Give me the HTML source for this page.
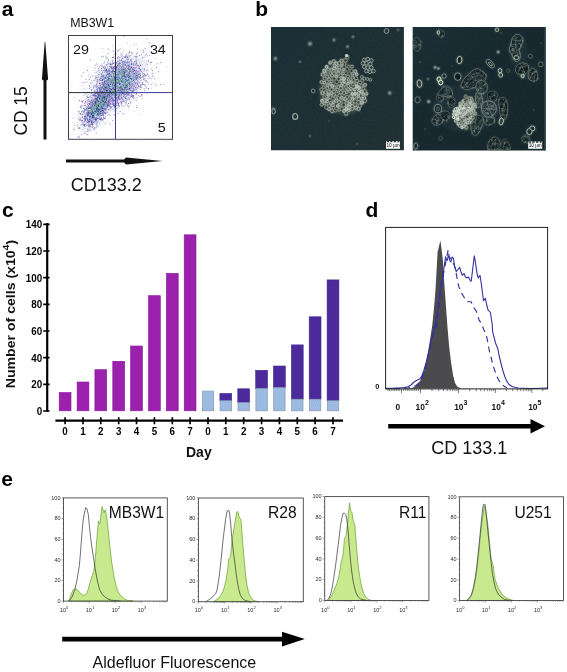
<!DOCTYPE html>
<html lang="en"><head><meta charset="utf-8"><title>Figure</title>
<style>
html,body{margin:0;padding:0;background:#fff}
svg{display:block}
text{font-family:"Liberation Sans",sans-serif;fill:#111}
.pl{font-size:21px;font-weight:bold;fill:#000}
.tb{font-size:10.6px;font-weight:bold;fill:#000}
.td{font-size:8.4px;font-weight:bold;fill:#111}
.te{font-size:5.5px;fill:#2a2a2a}
</style></head><body>
<svg width="567" height="672" viewBox="0 0 567 672">
<defs>
<clipPath id="clipA"><rect x="69.4" y="36.1" width="102.4" height="102.4"/></clipPath>
<filter id="blA" x="-30%" y="-60%" width="160%" height="220%"><feGaussianBlur stdDeviation="5"/></filter>
<pattern id="dots" width="2.2" height="4" patternUnits="userSpaceOnUse"><rect x=".3" y=".4" width=".9" height=".9" fill="#301050" opacity=".13"/><rect x="1.4" y="2.4" width=".9" height=".9" fill="#301050" opacity=".13"/></pattern>
<clipPath id="c1"><rect x="271" y="27" width="132.9" height="123.5"/></clipPath>
<clipPath id="c2"><rect x="412.7" y="27" width="132.9" height="123.5"/></clipPath>
<linearGradient id="bg1" x1="0" y1="0" x2="1" y2="1"><stop offset="0" stop-color="#1a2e36"/><stop offset=".5" stop-color="#1d2f34"/><stop offset="1" stop-color="#203033"/></linearGradient>
<linearGradient id="bg2" x1="0" y1="0" x2="1" y2="1"><stop offset="0" stop-color="#1a2e35"/><stop offset=".4" stop-color="#16282e"/><stop offset="1" stop-color="#15262b"/></linearGradient>
<radialGradient id="glow"><stop offset="0" stop-color="#aebbb0" stop-opacity=".95"/><stop offset=".45" stop-color="#7d8c86" stop-opacity=".6"/><stop offset="1" stop-color="#4a5a58" stop-opacity="0"/></radialGradient>
<radialGradient id="halo"><stop offset="0" stop-color="#8fa098" stop-opacity=".55"/><stop offset="1" stop-color="#8fa098" stop-opacity="0"/></radialGradient>
<filter id="b3" x="-20%" y="-20%" width="140%" height="140%"><feGaussianBlur stdDeviation=".5"/></filter>
<filter id="soft" x="-10%" y="-10%" width="120%" height="120%"><feGaussianBlur stdDeviation="1.2" result="b"/><feComponentTransfer in="b" result="b2"><feFuncA type="linear" slope=".55"/></feComponentTransfer><feGaussianBlur in="SourceGraphic" stdDeviation=".66" result="s"/><feMerge><feMergeNode in="b2"/><feMergeNode in="s"/></feMerge></filter>
<filter id="b0"><feGaussianBlur stdDeviation=".25"/></filter>
<filter id="b6" x="-20%" y="-20%" width="140%" height="140%"><feGaussianBlur stdDeviation=".6"/></filter>
<filter id="b12" x="-30%" y="-30%" width="160%" height="160%"><feGaussianBlur stdDeviation="1.3"/></filter>
<filter id="grain" x="0" y="0" width="100%" height="100%"><feTurbulence type="fractalNoise" baseFrequency=".55" numOctaves="2" seed="4" result="n"/><feColorMatrix in="n" type="matrix" values="0 0 0 0 .55  0 0 0 0 .68  0 0 0 0 .66  0 0 0 .55 -.18"/><feComposite operator="in" in2="SourceGraphic"/></filter>
</defs>
<rect width="567" height="672" fill="#fff"/>
<g opacity=".999">
<g id="pa">
<text x="1.8" y="15.9" class="pl">a</text>
<text transform="translate(70.2 27.2) scale(1.03 1)" font-size="12">MB3W1</text>
<g clip-path="url(#clipA)">
<g filter="url(#blA)"><ellipse transform="translate(119 81.5) rotate(-42)" rx="29" ry="20" fill="#8e95cc" opacity=".24"/><ellipse transform="translate(115 85) rotate(-45)" rx="22" ry="12" fill="#8aa8d0" opacity=".16"/><ellipse transform="translate(97 107.5) rotate(-56)" rx="24" ry="10" fill="#8e90c8" opacity=".24"/></g>
<path d="M119.9 63.5h.8M114 83.8h.8M125 82.8h.8M107.7 86.2h.8M121.6 77.2h.8M80.4 106.3h.8M110.3 88.5h.8M152 76.1h.8M113.9 100.8h.8M123.9 73h.8M119.2 81.2h.8M114 85.4h.8M103.5 68.2h.8M134.7 72.8h.8M109.4 91.7h.8M91.4 110.8h.8M139.7 70.5h.8M114.5 87.9h.8M143.2 79.3h.8M130 69.8h.8M116.3 94.8h.8M143.8 68.9h.8M114 84h.8M125.9 96.1h.8M103.2 88.5h.8M101 76.5h.8M126.2 86.3h.8M143.6 73.6h.8M122 65.9h.8M118.9 77.6h.8M101.1 74.5h.8M117.5 70.8h.8M90.6 101.7h.8M114.9 81.2h.8M124.1 88.1h.8M127.5 72.1h.8M98.2 115.7h.8M104.6 90.1h.8M105.6 70.2h.8M99.3 101.5h.8M88.6 108.4h.8M126 54.4h.8M94.5 109h.8M134.3 77.8h.8M132.9 96.8h.8M102.7 118.8h.8M108.4 85.9h.8M109.1 73.1h.8M96.3 114.7h.8M98.9 96.9h.8M136.6 105.3h.8M120 73.3h.8M123 72h.8M95.3 65.3h.8M114.2 106.9h.8M112.5 100.2h.8M117.8 96.7h.8M138.1 74.4h.8M111.8 68.5h.8M91.5 114.7h.8M98.9 112.4h.8M120.4 93.7h.8M102.9 101.8h.8M98.9 89h.8M101.6 111.8h.8M84.6 109.7h.8M125.7 76.7h.8M113.3 83.6h.8M140.7 71.4h.8M101.9 83.1h.8M91.8 82.7h.8M137.6 87.7h.8M135.9 53.7h.8M93.7 129.3h.8M104.3 109.5h.8M96.8 82.1h.8M124.6 87.4h.8M102.7 99.6h.8M108.2 102.3h.8M95.5 102.9h.8M136.3 78.7h.8M132.7 70h.8M95.8 133.1h.8M114 79h.8M111.9 82h.8M112 100.1h.8M101.5 77.9h.8M103.7 97.7h.8M102.1 101.2h.8M105.7 96.3h.8M97 93.4h.8M142.1 83.2h.8M106.3 102.3h.8M115.2 96.4h.8M103.2 108.6h.8M103.5 89.3h.8M147.2 64.8h.8M97.2 90.2h.8M109.4 73h.8M105.4 97.7h.8M127.9 89.1h.8M106.9 87.6h.8M121.9 78.8h.8M110.9 67.9h.8M111 98.4h.8M117.6 97.6h.8M99.2 110.2h.8M91.3 114h.8M108.9 102.1h.8M115.4 114h.8M102.1 99.3h.8M110.4 93h.8M126 93.9h.8M119.3 78.5h.8M100.8 103.3h.8M107 104.6h.8M127.3 59.9h.8M116.3 82.6h.8M123.7 94.6h.8M103.5 88.4h.8M129.6 76.1h.8M104.8 85.7h.8M101.4 105.6h.8M104.9 78.5h.8M118.2 87.5h.8M104.7 105.8h.8M124.2 57.3h.8M92 105.7h.8M95 106.1h.8M127.3 87.3h.8M113 76.3h.8M127.8 67.8h.8M103.8 104.2h.8M87.2 115.6h.8M98.9 101.1h.8M104.5 108.2h.8M125.6 63h.8M135.4 64.2h.8M109.6 101h.8M138.8 68.8h.8M117.8 104.3h.8M106.8 104.1h.8M143 75.9h.8M107.4 101.3h.8M135.8 100.1h.8M120.8 94.5h.8M137.3 88.4h.8M115.4 89.8h.8M113.1 87.7h.8M97.3 96.4h.8M87.5 120.5h.8M103 100.3h.8M118.2 76.7h.8M112.7 94.4h.8M110.2 79.4h.8M118.4 72.7h.8M107.5 90.7h.8M97.7 101.3h.8M138.7 77h.8M111.6 77.2h.8M98.3 70.2h.8M80 107.3h.8M92.9 109.2h.8M93.2 101h.8M132.6 92h.8M94.4 114.5h.8M83.8 118.8h.8M107.1 95.6h.8M95 104.6h.8M121.8 82.3h.8M103.4 98.8h.8M97.9 109h.8M110 89.7h.8M107.7 102.3h.8M87.3 113.2h.8M116.8 83.6h.8M113.9 95.5h.8M89.4 104.6h.8M137.4 74.2h.8M86.8 96.1h.8M119.4 75.1h.8M108 84.7h.8M102.4 119.8h.8M98.7 93.7h.8M131.8 52.8h.8M115.7 100.1h.8M120.9 80.9h.8M109.7 124.1h.8M105.5 104.9h.8M112 88.1h.8M91.5 123h.8M119.2 60.8h.8M122.8 82.9h.8M85.9 110.5h.8M116.6 91.2h.8M126.4 85.3h.8M112.8 51.4h.8M132.8 64.4h.8M112.9 71.2h.8M109.5 70.2h.8M108.2 77.8h.8M125.3 70.8h.8M88.6 101.6h.8M97.8 109h.8M103.5 76.2h.8M89.9 124.4h.8M121 92h.8M101.5 108.5h.8M96.2 110.6h.8M102.8 105.6h.8M99.9 91.7h.8M95.5 118.8h.8M106 81.5h.8M109.8 76.5h.8M118.7 76.9h.8M115.7 67.5h.8M93.7 105.3h.8M135.9 93.7h.8M115 60.3h.8M128.6 62.2h.8M124.3 77.9h.8M114.7 63.7h.8M110.9 81h.8M128.7 81.2h.8M125.4 68.5h.8M130.7 83.7h.8M88.8 126h.8M109.8 93.3h.8M138.8 73.5h.8M113.1 105.2h.8M87.7 114.6h.8M113.3 92.9h.8M122.6 78.7h.8M87.4 122.4h.8M113.3 73.2h.8M112.6 78.9h.8M93.7 101.2h.8M94 102.5h.8M137.5 80.7h.8M107.6 94.7h.8M104.4 102.7h.8M84.6 117.9h.8M103.6 94.7h.8M122.1 74h.8M99.7 78h.8M105.6 111.1h.8M125.9 78.1h.8M91.3 100.2h.8M135.7 61.8h.8M87 122.2h.8M144.7 80.6h.8M117.7 63.5h.8M103.8 94.7h.8M126.5 91.8h.8M93.7 103.6h.8M117.8 72.4h.8M123.6 36.6h.8M114.6 75.8h.8M109.6 109h.8M101.2 102.1h.8M113.5 94.8h.8M140.7 85.2h.8M90 119.2h.8M136.2 89.4h.8M87.4 113.3h.8M107.2 80.1h.8M116.6 85.8h.8M92.2 106.3h.8M119.5 92.2h.8M99.6 108.3h.8M124.2 83h.8M109.6 106.5h.8M100.3 90h.8M102.9 93.2h.8M97.6 113.6h.8M98.7 88.1h.8M129 82.9h.8M104.6 77.5h.8M83.4 111.4h.8M104.5 97.6h.8M101.4 89.2h.8M115.1 86.6h.8M144.6 76h.8M137.9 71.7h.8M127.1 86.1h.8M99.8 83.6h.8M92.8 113.1h.8M103 85h.8M102 93.8h.8M133.8 90.5h.8M105.2 118.1h.8M124.1 101.8h.8M79.4 128.6h.8M88.6 114.9h.8M128.1 95.1h.8M120 73.1h.8M127.7 82.6h.8M116.9 83.2h.8M94.2 95.1h.8M102.7 114.7h.8M111.5 98.2h.8M129.1 93.2h.8M96.9 94.5h.8M120.7 101.3h.8M135.3 75.7h.8M88.7 103.5h.8M115.8 74.3h.8M110.7 89.9h.8M105.3 87.2h.8M124.6 82.7h.8M107.5 92.3h.8M113.5 105.8h.8M102 95.4h.8M112.3 120.7h.8M93.3 111.7h.8M117.9 90h.8M99.5 113.6h.8M98.1 108.5h.8M98.8 107.3h.8M94.4 127.6h.8M136.2 63.2h.8M123.1 83.3h.8M109.1 76.3h.8M123.4 63h.8M99.7 103.4h.8M108.9 90.4h.8M116.3 82.4h.8M95.2 111.7h.8M100.4 109.6h.8M120.9 89.1h.8M121.6 90.8h.8M128.9 71.3h.8M124.3 85.7h.8M104.7 83.7h.8M108.3 87.3h.8M106.6 106.6h.8M113.3 57.3h.8M91.6 122.8h.8M93.8 115.1h.8M103.4 82.4h.8M94.9 104.5h.8M129.3 69.3h.8M120.9 86h.8M95 111.6h.8M117 57.8h.8M119.4 92.9h.8M92.3 113.8h.8M99.7 100.2h.8M91.6 97.9h.8M121.4 87h.8M126.2 77.1h.8M106.1 108h.8M125.2 79.4h.8M93.7 112.8h.8M116.1 63.9h.8M100.6 115.4h.8M91.1 100.8h.8M99.7 108.5h.8M116.8 79.6h.8M117.4 68.1h.8M107.7 100.5h.8M104 100.1h.8M103.9 86.9h.8M122.6 73.9h.8M88.3 111.2h.8M95.4 111h.8M84 116.8h.8M115.2 66.9h.8M94.2 106.2h.8M117.3 87.1h.8M108 69.8h.8M101.7 92.8h.8M102.5 72.2h.8M112.8 80.7h.8M129 84.7h.8M81.3 106.9h.8M151.7 73.2h.8M106.8 81.1h.8M98.7 96.1h.8M123.2 70.1h.8M95.7 105.8h.8M135.9 79.8h.8M138.4 78.7h.8M124.1 92h.8M138.9 86.7h.8M131.3 96.5h.8M88.4 126.6h.8M128 77.9h.8M135.8 74h.8M100.2 109.8h.8M125.3 86.7h.8M100.6 87.3h.8M116.9 77.4h.8M114.6 67h.8M95.7 117.7h.8M111.9 104.1h.8M119.5 83.8h.8M125 83.8h.8M133.1 75.8h.8M104.7 103.3h.8M123.1 75.2h.8M96.2 112h.8M96.5 102.9h.8M94.3 113.4h.8M98.9 67.1h.8M103.4 89.5h.8M100.7 97h.8M133.5 73.5h.8M98.2 94.4h.8M87.7 125.2h.8M122.3 58.3h.8M108.9 90.6h.8M83.6 124.6h.8M98.8 119.1h.8M86.7 114.8h.8M132.6 68.2h.8M88.2 109.1h.8M124.5 88.1h.8M94.2 121.3h.8M119.8 74.1h.8M127.2 68.7h.8M89.5 101h.8M128.8 76.9h.8M118.8 77.8h.8M109.2 90.9h.8M100.4 113.5h.8M85 119.7h.8M106.6 71.1h.8M121.6 93.4h.8M106.2 93.3h.8M84.1 126.2h.8M104.7 106h.8M99.2 98.9h.8M99.4 88.6h.8M131.3 94.1h.8M98.3 112.6h.8M111 90.3h.8M121.5 97.7h.8M120.8 97.6h.8M146.5 81.9h.8M113.1 92.6h.8M123.9 77h.8M103.4 88.5h.8M78.6 137.5h.8M112.9 91.6h.8M89 119.2h.8M117.3 100.7h.8M98.7 95.1h.8M105.1 77.1h.8M107.2 104.8h.8M87.1 104h.8M92.4 95h.8M114.6 80.9h.8M82.5 122.7h.8M107.8 105.7h.8M131.9 97.2h.8M91.1 112.1h.8M86.9 116h.8M112.5 99.5h.8M110.6 64.3h.8M143.3 84.5h.8M123.6 71.8h.8M134.5 90.1h.8M128.6 72.2h.8M115.7 110.6h.8M114.5 93.1h.8M86.6 106.6h.8M122.6 65.9h.8M88.3 113.6h.8M125.1 87.7h.8M92.8 95.7h.8M125.5 87.3h.8M111.1 94.3h.8M107.8 83.2h.8M116.8 83h.8M121.7 76h.8M106.4 65.1h.8M124.9 81.3h.8M91.2 124.1h.8M131.1 86.7h.8M90.9 90.7h.8M134.2 86.2h.8M126.9 81.2h.8M97.4 109.5h.8M112 102.1h.8M119.3 65.6h.8M110.6 74.6h.8M147.3 55.9h.8M97.8 94.7h.8M113.2 104.8h.8M101.3 104.2h.8M133.1 88.6h.8M95.1 102.2h.8M109.4 90.5h.8M128.3 107h.8M117.5 103.8h.8M96.9 79.9h.8M139.7 96.5h.8M92.1 104.2h.8M112.2 80.2h.8M123.6 95.6h.8M93.3 116.1h.8M123.8 97.7h.8M101.4 109.1h.8M130.3 60.5h.8M88 115.3h.8M87.7 124.2h.8M81.9 117.2h.8M89.1 117.4h.8M107.7 95.9h.8M102.9 106h.8M118.8 90.3h.8M109.6 86.4h.8M88.5 122.8h.8M107.8 63.8h.8M109.7 67.3h.8M126.4 87.3h.8M109 78.1h.8M126.5 93.6h.8M100.8 91.4h.8M110.2 72h.8M90.9 93.6h.8M108.2 89.3h.8M106.2 90.8h.8M94.8 97h.8M98.4 109.8h.8M83 125.2h.8M130.4 68.5h.8M109.5 105h.8M129.5 77.4h.8M137.7 65.5h.8M86.9 92.2h.8M146.6 38.9h.8M109.1 102.4h.8M88.7 119.4h.8M127.1 74.9h.8M102.9 114.7h.8M100.8 102.6h.8M113.8 93.7h.8M149.7 78.4h.8M89.4 117h.8M112.6 98.5h.8M131.4 61.5h.8M95.1 93.1h.8M95.9 115.7h.8M135 77.3h.8M103.4 70.5h.8M90.5 95.2h.8M90.5 112h.8M124.5 71.8h.8M92.3 117.1h.8M124.2 74.4h.8M138.9 66.4h.8M95.6 120.8h.8M135.7 44.6h.8M135.7 59.3h.8M119 92.2h.8M121.6 71.7h.8M89.7 112.1h.8M82.6 124.5h.8M102.4 107.1h.8M131.4 52.8h.8M99.7 104.8h.8M87.6 115h.8M105.6 108.7h.8M81.6 134.7h.8M135.5 67.4h.8M127.5 65.1h.8M99.8 106.7h.8M102.6 100.9h.8M108.8 88h.8M126.3 56.7h.8M90.9 109.5h.8M90.3 126.8h.8M113.5 89.4h.8M102 82.6h.8M121.9 91.6h.8M93.1 95.5h.8M103 117.3h.8M120.4 86.7h.8M125.5 84.6h.8M79.2 127.7h.8M97.5 114.8h.8M94.3 117.9h.8M109.2 95.4h.8M128.8 69.2h.8M104.9 69h.8M102.8 113.5h.8M107.8 80.2h.8M112.1 95h.8M100.1 107.6h.8M101.8 86.7h.8M113.4 79.6h.8M101.9 113.2h.8M106.9 104.6h.8M108.5 83.9h.8M93.6 128.8h.8M140.2 65.6h.8M111.4 67.4h.8M117.7 82.6h.8M118.7 80.8h.8M104.8 94.5h.8M93.9 109.5h.8M114.2 97.5h.8M96.5 100.6h.8M113.3 88.5h.8M129.8 59.7h.8M111.3 94.9h.8M103.8 91.8h.8M114.5 85h.8M84.2 125.7h.8M124.9 77h.8M135.9 57.1h.8M122.6 76.4h.8M106.1 94.9h.8M98 103h.8M134.3 68.2h.8M102.6 67.2h.8M104.6 94.8h.8M128.7 89.8h.8M128.8 63.8h.8M95.2 112.4h.8M129.3 72h.8M118.4 96h.8M135.2 83.9h.8M135.7 76.8h.8M95.9 63.9h.8M102.4 84.2h.8M97.3 91.5h.8M90.1 120.1h.8M96.9 110.8h.8M125.8 70.5h.8M137.2 52.8h.8M104.9 91.9h.8M102.9 85.9h.8M121.1 74.3h.8M114.6 76.2h.8M98.7 106.8h.8M89 107.5h.8M91.9 101.7h.8M123.8 93.6h.8M108.9 80.8h.8M117.6 83.8h.8M114.1 71.4h.8M111.3 66.2h.8M103.7 110.3h.8M115.9 84h.8M122.3 81.2h.8M128.6 56.9h.8M103.1 110.3h.8M88.4 114h.8M146.1 54.3h.8M127.6 76.3h.8M108.6 73.6h.8M133.4 77.4h.8M137.2 75.8h.8M125.8 100.8h.8M130.6 95.8h.8M96.2 92.9h.8M111.4 80.7h.8M121.7 69.5h.8M91.3 120.6h.8M140.3 78.5h.8M137.5 75.7h.8M108.9 100.1h.8M104.9 67.1h.8M109.6 107h.8M119.9 87.1h.8M127.1 57.5h.8M90.9 123.6h.8M111.5 71.7h.8M131.8 95.9h.8M85 101.7h.8M105.2 109.3h.8M113.3 77.4h.8M121.6 70h.8M123.7 82.7h.8M126.5 63h.8M108.1 74.1h.8M133.2 90.1h.8M115.8 71.7h.8M121 91.6h.8M106.4 113h.8M96.3 102.2h.8M123 73.3h.8M138.4 82.3h.8M103.4 95.4h.8M101.5 115h.8M116.6 100.9h.8M107.1 79.7h.8M118.6 92.9h.8M89.5 125.3h.8M91.6 121.7h.8M103.2 89.6h.8M116.7 75.7h.8M85 119.2h.8M84.2 116.3h.8M125.8 74.4h.8M104.1 86.9h.8M99.8 113.4h.8M98.5 74.7h.8M89 121.3h.8M99.2 115.4h.8M121.1 68h.8M80.9 75.9h.8M125.1 82.1h.8M87.3 115.6h.8M104.2 69.2h.8M120.9 71.1h.8M95.2 103.2h.8M129.1 52.5h.8M128.3 92.7h.8M126.4 90.8h.8M87.1 107.9h.8M122.8 101.1h.8M80.8 120.2h.8M118.2 82.4h.8M99.4 123.1h.8M96.4 99h.8M99.8 85.6h.8M101.9 84.5h.8M92.9 119h.8M101.7 79.2h.8M129.1 92.7h.8M100.9 102.3h.8M98 105.1h.8M130.2 97.2h.8M132.2 68.8h.8M114.8 123.6h.8M87.4 114.1h.8M116.3 67.3h.8M99.9 89.8h.8M131.6 63.7h.8M96.9 81.1h.8M100.5 97.2h.8M89.6 108.1h.8M101.2 118.1h.8M107.4 97.2h.8M101.5 97.8h.8M96.3 106.3h.8M111.6 90.1h.8M119.6 69h.8M136.8 49h.8M117.1 79.6h.8M98.7 114.5h.8M132 88.8h.8M96.2 104.6h.8M100.9 111.7h.8M117.8 64.4h.8M123.1 80.4h.8M114.8 83.9h.8M122 62.6h.8M108.2 97.9h.8M101.4 93.7h.8M99.8 112.9h.8M118.1 71.7h.8M118.8 57.8h.8M130.2 85h.8M101.2 89h.8M104.1 81.3h.8M127.4 91.2h.8M87 131.1h.8M100.7 93.4h.8M115.8 83.2h.8M135.4 56.9h.8M124.8 77.4h.8M109.6 99.1h.8M100.2 85.3h.8M91 104.9h.8M135.5 72.1h.8M96.6 96.1h.8M109.1 70.6h.8M132.6 78.2h.8M136.4 60.9h.8M109.1 105.2h.8M133.1 84.9h.8M126.4 80.1h.8M111.9 72.2h.8M102.8 113.3h.8M91.4 116.2h.8M131.9 76.8h.8M101.3 70.7h.8M106 98.4h.8M107.7 81.9h.8M123.3 61.2h.8M110.2 103.6h.8M123.1 86.9h.8M86.4 113.9h.8M103.6 98.1h.8M112.5 86.8h.8M91.6 104.8h.8M87 113.7h.8M95.8 106.1h.8M114.7 94.9h.8M110.4 86.4h.8M126.5 80.8h.8M105.6 102.8h.8M93.9 91.2h.8M107.9 71h.8M105.4 102.2h.8M86.8 112.5h.8M92.4 124.5h.8M125.4 86.2h.8M101.6 100.4h.8M90.3 130.3h.8M98.2 68.9h.8M123.5 64.2h.8M119 82.1h.8M100.4 105.4h.8M103.8 118h.8M101 68.5h.8M105.4 106.7h.8M113 92.4h.8M96.4 107.9h.8M131.3 67h.8M114.9 97.5h.8M129.4 72.9h.8M106.9 95h.8M123.4 90.8h.8M89.5 120.3h.8M101.7 87.5h.8M125.7 89.4h.8M124.9 76.8h.8M112.5 109.7h.8M93.3 118h.8M112.4 67.8h.8M92.6 116.7h.8M105 87.2h.8M95.7 102.7h.8M99.5 113.7h.8M132.1 79.1h.8M139.6 77.4h.8M103.8 84.9h.8M92.3 115.9h.8M109.7 84.7h.8M98.2 95.2h.8M114 76.5h.8M111.2 93.2h.8M140.5 84.9h.8M118.2 83.4h.8M114.2 105.1h.8M86.7 108h.8M90.4 112.1h.8M88.8 115.5h.8M97 118.3h.8M137.6 76.1h.8M89.1 116.8h.8M101.5 93.7h.8M117.3 65.5h.8M108.7 88.5h.8M73.7 129.4h.8M103.4 102.2h.8M101.1 92.4h.8M80.6 114.6h.8M115.8 103.7h.8M129.6 89.7h.8M122.4 76.4h.8M109.7 100h.8M103.5 78.9h.8M112.8 84h.8M107.2 77.4h.8M110.5 82.6h.8M134.3 61.5h.8M101.6 97.1h.8M89.2 88.2h.8M121.5 93.1h.8M106.2 84.7h.8M96.1 96h.8M127.5 88.9h.8M103.4 98h.8M106.7 72.7h.8M91.9 112.5h.8M104.4 80.7h.8M101.8 108.7h.8M100 96h.8M99.4 108.9h.8M116 70.1h.8M81.3 124.3h.8M101.7 114.9h.8M96.6 125.9h.8M95.3 119.1h.8M148.2 60.3h.8M106.6 64.8h.8M110.6 95.3h.8M117 78.8h.8M82 102.2h.8M107.8 74.2h.8M101.8 108.4h.8M108.3 105.7h.8M79.8 113.5h.8M89.5 103.4h.8M128.8 99.5h.8M102.1 80.9h.8M119.4 93.7h.8M113.4 88.3h.8M94.8 98.9h.8M115.6 74.9h.8M123.3 94.7h.8M112.6 69.8h.8M110.3 89.4h.8M131.3 79h.8M131.1 84.1h.8M116.7 92.3h.8M117.6 89.3h.8M108.1 101.4h.8M99.5 94.7h.8M128.9 86.6h.8M104.4 83.8h.8M128.2 103.6h.8M94.4 109.4h.8M97.1 114.2h.8M95.4 103.2h.8M113.3 71.7h.8M122.6 76.2h.8M123.7 74.4h.8M103.1 108.5h.8M102.7 105h.8M98.7 111.5h.8M86.9 97.5h.8M92.1 127.3h.8M92.6 103.5h.8M97.3 108.1h.8M109.6 103.6h.8M124.7 94.2h.8M115.4 78.1h.8M94.9 120h.8M96.6 110.3h.8M119.8 89.6h.8M109.5 90.7h.8M97.7 106h.8M124 73.1h.8M104.9 123.3h.8M100.8 107.5h.8M99.3 107.6h.8M96.4 99.4h.8M103.8 87.7h.8M118.5 105.5h.8M103.5 96.2h.8M98.3 92.3h.8M108.7 83.1h.8M110.4 84.3h.8M105 90.1h.8M106.4 92.9h.8M108.4 79h.8M107.9 103.2h.8M96.6 98.5h.8M91.3 121.5h.8M116.6 97.3h.8M91.1 122.2h.8M115.9 80.8h.8M96.7 86h.8M103.8 98.4h.8M108.6 75.1h.8M127.7 94.1h.8M99.4 114.1h.8M89.7 114.2h.8M126.3 99h.8M92.5 122.9h.8M130.9 78.7h.8M155.8 85.4h.8M116 67.7h.8M137.8 68.5h.8M84 111.4h.8M89.6 116.2h.8M118 76.6h.8M106.4 75.9h.8M130.4 70.1h.8M148.2 76.7h.8M101.8 88.4h.8M97.1 115.5h.8M129 64.9h.8M132.8 69.3h.8M114.9 74.3h.8M100.5 111.2h.8M119 62.7h.8M96.1 91.9h.8M119.5 73.1h.8M108.9 78.4h.8M126.5 83.6h.8M126.7 65.8h.8M103.7 103.9h.8M101.7 108.4h.8M158 71.8h.8M108.4 89.9h.8M128.9 94.8h.8M123.6 61.6h.8M105.9 87.2h.8M124 92.1h.8M133.9 79.2h.8M101.1 92.3h.8M117.5 58.2h.8M98.6 87.8h.8M103.9 112.4h.8M98.2 109.8h.8M78.2 118.9h.8M108.6 96.3h.8M108.7 105.4h.8M96.2 84.8h.8M103 96.2h.8M115.7 93h.8M108.5 96.7h.8M130.1 90.7h.8M106.4 104.9h.8M124 76.2h.8M99.5 107.8h.8M110.4 81.8h.8M134.2 81.9h.8M95.2 98.2h.8M119 87.4h.8M120.4 79.3h.8M98.3 106.4h.8M107.3 85h.8M101 93.3h.8M94.7 85.6h.8M131.6 70.9h.8M141.9 57.9h.8M121.3 102.8h.8M105.5 70.4h.8M113.8 89.3h.8M92.6 112.4h.8M98.7 98h.8M90 112.5h.8M119.6 95.7h.8M102.8 75.1h.8M114.1 94.1h.8M128.5 67.6h.8M151.3 84.5h.8M105.3 81.1h.8M97.2 97.3h.8M88.3 100.1h.8M126.8 94h.8M131.1 64.5h.8M126.7 74.1h.8M84.3 119.2h.8M129.7 76.4h.8M119.3 99.8h.8M118.5 97.5h.8M124.8 72.6h.8M120.7 70.4h.8M142.5 76.7h.8M91.1 122.5h.8M125.1 98.1h.8M109.2 71h.8M133.6 97.7h.8M105.9 99.9h.8M133.6 86.5h.8M87 115.8h.8M97.1 88.8h.8M108.6 92.4h.8M107.5 62.6h.8M113.6 80.3h.8M107.9 85.2h.8M99.1 91.4h.8M141 94.4h.8M87.8 113.4h.8M84.5 110.5h.8M87 120.3h.8M98.1 111h.8M102.8 101.1h.8M146 80.8h.8M88.5 110.9h.8M122.5 89.9h.8M136.7 72.9h.8M104.1 109.1h.8M114.1 66.9h.8M112 94.4h.8M88.9 79.6h.8M132.3 74.2h.8M132.3 81.9h.8M97.9 109h.8M111.2 98.2h.8M103.3 91.6h.8M96.5 103.3h.8M160.2 84.5h.8M85 115.9h.8M156 67.5h.8M104.9 112.8h.8M113.4 73.6h.8M107.6 73.8h.8M96.3 77.4h.8M134.9 87.4h.8M132.5 72.4h.8M96.9 99.7h.8M120.1 84.1h.8M128.7 77.8h.8M99.7 93.9h.8M105.1 94.9h.8M117.2 51.1h.8M101.5 65.8h.8M119.6 88h.8M134.7 89.1h.8M98.1 104.5h.8M99.5 113.3h.8M100.8 100.2h.8M132.2 85.8h.8M120.8 102.6h.8M152 70.6h.8M83.9 133.4h.8M104.6 83.8h.8M100.7 109.9h.8M92.9 107.9h.8M135.5 87.3h.8M152.7 73.9h.8M115 68.5h.8M94.5 113.7h.8M104.3 113.1h.8M97.2 107.5h.8M106.3 80.4h.8M103.4 104.4h.8M91.9 111.6h.8M91.9 108.8h.8M119.5 80.9h.8M113.6 78.1h.8M95.8 104.7h.8M131.5 87.3h.8M90.3 83h.8M87.3 119h.8M91.3 108.1h.8M99.3 106.7h.8M77.8 136.5h.8M130.4 74.9h.8M114.5 75.3h.8M106.3 78.8h.8M119.6 67.8h.8M90.3 113.6h.8M102.8 97.6h.8M96.6 89.6h.8M135.9 70.9h.8M129.1 79h.8M125.3 94.4h.8M122.7 81.5h.8M108.1 79.9h.8M97.8 87.4h.8M95.9 87.7h.8M125.7 67.3h.8M118.1 68.6h.8M116 66.4h.8M113.2 83.3h.8M93.8 113.4h.8M114.3 73.1h.8M123.6 89h.8M92 123.6h.8M107.3 66.9h.8M81 111.7h.8M103.4 105.9h.8M106.4 102.8h.8M105.3 105.1h.8M81.6 105.5h.8M91.1 110h.8M122.7 64.4h.8M147.9 84h.8M102.9 100.1h.8M123.6 76.4h.8M93 104.5h.8M122.9 67.6h.8M95.1 99.3h.8M127.9 65.2h.8M117.4 73.5h.8M121.5 72.1h.8M103.5 102.9h.8M101.1 113.4h.8M101.8 110.6h.8M106 75.3h.8M120.1 66.1h.8M118.4 90.5h.8M114.5 82.4h.8M102.5 79.9h.8M127.3 74.7h.8M100.2 119.6h.8M109.2 88.5h.8M128.3 69h.8M105.6 99.6h.8M112.1 84.6h.8M137.2 77.3h.8M114.1 105.3h.8M132 91.2h.8M132.6 80.2h.8M107.7 53.5h.8M98.6 97h.8M94.3 108.4h.8M129.7 76.5h.8M115.5 72.5h.8M101.3 56.4h.8M90.9 120.7h.8M124.9 89.1h.8M107.1 95.8h.8M86.4 112.9h.8M106.7 71.5h.8M100 100.9h.8M105.8 74.7h.8M89 85.6h.8M123.5 99.9h.8M105.4 109h.8M113.9 108h.8M82.2 120.6h.8M93.5 103.5h.8M104.1 90.8h.8M104.5 96.2h.8M121.9 101.2h.8M121.3 80.7h.8M104.1 61.9h.8M97 105.4h.8M122.8 113.5h.8M131.1 63.2h.8M96.1 124.1h.8M107.9 80.2h.8M87 119.1h.8M107.8 77.8h.8M124.3 62.5h.8M115.3 74h.8M87 119h.8M137.7 65.4h.8M137.9 85.5h.8M114.8 105.1h.8M110.7 83.2h.8M107.7 77.3h.8M91.5 114.2h.8M106.2 92.4h.8M118.7 71h.8M108.8 96.8h.8M130.3 90.1h.8M116.7 88.2h.8M105.9 98.1h.8M114.3 96.2h.8M100.9 100.7h.8M135.7 85.8h.8M129.7 90.3h.8M129.9 69.2h.8M94.9 78.6h.8M99.6 111h.8M150.6 62.6h.8M114.1 68.8h.8M107.2 93.6h.8M82.3 116.8h.8M128.6 76.3h.8M111.4 104h.8M100.1 96.4h.8M115.9 94.3h.8M97.2 118.9h.8M134.6 73.9h.8M102.2 101.3h.8M88 105.5h.8M79.6 120.1h.8M105.6 89.7h.8M84.3 108.9h.8M100.4 112.4h.8M108.2 85.6h.8M95.1 101.3h.8M91.2 124.3h.8M99.8 107.8h.8M120.4 70.4h.8M121.5 75.5h.8M118.4 90.2h.8M85.5 118.9h.8M97.5 121.3h.8M127.4 75.9h.8M86.6 97h.8M99.4 112.1h.8M102 98.6h.8M124.4 62.9h.8M110.5 89.7h.8M101.8 87.6h.8M124.3 72.4h.8M128.9 74.8h.8M144.8 55.7h.8M96 99h.8M125 85.5h.8M133.2 91h.8M104.3 81.4h.8M127.1 86.2h.8M130.3 87.9h.8M103.9 101.5h.8M82.2 101.3h.8M136.1 70.4h.8M108.1 76.9h.8M111.9 98h.8M91 102.1h.8M111.9 86.2h.8M123.1 96.5h.8M102.7 102h.8M92 105.7h.8M107.8 70.9h.8M91.6 116.9h.8M97.5 108.1h.8M114 91.9h.8M106.4 83.8h.8M91.7 103.7h.8M106.9 105.2h.8M97 122.4h.8M102.2 92.6h.8M115.9 79.7h.8M142.2 84.5h.8M82.5 82.9h.8M101.2 106.3h.8M102.2 95.6h.8M96.3 72.1h.8M112.4 70h.8M133.2 80.8h.8M84.5 82.3h.8M110.6 89h.8M98.9 99.1h.8M99.5 102.9h.8M94.2 103.9h.8M90.6 113.3h.8M133.6 65h.8M116 87.1h.8M122 79.4h.8M89.5 129h.8M117.8 74.9h.8M130.5 101.9h.8M115.8 75.7h.8M146.2 70.6h.8M123.5 71.3h.8M81.7 111.1h.8M111.5 68.9h.8M96.2 102.7h.8M124.6 70.8h.8M115.1 86.4h.8M100.5 97.6h.8M94.4 111.8h.8M96.5 86.4h.8M103.6 96.7h.8M105.7 97.1h.8M103.7 99.9h.8M94.7 95.2h.8M130.2 78.2h.8M126.1 71.7h.8M109.3 97.7h.8M124 78.1h.8M90.6 100h.8M136.7 72.9h.8M126.9 71.2h.8M88 97.6h.8M127 95.2h.8M97.7 94.9h.8M107.2 74.4h.8M104.2 72.2h.8M105.5 88.9h.8M89.2 113.7h.8M100.3 100.4h.8M98.5 108.6h.8M84.4 89.1h.8M135.8 93.6h.8M142.1 72.9h.8M96.9 104.5h.8M88.8 125.1h.8M154.1 78.6h.8M115.7 83.4h.8M93.7 107.6h.8M120.2 89.1h.8M98.8 109.4h.8M131.3 64.7h.8M127.6 74.1h.8M135 82.8h.8M127 105.2h.8M77.9 111.8h.8M116.4 108.5h.8M96.8 105.2h.8M98.9 92h.8M106.5 88.2h.8M83.6 95.2h.8M140.1 69.6h.8M104.9 99.8h.8M122.3 89.6h.8M116.1 67.5h.8M119 94.8h.8M104.2 94.1h.8M118.4 82.4h.8M113.2 69.2h.8M126.6 76.7h.8M131.9 91.1h.8M114.7 97.4h.8M99.1 91.9h.8M78.6 111.7h.8M98.1 97.2h.8M121.1 95.1h.8M105.1 84.2h.8M121.7 81.1h.8M100.1 94.8h.8M94.7 112.7h.8M91.5 120.6h.8M99.6 119h.8M99.9 98.6h.8M101.1 110.5h.8M97.7 113.4h.8M74.5 125.7h.8M111.6 80.2h.8M102.6 112.6h.8M92.7 121.5h.8M107.5 82.1h.8M95.2 95.3h.8M116.2 68.9h.8M93.2 87.1h.8M114 78.2h.8M148 61.8h.8M108.9 71h.8M104.8 87.7h.8M95.6 95.8h.8M121.6 54.8h.8M126.7 80.6h.8M105.5 96.5h.8M86.7 114.2h.8M121.7 72.8h.8M116.6 74.6h.8M107.2 74.1h.8M109.5 90h.8M117.2 61.2h.8M110.7 81.6h.8M126.6 70.3h.8M132.6 96.9h.8M102.9 84.6h.8M93 109h.8M128.3 68.5h.8M104.2 118.6h.8M95.2 119.1h.8M113 103.6h.8M122.2 61.2h.8M86.3 125.7h.8M120.9 85.9h.8M80.8 101.1h.8M131.1 92.2h.8M110.6 94.2h.8M103.9 108.7h.8M117.3 102.6h.8M149.3 55.2h.8M102.1 110.7h.8M82.2 114.3h.8M115.7 85.2h.8M97.8 103.9h.8M143.8 88.6h.8M98.7 118h.8M128.7 72.6h.8M102.5 97.7h.8M105 102.3h.8M106.2 70.3h.8M129.2 76.3h.8M107.3 105.5h.8M92.9 122.3h.8M114.4 86h.8M112.1 79.4h.8M107.2 107.4h.8M113.4 100h.8M90.6 105.3h.8M93.5 106.6h.8M100.4 117.9h.8M136.4 63.2h.8M134.3 74.8h.8M108.8 74h.8M125.1 76.4h.8M93 117.8h.8M118.9 84.2h.8M87.1 119.7h.8M133.3 63.3h.8" stroke="#2626a0" stroke-width=".8" fill="none" opacity=".8"/>
<path d="M107.5 95.9h.8M110.2 99.6h.8M120.4 101.8h.8M86.6 109.5h.8M119.2 84h.8M103.4 103.8h.8M118.3 80.8h.8M119.6 72h.8M98.4 112.3h.8M146.7 93.4h.8M151.4 88.4h.8M134.7 75.9h.8M125.3 84.3h.8M103.5 70.8h.8M136.5 97.8h.8M116.5 82.7h.8M100.6 102.9h.8M131 62.8h.8M135.9 64h.8M137.5 84.7h.8M143.5 84.1h.8M113.4 74.4h.8M118.4 81.5h.8M115.4 78.4h.8M102.9 100.4h.8M105 102.1h.8M97.9 93.8h.8M144.1 85.2h.8M124.1 75.4h.8M134.2 83.7h.8M102.1 111.1h.8M105.8 96.1h.8M122.6 101h.8M89.7 107.2h.8M98.5 105.9h.8M105.4 97h.8M106.4 92h.8M70.5 91.9h.8M116.6 90.1h.8M105.6 90h.8M88.9 108.1h.8M140.9 77.5h.8M109.3 92.3h.8M111.8 73.3h.8M127.9 103.4h.8M127.5 66.3h.8M87.2 101.1h.8M117.3 73.5h.8M101.5 102.5h.8M89.2 112.8h.8M127.9 73.3h.8M140.1 86.8h.8M104.5 101.5h.8M101.4 97.2h.8M100.5 88h.8M89.1 107.5h.8M88.1 131.6h.8M100.8 94.1h.8M112.4 62.7h.8M112.2 93.2h.8M112.9 87.3h.8M79.3 120.4h.8M103 85.6h.8M100 94.4h.8M119 94.8h.8M121.2 74.8h.8M128.6 67.1h.8M100 104.5h.8M135.1 67.9h.8M81.7 101.4h.8M106.8 94.2h.8M113.1 81.4h.8M102.8 108.3h.8M114.1 96.8h.8M96.4 101.2h.8M139.2 83.2h.8M95.9 92.2h.8M123.5 91.1h.8M83.6 127.9h.8M89.1 111.6h.8M101.5 66.1h.8M128.6 79.9h.8M131.6 94.4h.8M99.5 109.6h.8M94.9 113h.8M94.5 105.1h.8M124.8 77.9h.8M107 107.4h.8M87.1 122.2h.8M101 119.3h.8M92.4 104.4h.8M118.4 102.8h.8M141.1 95.5h.8M116 105.2h.8M125.4 71.7h.8M95.5 117.7h.8M113.2 74.4h.8M116.4 100h.8M132.6 83h.8M104.2 104.5h.8M103 92.4h.8M133.2 70.7h.8M106.4 90.4h.8M131.1 81.2h.8M124.9 86.1h.8M95.3 110.9h.8M113.1 56.3h.8M110.1 108.3h.8M114.9 101.2h.8M93.1 99.6h.8M109.1 96.7h.8M107.4 85.9h.8M125 58.1h.8M95.6 109h.8M155.7 64h.8M117.4 99.1h.8M131.9 95.6h.8M146.6 74.9h.8M103.4 93.1h.8M108.8 93.8h.8M126 72.5h.8M101.5 104.2h.8M144.3 70.8h.8M96.5 78.9h.8M111.3 84h.8M93 114.4h.8M126.9 64h.8M141.8 57.9h.8M151.1 78.4h.8M105.1 99.1h.8M91.5 109.7h.8M103.2 101.2h.8M109.9 110.3h.8M91.8 115.9h.8M102.5 104.3h.8M107.3 98h.8M118.1 83.5h.8M92.1 102.8h.8M133.6 56.3h.8M142 82.6h.8M103.9 113.2h.8M108.7 89.7h.8M135.3 71.2h.8M108 100.5h.8M111.1 93.5h.8M106 103.2h.8M132.5 69.5h.8M138.3 71.1h.8M152.8 76.8h.8M125.8 83.5h.8M92.2 112h.8M119.2 82.5h.8M133.7 68.6h.8M105.5 80.8h.8M128.6 76.2h.8M123.4 65.6h.8M114.5 76.1h.8M120.7 86.1h.8M86.6 102.7h.8M99.3 96.1h.8M122.9 89.6h.8M116.2 72.3h.8M102.7 91.5h.8M107.2 104.1h.8M121.9 61.7h.8M111 71.2h.8M122.3 70.1h.8M130.5 66.3h.8M112.5 87.4h.8M110.6 100.4h.8M119.3 96.1h.8M96.8 100.9h.8M116.4 82.6h.8M104.3 91.4h.8M101.9 112.4h.8M115.2 64.6h.8M106.6 96.2h.8M115.1 57.3h.8M110.5 72.3h.8M100.7 99.6h.8M115.4 90.4h.8M79.8 124.1h.8M100.6 106.4h.8M94.4 94.6h.8M121.4 56h.8M80.3 120.3h.8M124.4 74.3h.8M112.6 94h.8M104.7 109.4h.8M114.3 82.9h.8M132.3 70.7h.8M133.2 80.3h.8M101.7 75.2h.8M80.2 114.4h.8M125 74.8h.8M100.3 105.2h.8M142.9 57.2h.8M103.5 88.5h.8M111.8 97.7h.8M105.3 96.7h.8M118.6 102.7h.8M114.4 54.3h.8M150.9 69.8h.8M113.3 75.3h.8M112.8 63.6h.8M102.7 105.9h.8M135.2 65.4h.8M99.9 112.5h.8M131.1 73.1h.8M86.8 110.4h.8M115 102.5h.8M87 115.2h.8M87.1 110.1h.8M125.2 93.3h.8M122.1 52.8h.8M131.6 84.7h.8M115.6 77.8h.8M136.4 66.3h.8M95.5 90.7h.8M128.5 68.7h.8M87.1 114.2h.8M95 96.5h.8M132.5 63.8h.8M128.3 73.9h.8M104 66.3h.8M114.7 83.1h.8M129.2 66.5h.8M103.6 94h.8M92.4 94h.8M105.4 77.3h.8M126.7 99.9h.8M88.3 126.8h.8M98.9 94.4h.8M113.8 83.1h.8M98.4 80.2h.8M99.6 96.2h.8M110.5 82h.8M123.2 86.1h.8M118.2 50.1h.8M80.9 108.3h.8M85.8 117.8h.8M114.8 79.3h.8M97.2 64.9h.8M91.1 106.5h.8M127.2 84.4h.8M102.7 105.6h.8M146.9 69.7h.8M119.3 98.6h.8M122.3 106.9h.8M89.4 107.2h.8M95.9 122.9h.8M125.8 71.3h.8M102 101.5h.8M95.3 102.1h.8M111.1 74.1h.8M119.9 60.7h.8M99.8 118.7h.8M100.7 110.7h.8M114.6 80.9h.8M137.5 82.1h.8M124.9 98h.8M117.7 88.5h.8M101.3 113.6h.8M122.2 99.5h.8M116.4 70.2h.8M126.5 92.2h.8M121.5 88.5h.8M95.8 114.7h.8M124.2 65h.8M119.6 82.9h.8M137.4 56.7h.8M115.2 69.6h.8M102.8 95.4h.8M132.4 84.9h.8M129.8 46.3h.8M99.9 97.8h.8M93.2 119.8h.8M122 89.5h.8M113.9 80.3h.8M111.6 96.7h.8M95.8 119.2h.8M98.7 87.8h.8M133.2 45h.8M127.3 85.5h.8M100.7 82.4h.8M118.1 73h.8M125.8 69.7h.8M103.2 83.8h.8M100.2 65.5h.8M101.7 95.9h.8M95.5 109.9h.8M104.8 114.6h.8M128.4 76.4h.8M115.8 91.4h.8M118 65.6h.8M84.6 103.4h.8M103.4 82.4h.8M128.2 93.5h.8M97.9 107.5h.8M101.3 107.9h.8M107.5 103.5h.8M104.8 67.3h.8M126.8 62.6h.8M93.9 104.8h.8M128 79.1h.8M98.8 82.2h.8M98.1 103.7h.8M123.8 67.3h.8M131.5 95.2h.8M102.4 106.2h.8M90.4 103.5h.8M102.5 104.1h.8M94.8 100.7h.8M133.1 84.2h.8M104.7 96.6h.8M102.5 102.1h.8M119.6 80.1h.8M109.5 81.6h.8M131.6 59.2h.8M112 88h.8M105.8 81.2h.8M113.7 110.1h.8M106 75.6h.8M101.5 102.5h.8M105.1 107.8h.8M135.3 73h.8M105.9 78.4h.8M131.8 72h.8M92.6 96.3h.8M108.2 78.3h.8M136.7 76.2h.8M126.5 55.5h.8M89.4 103.4h.8M103.6 95.5h.8M90.3 97.1h.8M104.5 109.7h.8M121.7 96h.8M121 67.3h.8M118.4 56.3h.8M117 76.1h.8M137.2 71.5h.8M125.3 57.1h.8M122.6 82.7h.8M99.2 104.2h.8M89.2 74.4h.8M107.1 90.2h.8M94 104.6h.8M121.9 76.3h.8M118.2 94.5h.8M101.9 100.1h.8M87.4 134.9h.8M108.2 82.7h.8M107 88.3h.8M132.8 89.8h.8M143.2 52.2h.8M114.2 62.5h.8M133.3 77.6h.8M117.5 79.9h.8M117.4 98.5h.8M115.2 72.7h.8M106.5 103.5h.8M124 77.3h.8M131.3 80h.8M85.7 93.4h.8M118.6 63.7h.8M117.1 88.4h.8M126.1 88.9h.8M136.9 84.8h.8M98.2 101.9h.8M135.7 74.8h.8M98.4 93.9h.8M87.5 113.3h.8M106.3 72.6h.8M114.5 90.4h.8M96.3 104.5h.8M103.9 92.3h.8M134.6 61.6h.8M92.6 101.8h.8M112.9 74.7h.8M92.3 113.6h.8M84.9 117.9h.8M106.3 92.6h.8M92.9 112.6h.8M97 109.2h.8M119.9 83.5h.8M122.3 58.1h.8M104.7 83h.8M116.5 69.4h.8M95.8 123.1h.8M119.1 87.2h.8M88.4 114h.8M102.7 112.7h.8M114.3 111.1h.8M90.4 116h.8M111.5 101.3h.8M110.8 89.2h.8M111.9 90.7h.8M92.5 75.8h.8M96.7 104.6h.8M140.6 82.6h.8M106.7 76.7h.8M111.8 89.4h.8M129.4 71h.8M102.8 94.1h.8M101.9 73.3h.8M98.8 108.6h.8M94.8 118.3h.8M110.4 66.8h.8M133.4 93.5h.8M108.4 95.1h.8M127.6 66.4h.8M131.3 72.1h.8M116.4 53.5h.8M109 85.6h.8M83 100.5h.8M123.8 74.4h.8M120.2 99.8h.8M134.3 62.7h.8M133.4 86.9h.8M84 113.7h.8M88.1 125.6h.8M125.1 86.1h.8M83.9 121.6h.8M102.9 98h.8M116.8 76.4h.8M94.7 98.5h.8M130.9 76.2h.8M106 109.8h.8M86.6 109.9h.8M109.9 82.4h.8M138.6 76.7h.8M112.8 76.3h.8M87.6 129.9h.8M113.4 79.7h.8M94 100.3h.8M127.8 97.3h.8M96.7 118.5h.8M94.7 113.1h.8M102.1 89h.8M135.5 64.2h.8M137.7 66.8h.8M116.9 87.7h.8M114.3 89h.8M120.5 72.7h.8M127 89h.8M138.1 95.4h.8M84.8 99.4h.8M84.9 114.2h.8M116.5 75h.8M101 120.2h.8M134.1 85.3h.8M111 81.1h.8M123.1 101.6h.8M112.1 83.4h.8M92.2 117.7h.8M108.9 96.6h.8M83.9 125.5h.8M91.6 119.1h.8M120.6 96.6h.8M111.2 100.3h.8M129.1 71.8h.8M71.6 86.2h.8M139.2 63.7h.8M114.6 85.5h.8M116.5 81.6h.8M129.4 73.3h.8M127.8 90h.8M95.6 75.4h.8M136.6 84.7h.8M100.1 66h.8M141.9 83.8h.8M125.4 81.5h.8M115.3 85.2h.8M92.9 101.4h.8M90.4 125.8h.8M107.1 78.8h.8M114 100.7h.8M110.1 104.3h.8M90.7 104.5h.8M92.2 100h.8M133.2 74.5h.8M104.5 80.6h.8M91.7 106.7h.8M115.2 71.5h.8M142.2 52.4h.8M131 60.9h.8M84.1 105.9h.8M128.4 79.4h.8M118.1 57h.8M97.6 97.8h.8M121.1 66.4h.8M99.8 103.7h.8M123.9 67.3h.8M122.3 64h.8M107.6 99.2h.8M86.6 81.4h.8M104.6 105.9h.8M99.9 118.8h.8M113.6 92.7h.8M131.7 84.8h.8M109.9 72.4h.8M97.9 114h.8M132.6 65.2h.8M85.6 131.6h.8M113.5 91.7h.8M112.3 80.3h.8M105.5 86.2h.8M119.1 67.5h.8M86 122.2h.8M120.6 87.2h.8M92.3 104.8h.8M138.8 79.3h.8M124 80.8h.8M101.7 109.5h.8M137.5 71.2h.8M139.8 86.3h.8M96.2 101h.8M116.5 95.2h.8M90.3 106.1h.8M96.8 90h.8M130.1 76.9h.8M122.4 90.1h.8M126.1 95.8h.8M85.8 118.5h.8M108.1 100.4h.8M125.1 55.6h.8M93.4 99.5h.8M126.3 66.9h.8M95.6 103.8h.8M95.4 86.9h.8M85.9 117.2h.8M88.6 120.6h.8M127.1 81.5h.8M125 91.8h.8M119.9 57.4h.8M123.6 65.9h.8M104.3 83.1h.8M154.9 83.4h.8M98.9 80h.8M133.7 82.5h.8M143.9 57.2h.8M107.1 94.3h.8M134.9 88.2h.8M128.1 94.8h.8M111.5 88.8h.8M127.4 75.8h.8M100.1 77.3h.8M134.9 68.2h.8M107.4 72.2h.8M101.3 103.5h.8M139.3 89.6h.8M97.4 112.9h.8M104.8 95.3h.8M137.3 65.3h.8M121.1 58.8h.8M100.2 108.7h.8M122.2 63h.8M95.3 111h.8M124.4 86.2h.8M108.9 96h.8M133.6 98.6h.8M91.1 89.4h.8M125.2 98.4h.8M99 97.5h.8M94.7 111.7h.8M128.4 106h.8M106.4 75.9h.8M124.9 62.2h.8M137.9 67.7h.8M103 89h.8M150.3 64.2h.8M126.4 66h.8M147.7 89.2h.8M107.4 90.7h.8M117 82.3h.8M108.9 105.5h.8M101.7 99.7h.8M132.1 96.5h.8M99.3 87.9h.8M103 83.5h.8M132 67.6h.8M101.6 103.9h.8M103.2 94.1h.8M123.2 106.3h.8M85.8 124.4h.8M131.5 84.3h.8M105.9 74.9h.8M121.2 68h.8M118.3 81.2h.8M140.5 113.9h.8M101.9 48.9h.8M131.7 81.7h.8M117.4 88.6h.8M96.8 81.8h.8M84.3 112.2h.8M89.5 112.7h.8M101.9 115.7h.8M105.6 93.5h.8M83.5 102.7h.8M135.2 77.8h.8M129.4 99.3h.8M107.3 82.2h.8M136.9 82.1h.8M96.9 106.9h.8M109.4 100.8h.8M114.7 79.9h.8M147.2 73.1h.8M123.4 76h.8M127 77.6h.8M97.9 111.4h.8M103.5 111.4h.8M118.8 95.9h.8M89 111.1h.8M94.8 104h.8M110.5 86.6h.8M139.9 71.7h.8M126.4 62h.8M106.8 96.9h.8M129.7 95.6h.8M109.1 94.4h.8M130.3 76.7h.8M95.1 68.8h.8M73.5 130.6h.8M127.3 56.6h.8M108.8 106.4h.8M101.4 84.7h.8M90.6 106.3h.8M117.8 93.1h.8M109.4 102.4h.8M145.8 60.4h.8M166.3 67.1h.8M97.8 110.1h.8M92.2 110.3h.8M94.2 99h.8M104.6 92.1h.8M127.2 56.8h.8M100.2 109h.8M162.9 84.3h.8M122 93.9h.8M119.9 86.3h.8M117.2 82.9h.8M101 109.2h.8M93.5 118h.8M113.9 90.6h.8M126.5 89.2h.8M124.9 105.7h.8M93 107.6h.8M102.8 119.2h.8M119.8 80.9h.8M110.5 75h.8M117.4 64h.8M97.6 110.8h.8M103.3 98.2h.8M108.5 102.8h.8M109.3 97.1h.8M132.4 83.5h.8M106.1 78.3h.8M114.3 79.2h.8M136.6 82.2h.8M96.9 108.7h.8M77 124.7h.8M143.3 70.7h.8M97.4 118.5h.8M119.3 67.2h.8M91.5 106.1h.8M114.1 82.8h.8M96.6 111.7h.8M130.4 85.3h.8M81.5 122.1h.8M90.3 123.9h.8M126.8 91.4h.8M157.7 63.6h.8M92.3 115.5h.8M92.5 99.1h.8M123.8 100.2h.8M146.3 63.8h.8M105.8 92.9h.8M131.2 81h.8M86.7 113.9h.8M118.4 61h.8M101 118.6h.8M131.5 67.9h.8M123.4 75.6h.8M107.5 97.5h.8M110 107.5h.8M95.4 108.5h.8M93.9 94.8h.8M110.5 92.3h.8M133.1 76.4h.8M83.8 105.3h.8M143.6 74h.8M121.7 73.3h.8M87 113.5h.8M96.7 102h.8M102.3 113.9h.8M114 88.9h.8M117.1 77.1h.8M85.8 120.1h.8M102.4 96.4h.8M118.5 80.5h.8M100.8 104.6h.8M119.8 81.7h.8M112.5 102.5h.8M102.2 79.3h.8M88.9 121.7h.8M102 95.7h.8M117.3 102.7h.8M97.1 110.2h.8M97.3 114h.8M112.5 106.5h.8M112.6 85.1h.8M110.1 88.4h.8M112.9 73.7h.8M92.1 124.6h.8M99 114.5h.8M108.8 93.1h.8M87.1 134.7h.8M126.2 84.6h.8M133.1 87.4h.8M123.4 68.8h.8M102.8 108.3h.8M145.8 62.2h.8M120.1 92h.8M123.4 94.5h.8M108 100.7h.8M89.8 106.2h.8M122.9 91.8h.8M114.3 73.5h.8M101.3 95.3h.8M129.4 76.2h.8M143 77.2h.8M99.2 103.6h.8M116.3 69.3h.8M111.2 92.7h.8M124.5 79.8h.8M86.1 118.5h.8M97.5 111.2h.8M101.9 113.1h.8M140.2 73.9h.8M86.1 107.2h.8M99.2 111.2h.8M100.2 87.8h.8M136.8 82.8h.8M97.4 111.9h.8M121.4 102.7h.8M113.5 103.3h.8M106 70.4h.8M118.5 98.9h.8M91.4 111.6h.8M103.5 96.4h.8M102.4 113h.8M145.4 86.7h.8M94.5 93h.8M102 101.2h.8M111.5 64.1h.8M118 104.5h.8M122.9 68.7h.8M138.7 59.6h.8M135.8 83.4h.8M130.2 86.7h.8M132.8 78.7h.8M124.6 90.7h.8M105.5 109.6h.8M101.9 99.4h.8M115.3 77.4h.8M135.4 71.3h.8M108.5 92.4h.8M99 117h.8M135.4 76h.8M82.4 85.9h.8M95 121.9h.8M118.6 74.1h.8M89.8 109.4h.8M93.9 110.8h.8M122.4 78h.8M93.9 104.7h.8M108.2 77.4h.8M102.6 97.7h.8M121.7 92.1h.8M115.2 57.2h.8M85.1 114.7h.8M110.9 99.1h.8M129.8 103.5h.8M111.8 82.4h.8M112.2 87.7h.8M129.8 75.8h.8M105.9 64.5h.8M90 117.3h.8M88 75.9h.8M105.3 112.5h.8M115.5 55.6h.8M121.9 69.4h.8M108.6 76.3h.8M103.8 102.4h.8M127.9 76.2h.8M109 99.6h.8M135.8 67.1h.8M100.8 91.4h.8M121.6 69.4h.8M109.9 98.3h.8M139.9 64.9h.8M94.2 96.2h.8M113.4 68.5h.8M96.4 99.1h.8M123 67h.8M105.6 96.8h.8M99.6 79.8h.8M111 68.4h.8M86.1 112.4h.8M105.1 109.3h.8M82.8 72.6h.8M102.4 76.6h.8M141.5 77h.8M107.2 92.8h.8M93.2 100.1h.8M88.4 111.7h.8M115.9 83.1h.8M115.1 84.6h.8M108.3 99h.8M84.5 121.7h.8M127 93.4h.8M100.9 80.6h.8M94.4 98.4h.8M134.2 78.9h.8M131.7 71.5h.8M107.7 96.7h.8M116.1 77.3h.8M130.9 73.4h.8M84 117.9h.8M136.3 70.5h.8M120.9 86.9h.8M110.3 96.5h.8M88.8 110.4h.8M133.2 91.9h.8M141.8 68.5h.8M98.1 92.9h.8M115 85.1h.8M94.4 101.2h.8M137 65.7h.8M132 96.1h.8M91.1 113.2h.8M95.7 124.3h.8M87.9 107.5h.8M108.7 90.6h.8M114.6 68.3h.8M106.1 84.6h.8M118.2 96.5h.8M92.9 113.7h.8M96.5 93.5h.8M106.4 95.7h.8M101.3 84.3h.8M141.1 70h.8M133 67.7h.8M116.9 74.5h.8M130.1 76.5h.8M96.4 83.2h.8M93.8 121.4h.8M85.7 121.3h.8M119.7 91.5h.8M79.5 117.5h.8M106.4 100.5h.8M95 99.2h.8M109.2 99.7h.8M81.4 89.8h.8M109.3 106.5h.8M84.5 121.7h.8M82.1 117.5h.8M103.3 121.7h.8M94.5 104.6h.8M107.5 90.4h.8M113.3 92.3h.8M85.7 133.9h.8M101.3 98.4h.8M136.5 87.7h.8M97.4 113.9h.8M79 137h.8M73.6 117.9h.8M106.9 100.4h.8M137.8 76.6h.8M112.5 57.5h.8M131.2 87.6h.8M105 56h.8M115.8 66.6h.8M107.4 115.5h.8M83.8 112.6h.8M110 81.8h.8M93.8 105.8h.8M139.4 77.4h.8M116.5 88.3h.8M101.4 107.4h.8M108.4 88.9h.8M113.9 72.8h.8M108.8 98.4h.8M120.1 87.8h.8M127 62.5h.8M120.1 84.9h.8M120.3 65.6h.8M100.5 86.8h.8M106 95.6h.8M94.5 128.9h.8M90.9 106.9h.8M115.8 67.5h.8M129.1 80h.8M91.1 80.6h.8M112.2 91.9h.8M110 65.8h.8M93.3 108.7h.8M119.6 66.5h.8M116.9 67.5h.8M94.7 72.6h.8M121.2 76.3h.8M87.7 115.4h.8M99.6 100.6h.8M96.5 84.2h.8M84 103.5h.8M122.9 84.1h.8M87.1 114.5h.8M102.6 104.2h.8M116.8 94.4h.8M122.6 84.4h.8M113.2 68.7h.8M91.4 97.9h.8M93.6 103.9h.8M118 80.5h.8M113.1 89.2h.8M139.4 74.1h.8M119 89.4h.8M84.3 93.1h.8M114.2 100.2h.8M115.1 69.2h.8M107.7 72h.8M106.1 102.3h.8M94.2 99.6h.8M89.5 101.3h.8M115.1 90.6h.8M101.7 90.9h.8M81.1 121h.8M104.4 101.5h.8M133.3 73.1h.8M89.1 86.5h.8M111.3 101.8h.8M121.1 88.4h.8M116.5 96.8h.8M107.8 94.2h.8M95.7 80h.8M125.6 104.1h.8M122.7 84.5h.8M114 86h.8M78.9 92.9h.8M130.9 88.5h.8M134.5 80.8h.8M102.5 84.9h.8M100.1 89.5h.8M100.6 89.4h.8M74 97.7h.8M104.3 89.7h.8M111.4 89.2h.8M120 48.4h.8M140.6 80.5h.8M122.1 75.9h.8M111.5 79.1h.8M118.5 87.7h.8M131.7 70.2h.8M91.5 112.3h.8M95.5 127.7h.8M136.3 64.8h.8M92.8 119.4h.8M118.2 74.2h.8M135 78.9h.8M96.2 100.5h.8M105.2 76.2h.8M135.8 94.6h.8M110.4 75.3h.8M93 102.3h.8M82.8 118h.8M127 61.5h.8M122.2 82.8h.8M99.9 101.4h.8M102.1 87.4h.8M98.2 76.1h.8M108.7 103.6h.8M96.6 108.2h.8M114.5 86.7h.8M144.2 78.9h.8M109.3 66.4h.8M121.2 99.3h.8M87.4 113.5h.8M91.6 109.3h.8M114.7 58.6h.8M127.9 85.8h.8M105.5 99.5h.8M88.5 122.3h.8M108.6 80.3h.8M102.7 89.9h.8M113.6 98.5h.8M90.1 116.6h.8M87.3 111.1h.8M126.2 78.3h.8M138.2 86.5h.8M105.8 97.4h.8M143 78h.8M104.9 98.9h.8M87 100.5h.8M128.6 52.8h.8M94.1 104.5h.8M93.7 111.2h.8M103.6 102.4h.8M117.2 92.3h.8M120.9 54.9h.8M128.4 91.2h.8M117.9 88h.8M103.6 63.2h.8M114.4 65.7h.8M123 80.9h.8M88.4 121.2h.8M112.2 92.3h.8M122.6 86h.8M114.7 67.2h.8M131.5 90.3h.8M109.2 92.7h.8M97.2 66.7h.8M91 109.9h.8M103.3 103.3h.8M111.4 79.2h.8M103.9 93.8h.8M103.4 86.7h.8M141.7 98.6h.8M119.4 84.1h.8M126.2 66.6h.8M121.4 68.1h.8M87.4 120.3h.8M117.6 85.7h.8M120.4 73.2h.8M109.1 80.5h.8M99.1 115.8h.8M104 87.9h.8M87.6 111.1h.8M117.5 61.8h.8M92 103.3h.8M108.5 106.5h.8M110.5 68.3h.8M113.4 92.2h.8M112.2 98.2h.8M130.1 68.9h.8M104.1 82.9h.8M96.8 108.3h.8M97.6 96.5h.8M101.4 101.2h.8M87.1 118.1h.8M112.2 94.1h.8M124.4 84.9h.8M120.7 80.8h.8M141.1 62.8h.8M119.1 70.1h.8M112.6 66.4h.8M109.5 84.4h.8M101.2 118.2h.8M96.8 108.7h.8M121.2 92.3h.8M87.1 112.2h.8M129.8 88.8h.8M141.3 71.5h.8M96.4 108.9h.8M97.4 110.5h.8M118.7 75.1h.8M100.6 88.7h.8M100.5 104.9h.8M111.8 83.2h.8M108.1 93.9h.8M112.7 99.3h.8M82.6 114.8h.8M139.6 85.8h.8M103.5 67.6h.8M97.9 108.6h.8M92.5 117h.8M113 87.9h.8M118.5 87.5h.8M121 59.9h.8M143.7 61.3h.8M117.9 86h.8M109.2 104.5h.8M97.5 94h.8M136.5 90.6h.8M101.8 96.3h.8M114 77.1h.8M106.4 58.6h.8M85.7 123.4h.8M113.1 69.8h.8M110.8 108.1h.8M96.3 85h.8M96.6 97.5h.8M118.4 66.4h.8M83.7 131.6h.8M103.5 95h.8M128.1 94h.8M86.7 110.8h.8M100.1 101.5h.8M111.8 90.9h.8M129.7 88.8h.8M95.8 106.1h.8M109.6 91.8h.8M145.8 75.6h.8M120.3 73.8h.8M95.4 113.6h.8M127.1 80.3h.8M126.1 66.7h.8M114.8 66h.8M121 94.1h.8M95.6 91.5h.8M122.4 98.2h.8M110.2 63h.8M99.7 99.5h.8M132.4 71.5h.8M100.5 96.6h.8M108.9 81.5h.8M101.6 68.8h.8M132.9 67.7h.8M110.5 101.6h.8M124.2 79.2h.8M129.8 55.7h.8M108.1 104.4h.8M129.4 77.2h.8M109 100.7h.8M92.6 126.7h.8M83.5 105.4h.8M93.7 85.6h.8M129.3 75.1h.8M103.2 106.4h.8M106.9 90.6h.8M98.6 101.3h.8M126.5 59.6h.8M121.2 89.5h.8M121.9 91.5h.8M99.4 113.3h.8M94 108.6h.8M90.7 127h.8M110.3 88.5h.8M102.3 95h.8M110 115.5h.8M128.6 53.6h.8M99.9 96.6h.8M142.5 65.2h.8M105.2 110.3h.8M102.3 100h.8M100 96h.8M112.2 77.6h.8M97.4 105.1h.8M116.3 103h.8M118.8 86.9h.8M88.8 105.2h.8M101.2 108.7h.8M123.5 91.9h.8M101.3 94.7h.8M129.8 66.6h.8M114.2 93.4h.8M116 93.6h.8M83.9 116.5h.8M119.3 96.4h.8M147 82.1h.8M129.8 82.8h.8M107.4 100.1h.8M97.8 111.6h.8M122 93.1h.8M145.3 76h.8M109.9 95.2h.8M117.4 80.6h.8M92.8 110.6h.8M102.9 112.9h.8M104.3 83.4h.8M100.2 103.3h.8M69.6 134.8h.8M112.2 80.6h.8M129.9 81.5h.8M145.6 53.9h.8M111.8 85h.8M92.3 108h.8M95.1 111.7h.8M114.5 93.9h.8M90.7 103.3h.8M124.9 72.7h.8M102.9 97.8h.8M101.2 112h.8M94.5 101.2h.8M105.7 92.5h.8M104.9 96.7h.8M125.5 76h.8M114.1 103.9h.8M95.9 100.9h.8M110.6 89.1h.8M113.6 68h.8M130.7 72.7h.8M102.6 100.8h.8M89.7 121.7h.8M82.9 112.1h.8M122.5 62.1h.8M122.1 66h.8M106.7 107.3h.8M89 118.7h.8M104.9 81.2h.8M117.7 64.7h.8M114.8 83.1h.8M104.5 118.3h.8M111.9 70.6h.8M110.6 91.2h.8M144.5 79h.8M103.3 111.5h.8M119.4 59.4h.8M89.5 92.5h.8M87.8 110.6h.8M124.6 69.7h.8M100 114.2h.8M121.4 76.9h.8M97.9 98.1h.8M139.9 85.3h.8M133.4 95.5h.8M101.9 102.8h.8M138 86.3h.8M107.2 94.3h.8M129.5 70.9h.8M124.8 91.8h.8M121.5 85.6h.8M129 84.3h.8M114.1 66.7h.8M95.3 105.8h.8M117.8 81.2h.8M124.6 77.8h.8M106.3 103.5h.8M122.4 114.1h.8M112.1 70.9h.8M97.9 105.9h.8M102.9 99.7h.8M110.6 76.9h.8M136.2 73.4h.8M88 112.6h.8M99.6 105.6h.8M141.1 87.8h.8M123 78.5h.8M130.9 58.6h.8M121.2 103.6h.8M93 88.3h.8M111.3 86.2h.8M112.9 91.6h.8M90.9 115.7h.8M102.5 111.3h.8" stroke="#a868bc" stroke-width=".8" fill="none" opacity=".8"/>
<path d="M114.6 81.7h.8M89.9 114.5h.8M100.7 73.4h.8M123.4 85.8h.8M119.2 85.8h.8M114.7 74.9h.8M101 112.2h.8M108.5 109.5h.8M112.8 83.1h.8M129.7 89.6h.8M109.1 106h.8M111.9 76.8h.8M86.1 121.9h.8M119.4 108.1h.8M120.3 54.7h.8M111.6 77.7h.8M92.5 117h.8M123.5 84.2h.8M106 93.9h.8M83.6 109.9h.8M136.2 75.2h.8M137.5 72.6h.8M87.4 117.1h.8M111.6 88.3h.8M100.7 106.8h.8M140.5 84.8h.8M139 77.2h.8M106.3 71.4h.8M127.9 76.8h.8M82.9 129.4h.8M145.4 66h.8M119.4 66.6h.8M101.5 114.4h.8M108.5 70.2h.8M95.3 115h.8M111.3 73.1h.8M94.9 95h.8M123.7 68.6h.8M99.1 101.3h.8M118.9 79.4h.8M100.6 104.4h.8M125.3 78.9h.8M90.2 108.3h.8M103.4 90.5h.8M119.3 75.9h.8M78 128h.8M123 80.4h.8M142.1 77h.8M137.7 83.7h.8M94.9 121.6h.8M137.1 59.1h.8M105.6 92.6h.8M93.6 112.5h.8M133.9 89.9h.8M112.1 51.1h.8M86.3 118.1h.8M90.1 115.4h.8M95.9 90.1h.8M122.4 79.1h.8M110.7 97.2h.8M127.8 76.7h.8M105.1 86.5h.8M130.7 74.1h.8M118.8 80.7h.8M101.9 105.5h.8M136.7 68.9h.8M109.6 78.8h.8M98.7 107.7h.8M99.7 104.7h.8M120 80.4h.8M126.4 69.7h.8M142 94.9h.8M103.4 105.5h.8M131.8 79.1h.8M110.5 74h.8M126.5 65.3h.8M122.3 91.6h.8M93.2 110h.8M77.1 126.7h.8M128.7 75.6h.8M88.6 107.9h.8M92.6 109.1h.8M113.6 67.1h.8M118.6 69.9h.8M108 93.4h.8M96.7 106.3h.8M99.5 106.3h.8M118.5 87.8h.8M118.5 89.8h.8M114.3 75.5h.8M104.8 84.1h.8M105.3 57.5h.8M107.8 80h.8M113.1 79.1h.8M93.7 103.8h.8M89.3 113.2h.8M105.9 82.9h.8M112.6 91h.8M117.8 67.1h.8M97.1 100h.8M127.6 88h.8M129.9 82h.8M111.8 93.2h.8M116.8 80h.8M89.1 111.4h.8M78 125.6h.8M122.5 92.9h.8M102.1 106.9h.8M123.8 86h.8M97.6 94.8h.8M112.9 77.6h.8M98.8 108.7h.8M94.7 112.6h.8M136.8 92.2h.8M99.7 90.8h.8M119.2 93.2h.8M115.7 87.6h.8M135.1 80.9h.8M104.2 77.7h.8M125.1 65.3h.8M112.3 91.6h.8M92.7 106.3h.8M104.6 93.7h.8M115 82.9h.8M104 92.7h.8M119.7 77h.8M121.2 84.8h.8M123.5 81.3h.8M127 74.7h.8M126.8 79.9h.8M126.6 79h.8M125.6 80.6h.8M110.7 85h.8M144.7 64.5h.8M108 92.2h.8M129.1 77.4h.8M102 92.8h.8M90.7 107.6h.8M89.4 111.3h.8M92.7 90.2h.8M98.1 108.1h.8M133.2 78.7h.8M136.1 85.4h.8M95.4 111.1h.8M94.5 110.9h.8M97.8 126.5h.8M97.7 99.7h.8M97.1 104.7h.8M118 90.4h.8M125.5 65.3h.8M115.7 83.5h.8M118.5 88.1h.8M111.6 86.4h.8M131.8 88.3h.8M160.6 51.5h.8M96.2 113.5h.8M99.6 107.7h.8M104.9 113.7h.8M94.5 92.8h.8M103 82h.8M99.7 124.1h.8M127.4 63h.8M109.2 105.9h.8M85.1 120.2h.8M138.7 69h.8M118.6 65.7h.8M92.8 109.4h.8M136 83.8h.8M116.4 78.3h.8M101.2 105.8h.8M128.8 64.6h.8M102.6 90.1h.8M90.3 110.2h.8M128.5 110.2h.8M110.2 95.2h.8M104 107.5h.8M82.1 118h.8M126.3 74.1h.8M139.2 61.8h.8M93.2 110.2h.8M99 111.4h.8M95.7 86.4h.8M128.3 77.5h.8M108.8 87.4h.8M127.5 60.8h.8M110.7 107.2h.8M106.1 91.3h.8M96.2 126.8h.8M129 83.7h.8M99.1 91h.8M88.8 107.2h.8M104.8 91.6h.8M92.8 115.4h.8M96.2 102.5h.8M132.2 75.1h.8M106.8 85.1h.8M100.3 103.5h.8M113.7 83.5h.8M93.1 117.4h.8M125.7 75.2h.8M114.5 74.3h.8M97.6 99.8h.8M99.8 107.3h.8M126.3 100.2h.8M120.3 83.9h.8M105 74h.8M91.2 108.4h.8M117.4 76h.8M99.9 95.3h.8M123.2 74h.8M108.1 75.5h.8M132.7 77.2h.8M108.7 91.1h.8M82.4 114h.8M99.6 86.4h.8M103.8 99.7h.8M80.5 128.2h.8M86.8 82.7h.8M122.5 80.3h.8M122.8 87.3h.8M103.8 106.9h.8M109.7 74.9h.8M109.6 101.8h.8M140.1 61.4h.8M126.6 54.1h.8M131.3 78.7h.8M105.7 69.9h.8M121.2 84.6h.8M87.3 88.9h.8M120.2 96.9h.8M107.7 107.8h.8M104.4 96.6h.8M102.7 82.6h.8M101.1 102h.8M85.4 133.5h.8M97.5 114.7h.8M136.7 76.7h.8M125.1 84.1h.8M111.1 94.2h.8M92.4 100.5h.8M93.8 75.7h.8M96.6 112.5h.8M123 62.1h.8M122.7 78.8h.8M123.8 90.4h.8M123.8 77h.8M99.3 98h.8M81.9 111h.8M93.9 114.6h.8M107.4 79.9h.8M114.8 73.7h.8M103.7 70.7h.8M104.9 105.6h.8M126.3 58.6h.8M108.8 82.3h.8M128.4 81.5h.8M135.3 60.7h.8M109.6 82.8h.8M93.1 109.9h.8M130.4 83.5h.8M106.3 56.6h.8M89.5 122.4h.8M115.1 72h.8M87.9 119h.8M84.9 107.2h.8M104.3 106h.8M119.5 73.6h.8M114.6 84.8h.8M97.5 96.9h.8M114 90.9h.8M99.3 110.4h.8M124.3 83.4h.8M122 80.1h.8M117.2 69.9h.8M86.9 110.2h.8M130.3 77.6h.8M110.8 77.8h.8M106.3 93.9h.8M115.7 69.2h.8M90.4 101.6h.8M121.7 74.1h.8M123.5 76.4h.8M121.5 81.7h.8M99.3 115.4h.8M124.3 95h.8M90 130.4h.8M97.2 126.2h.8M91 116.7h.8M112.8 83.2h.8M95.4 112.5h.8M103.2 102.7h.8M103 91.3h.8M103 100.7h.8M90.2 95.5h.8M141.3 61.2h.8M86.7 109.5h.8M128.7 88.9h.8M99.9 99.6h.8M107.3 66.5h.8M110.9 77.4h.8M115.4 78h.8M123.1 63.3h.8M97 114.4h.8M105.5 83h.8M131.2 85.2h.8M141.5 79.9h.8M122.2 81.1h.8M107.4 70.5h.8M106.5 97.1h.8M117.7 72.7h.8M106.1 76.4h.8M80.2 114.8h.8M130 83.2h.8M120.9 74.2h.8M123.5 83.7h.8M100.3 103.7h.8M93.9 104.8h.8M96 111.9h.8M102.5 63h.8M113.8 73h.8M96.6 108.2h.8M94.4 105.6h.8M118 72.8h.8M120.7 64.5h.8M99.5 71.8h.8M103.2 109.9h.8M89.8 109.4h.8M125.9 100.2h.8M120.7 98.4h.8M124.2 85h.8M98.4 115h.8M100.2 113.5h.8M100 79h.8M116 79.3h.8M128.4 95.2h.8M111.8 93.1h.8M90.1 112.3h.8M104.7 104.2h.8M116.7 69.8h.8M123.8 77h.8M118.7 69.2h.8M110.7 79.9h.8M133 74.8h.8M106.9 76.9h.8M130.9 74.2h.8M104.9 75.2h.8M128.1 87.5h.8M125.2 60.8h.8M85.3 138.4h.8M123.3 94.4h.8M97.1 88.8h.8M84.1 109.5h.8M138.4 60.7h.8M120.5 71.3h.8M84.8 128.5h.8M99.6 100.2h.8M123.3 76.5h.8M102.5 87.9h.8M103.5 109.6h.8M117.9 82.9h.8M102 107.2h.8M119.4 79.1h.8M132.4 72.8h.8M95.7 119.3h.8M114.6 77.2h.8M100.6 65.4h.8M112.2 86.1h.8M130.5 73.6h.8M100.3 90.8h.8M113.1 99.2h.8M121.6 72.4h.8M97.9 104.9h.8M101.1 95.9h.8M121.4 56.4h.8M125.1 80.8h.8M94 111.7h.8M102 77.8h.8M109.7 74.9h.8M94.2 107.8h.8M98.7 107.9h.8M91.6 120.3h.8M96.3 119h.8M133.8 83.8h.8M103.2 99.7h.8M114 81.6h.8M107 86.7h.8M118.3 86h.8M111.6 108.1h.8M120.2 66.7h.8M96.2 104h.8M120.5 84.3h.8M111.4 90.8h.8M89.3 112.4h.8M116.8 76.1h.8M111.6 84.5h.8M132 75.1h.8M104.3 104.5h.8M118.1 78.7h.8M98.8 121.2h.8M120.3 86.9h.8M95.1 96h.8M122.7 91.4h.8M115.7 75.1h.8M130 90.5h.8M122.2 92.6h.8M116.2 97.4h.8M105.3 91.5h.8M110.7 89.7h.8M103.9 102.6h.8M108.7 102.2h.8M97.6 112.2h.8M93.6 86.2h.8M124.9 81.8h.8M124.5 72.1h.8M110.5 72.7h.8M90.2 96.9h.8M137.2 79.9h.8M107.1 85.2h.8M112.6 96.4h.8M98.6 103.7h.8M108.7 78.2h.8M101.9 102.9h.8M80.5 118.3h.8M125.7 76.5h.8M139.3 67.5h.8M131.2 88.2h.8M123 76.1h.8M104.8 101.3h.8M95.1 110.1h.8M99.2 96.2h.8M100.2 105.6h.8M118.3 77h.8M99.7 108.1h.8M100.8 98.8h.8M132.4 90.1h.8M89.2 110.6h.8M115 75h.8M99.1 107.2h.8M121.3 71.9h.8M93 119.9h.8M105.2 116.2h.8M129.9 64.1h.8M100.1 105.3h.8M81.4 111.3h.8M101.6 110.1h.8M86.8 111.8h.8M107.9 72.9h.8M128 81.9h.8M109.6 82.4h.8M108.4 87h.8M98.8 108.3h.8M109.9 91.3h.8M87.3 120.2h.8M105 91.5h.8M144.7 81.9h.8M112.6 98h.8M111.6 75.2h.8M116 94.7h.8M117.6 93.3h.8M130.5 65.9h.8M90.5 108h.8M106.6 74h.8M111.4 87.5h.8M145.9 75.7h.8M85.2 126.5h.8M93.2 105.9h.8M127.2 65.4h.8M87.2 117.6h.8M105 99.6h.8M96.9 109.3h.8M133.7 65.1h.8M83.4 108.9h.8M145.8 67.4h.8M125.2 73.1h.8M93.9 97.1h.8M104.2 107h.8M113.4 85.4h.8M125.2 78.6h.8M116.5 68.6h.8M105.4 77.7h.8M97.9 83h.8M99.7 115.2h.8M90.7 102.4h.8M144.4 63.8h.8M102.2 91.6h.8M128.3 79.2h.8M124.1 92.3h.8M99.2 70.2h.8M105.2 85.3h.8M124.9 79.8h.8M127.3 84.5h.8M80.7 126.7h.8M92 95.5h.8M131.3 80.8h.8M139.2 72.7h.8M84 72.3h.8M137.1 56.5h.8M111.1 86.9h.8M98.8 96.6h.8M116.8 81.1h.8M113.3 97.2h.8M123.9 91h.8M116.5 86.7h.8M156.3 58.5h.8M92.6 108.4h.8M89.9 119.7h.8M79.3 134.9h.8M134.4 111.5h.8M125.8 86.4h.8M118.3 90.6h.8M143.2 78.8h.8M91.8 117.8h.8M94.8 95.2h.8M114.3 79.2h.8M112.5 76.5h.8M113.7 92.3h.8M108 96.7h.8M111.3 85h.8M99.9 101.4h.8M129.7 79.9h.8M114.6 64.3h.8M123.5 80.2h.8M124.8 80.8h.8M129.7 82.8h.8M110.5 93.6h.8M97.5 111.1h.8M115.9 87.3h.8M120.4 93.6h.8M121.9 77.6h.8M104.9 71.8h.8M139.9 72.2h.8M91.5 106.8h.8M98.5 114.8h.8M97.3 115.9h.8M83 121.8h.8M83.2 123.2h.8M116.5 87h.8M116 74.5h.8M112.9 67.3h.8M89.1 118.2h.8M84.7 100.5h.8M131.7 80.2h.8M102.8 97h.8M141.8 69.3h.8M115.1 91.6h.8M100.9 98.7h.8M122.4 86.6h.8M90.8 111.4h.8M99.5 99.7h.8M97.9 106.2h.8M116.8 75.9h.8M116.6 68.3h.8M122.4 57.3h.8M114.4 85.8h.8M95.1 112.9h.8M119.2 79.8h.8M97.1 77.9h.8M121.1 87.3h.8M101.8 94.9h.8M110 92.6h.8M116.9 107.6h.8M98.3 105.1h.8M103.5 52.4h.8M147.3 78.7h.8M91.5 120.3h.8M114 95h.8M94 108.9h.8M117.9 77.3h.8M101.8 106.8h.8M94.2 101.8h.8M97.4 121h.8M124.9 83.5h.8M103 98.8h.8M98 100.6h.8M114.3 77.9h.8M118.7 75.3h.8M108.4 77.2h.8M97.8 71.8h.8M115.4 85h.8M122.5 77.6h.8M112.5 85.8h.8M116.4 74.9h.8M113.5 80.5h.8M96.8 98.4h.8M91.3 110.7h.8M136.3 75.4h.8M84.6 120.7h.8M120.4 82.8h.8M95.7 100.4h.8M104.2 93h.8M114.2 81.4h.8M95.1 114.2h.8M111.5 88.3h.8M105.6 98.5h.8M128.4 98.7h.8M93.3 118.1h.8M125.9 77.6h.8M112.8 69.5h.8M131.5 77.7h.8M134.6 74.6h.8M109.6 87.5h.8M100.9 101.1h.8M120.2 88.2h.8M102.2 102.2h.8M94.8 107.5h.8M116.7 70.4h.8M115.7 81.3h.8M95.8 114.7h.8M113.7 79.7h.8M106.9 90.9h.8M119 76.7h.8M119.5 88.3h.8M103.3 99.8h.8M108 91.6h.8M116.5 89.8h.8M108.2 82.9h.8M120.3 81.8h.8M100.5 97.3h.8M128.9 56.9h.8M120.4 66.5h.8M100 98.6h.8M123.2 78h.8M127.2 75.8h.8M114.2 82.6h.8M91.3 118.4h.8M121.6 80.3h.8M133.9 68.9h.8M110.6 64.8h.8M108.9 86.5h.8M100.6 110.5h.8M96.3 109.7h.8M96 113.9h.8M122.1 65.7h.8M94.6 110.8h.8M119.9 98.5h.8M129.2 81.2h.8M116.3 69.6h.8M124.2 62.4h.8M99.4 108h.8M121.4 84.5h.8M100.1 100.7h.8M94.4 90.1h.8M104.9 106.8h.8M97.2 111.2h.8M89 117.8h.8M91 103.9h.8M105.3 95.1h.8M99.3 113.3h.8M99.7 96.2h.8M111.4 94.3h.8M104.1 105h.8M108.6 97h.8M97.6 100.9h.8M118.1 69.2h.8M120.7 80.8h.8M113.3 84h.8M102.2 73.4h.8M118.9 72.2h.8M113.1 93h.8M128.3 81.6h.8M94.7 112.9h.8M113.8 86.7h.8M94.5 93.9h.8M112.3 78h.8M99.2 119.7h.8M118.9 84.7h.8M116.7 72.6h.8M89 130.7h.8M100.5 111.3h.8M127.7 85.7h.8M118.2 83.6h.8M98.1 98h.8M105.4 103.8h.8M129.7 75.7h.8M112.1 45.4h.8M120.7 84.4h.8M107.4 121.3h.8M100 101h.8M128.6 79.7h.8M119.8 80.5h.8M120.3 93.5h.8M92.9 111.4h.8M80.7 125.4h.8M111.6 83.4h.8M117.6 87.4h.8M119.9 85.9h.8M106 85.7h.8M99.7 85.9h.8M84.4 122.2h.8M95.7 118.9h.8M108.3 74.6h.8M124.6 93.7h.8M104.4 67.8h.8M111.4 94.9h.8M100 76.3h.8M122.6 89.3h.8M107.9 81.1h.8M141.2 77.7h.8M72.6 134.4h.8M90.9 116h.8M98.4 102.3h.8M103 97h.8M105.2 99.2h.8M130.4 68.2h.8M111.9 87.7h.8M114.6 83.8h.8M94.3 118.5h.8M116.4 92.3h.8M94.5 70.7h.8M104.3 92h.8M89.1 126.9h.8M98.9 118.2h.8M130.1 75.7h.8M105.8 93.2h.8M112.1 60.1h.8M101.6 105.3h.8M84.7 116.2h.8M94 101.6h.8M124.9 82.3h.8M94.3 101.6h.8M102 96.3h.8M126.3 91.3h.8M112.5 75.6h.8M103.1 91.6h.8M98.7 107.8h.8M114.1 72.7h.8M125.8 103h.8M150.9 68h.8M115.6 80h.8M137.2 80.6h.8M123.5 85h.8M116.8 84.8h.8M120.8 82.8h.8M110.2 75.7h.8M142 75h.8M104.9 91.1h.8M127.9 83.2h.8M81.1 82.4h.8M110.4 85.8h.8M106.2 104.3h.8M100 111.3h.8M119.8 94.3h.8M111.3 80.1h.8M128.9 72.6h.8M132.7 57.7h.8M88.4 114.9h.8M96.7 102.7h.8M90.9 110.9h.8M94.3 86.8h.8M128.7 72.4h.8M84 112.5h.8M141.4 86.9h.8M104 106.5h.8M105.1 91.7h.8M103.3 113.4h.8M104 80.5h.8M89.6 124.9h.8M119 82.3h.8M102.1 78.5h.8M103.4 96h.8M120.6 75.7h.8M130.8 94.1h.8M119.8 74.3h.8M93.6 112.5h.8M96.2 109.7h.8M112.7 76.9h.8M126.6 84.9h.8M94.5 109.8h.8M94.1 106.8h.8M96.8 115h.8M103.6 95.9h.8M114.7 86.4h.8M88.3 113.6h.8M142 64.3h.8M89.1 115.8h.8M96.5 95.2h.8M95.1 113.7h.8M141.9 74.4h.8M86.9 108.2h.8M124.6 82.8h.8M107 98.1h.8M78.7 119.7h.8M96.1 103.5h.8M98 106.4h.8M81.3 107.4h.8M107.9 99.1h.8M119.8 103.6h.8M113.5 87h.8M93.5 117.7h.8M113.5 91.1h.8M130.8 85.9h.8M130.9 60.3h.8M107.2 96.4h.8M88.7 88.8h.8M116 70.2h.8M109.9 94h.8M101.2 87.9h.8M99 100.6h.8M97.4 96.6h.8M109.5 101.6h.8M108.6 88h.8M102.4 102.6h.8M118.4 71.9h.8M127.6 56.6h.8M118.7 80.6h.8M95.1 110.6h.8M99.3 112.2h.8M98.9 111.4h.8M120 98.2h.8M107.9 84.6h.8M103.9 77h.8M99.3 72.6h.8M94.4 123.6h.8M114.6 80.5h.8M132.6 53h.8M115.9 71.4h.8M111.8 79.4h.8M106.2 94.8h.8M112.8 62.5h.8M117.8 82.9h.8M96.8 99.1h.8M130.1 74.8h.8M101.7 92.7h.8M127 79.7h.8M113.5 70.3h.8M114.9 90.6h.8M110.7 87.1h.8M120.9 81.6h.8M101.5 119.1h.8M127.9 76.5h.8M91.5 100.9h.8M100.9 93.8h.8M93.9 116.8h.8M108 81.5h.8M105.5 104.5h.8M118.6 93.6h.8M130.7 81.8h.8M107.5 79.7h.8M95.7 111h.8M104.7 98.2h.8M122.5 71.6h.8M101.3 97.8h.8M90.7 116.6h.8M129.5 67.7h.8M118 91.2h.8M88.1 116.3h.8M89.4 98h.8M100.1 73.7h.8M121 99.1h.8M91.2 123.4h.8M112.3 104.1h.8M102.4 91.2h.8M121.4 78.8h.8M92 118.6h.8M134.7 84.4h.8M122.5 80h.8M101.3 64.3h.8M80.9 132.9h.8M85.5 109.8h.8M120.4 71.3h.8M118.2 107.3h.8M86.3 106.4h.8M100.7 73.4h.8M118.1 106.3h.8M109.6 80.9h.8M100 97.5h.8M100.1 108.5h.8M112.7 84.2h.8M104.6 110.5h.8M109.8 89.7h.8M99.3 107.5h.8M116 84.1h.8M103.8 99.2h.8M126.7 60.8h.8M103.4 97.4h.8M90 115.4h.8M113.9 76.2h.8M116.5 77.5h.8M105 78.7h.8M120.1 73.5h.8M128.3 77.5h.8M118.2 77.1h.8M92.3 107h.8M99.3 97.8h.8M125.2 73.6h.8M120.2 87.6h.8M96 106.9h.8M134.3 77.2h.8M109.5 70.3h.8M131.7 84.2h.8M88.6 123.4h.8M96.4 106.4h.8M103.3 97.8h.8M117.8 78.7h.8M97 101.7h.8M110 86.6h.8M149.4 76.9h.8M108.3 96.9h.8M83.5 113.2h.8M109.7 95.8h.8M106.8 76.5h.8M145.2 78.1h.8M116.9 88.8h.8M123.9 77.1h.8M98 110.4h.8M123.9 83.7h.8M94.7 109.2h.8M126.3 84.6h.8M114.5 88.2h.8M91 110.8h.8M121.8 64.1h.8M94.6 108.3h.8M119.6 76.9h.8M119.4 80.1h.8M152.8 83.3h.8M96.7 107.3h.8M137.2 97.3h.8M128.8 85.4h.8M124.8 84.5h.8M123.8 71.1h.8M105.8 98.2h.8M116.4 83.3h.8M110.8 89.3h.8M108.5 77.9h.8M107.4 81.6h.8M103.6 99.3h.8M87.8 110.3h.8M124 71.1h.8M123.2 83.6h.8M125.7 77.2h.8M122.9 61.3h.8M126.9 98.6h.8M127.3 80.7h.8M130.8 77.4h.8M131.6 82.4h.8M98.2 115.4h.8M96.8 105.8h.8M114.3 83.5h.8M109.8 95.6h.8M139.4 82.3h.8M110.9 96.3h.8M120 71.3h.8M101.9 72.6h.8M101.8 108.1h.8M124.7 97.4h.8M111 91.1h.8M119.6 70.4h.8M97.8 101.9h.8M97.2 105.9h.8M88.1 113.5h.8M96.6 112.2h.8M120.6 76.7h.8M107.6 86.1h.8M123.5 82.6h.8M120.7 85.5h.8M104.1 92.7h.8M108.3 62.4h.8M114.1 84.2h.8M94.9 115h.8M135.4 61.1h.8M113.5 86.6h.8M132.3 70.7h.8M91.2 104.7h.8M99.6 108.9h.8M103.5 92.9h.8M100.9 113.6h.8M119.9 84.6h.8M87.3 109.4h.8M98.2 79.8h.8M89.5 113.7h.8M134.2 92.6h.8M100.9 98.1h.8" stroke="#86b6ee" stroke-width=".8" fill="none" opacity=".8"/>
<path d="M121.9 70.5h.8M110.8 96.9h.8M120.2 77h.8M112 73.4h.8M102.8 90.4h.8M116.1 81.6h.8M92.3 113.7h.8M112 84.1h.8M120.6 102.3h.8M123.7 81.5h.8M108.4 80.6h.8M118.8 73.2h.8M116.7 84.9h.8M90.7 87.7h.8M107.2 89.8h.8M118.2 81h.8M90.8 114.4h.8M96.8 106.9h.8M130.5 84.5h.8M107.7 68.3h.8M102 103.6h.8M90.3 121.7h.8M103.2 88.5h.8M116.8 78.5h.8M127.2 70.9h.8M91.7 109.2h.8M117.8 86.6h.8M113.8 93.6h.8M100 105.2h.8M104.8 86.2h.8M108.5 90.5h.8M112.3 80.1h.8M128.5 69.9h.8M114.4 94.6h.8M109.9 66.6h.8M113.1 76.5h.8M92.7 115h.8M116.7 76.1h.8M99.7 106.1h.8M100.2 107.9h.8M100.7 107.6h.8M132.8 90.3h.8M126.1 90.7h.8M105 93.9h.8M124.3 78h.8M96.6 105.3h.8M122.5 87.1h.8M119.9 88h.8M99.4 105.8h.8M94.1 113.5h.8M82.9 112.8h.8M93.7 106.3h.8M127.5 100h.8M123.2 91.5h.8M121.4 64.6h.8M128.8 73.7h.8M102.8 96.4h.8M115.2 78.3h.8M103.7 104h.8M94.4 103.4h.8M122.8 75.1h.8M98.8 97.4h.8M108.2 110.2h.8M96.5 104h.8M125.8 85.1h.8M90.5 110.7h.8M112.3 92.6h.8M111 93.1h.8M91.2 107.8h.8M86.4 131.4h.8M125.3 89.1h.8M123.9 76.2h.8M119.7 66.9h.8M100.7 100.7h.8M110.8 79.9h.8M102.5 71h.8M97.9 113.5h.8M128.4 88.3h.8M94.7 102.8h.8M90 115.7h.8M102.2 91.1h.8M131.4 79.5h.8M140 73.9h.8M101.3 99.6h.8M119.5 81.1h.8M116 91.6h.8M109.9 79.3h.8M133.2 75h.8M119 90.9h.8M100.9 95.7h.8M109.3 86.8h.8M130.7 75.7h.8M120.9 72.1h.8M99.5 112.9h.8M114.8 72.1h.8M119.6 84.8h.8M137.1 77.9h.8M123.1 78.5h.8M91.6 119.2h.8M123.4 50.3h.8M93.5 106.2h.8M97.9 114.9h.8M92.1 109.9h.8M113.6 91.6h.8M82.1 129.7h.8M107.1 104.9h.8M125.8 84.9h.8M95.6 110.2h.8M115 90.6h.8M118.4 79.8h.8M117.7 70.5h.8M117.5 79.9h.8M103 77.7h.8M92.8 112.9h.8M98.6 111h.8M114 86.5h.8M97.6 107h.8M104.4 100.6h.8M115.4 73.1h.8M121.8 86.8h.8M118.7 88.4h.8M120 73.3h.8M111.3 82.3h.8M138.4 77.8h.8M93.6 67.5h.8M90.3 126.2h.8M96.3 104.9h.8M102.1 101.2h.8M98.4 112.4h.8M120.4 52.9h.8M96.7 102.8h.8M98.7 100h.8M92.7 108.6h.8M116.5 69.8h.8M96.4 109h.8M100.5 109.4h.8M96.9 110.1h.8M107.4 88.3h.8M88.2 125.7h.8M99 111.8h.8M92.3 111.1h.8M106.5 83.8h.8M111 75.8h.8M103.4 95.9h.8M119.3 82.6h.8M96.3 108.6h.8M98.2 113.3h.8M116.7 89h.8M99.7 108.9h.8M91.7 106.4h.8M102.3 110.2h.8M90.9 111.5h.8M113.9 85.3h.8M93.3 111.5h.8M116.7 74.8h.8M129.4 76.9h.8M92.1 117.7h.8M96.3 112.7h.8M127.3 70.5h.8M113 95.1h.8M82.8 112.4h.8M129.2 71.3h.8M99.2 99.7h.8M108 90.9h.8M108.6 79.4h.8M109.3 84.3h.8M113.4 71.1h.8M95.9 109.4h.8M147.8 70.8h.8M131.4 94.4h.8M123.9 90.5h.8M126.8 85h.8M119.6 72.7h.8M105 88.4h.8M100.9 97.4h.8M87.8 94.1h.8M130 82.2h.8M116.9 81.8h.8M72.8 122.8h.8M127.4 68.7h.8M123.6 81h.8M93.2 113.3h.8M103.6 98.6h.8M122.8 56.4h.8M122.9 69.6h.8M109.6 79.4h.8M86.6 119h.8M93.9 85.3h.8M137.9 74.3h.8M121.6 79.3h.8M103 103.1h.8M103.6 100.6h.8M95.9 107.7h.8M98.2 100.9h.8M77.4 116.1h.8M124.9 78h.8M124.5 83.8h.8M134.2 75.8h.8M96.7 100.4h.8M115 80.6h.8M97.3 116.3h.8M110.5 76h.8M128.1 74.5h.8M118.6 93.1h.8M122.1 72.9h.8M92.8 114.1h.8M105.9 101h.8M110.6 93.8h.8M91.8 76.3h.8M93.1 108.4h.8M101.6 99.2h.8M121.9 92.7h.8M122.5 79.2h.8M113.8 84.3h.8M116.8 89.7h.8M105.2 67.6h.8M96.9 106.7h.8M117.6 90h.8M131.3 72.1h.8M100.2 103.6h.8M127 74.1h.8M111.9 62.1h.8M113 82.4h.8M125 69.8h.8M101.4 96.6h.8M100 107.5h.8M131.5 85.4h.8M90.6 108.6h.8M117.3 87.2h.8M128.4 77.7h.8M107.5 87.6h.8M122.2 71.7h.8M97 99.8h.8M114 97.2h.8M96.1 107.8h.8M89.2 111.7h.8M119.3 92.5h.8M93.9 115.5h.8M118.3 86.9h.8M151.5 62.3h.8M115.8 84.6h.8M122.7 81.5h.8M121 93h.8M95.3 105.1h.8M125.7 65.6h.8M111.7 91.8h.8M108.5 75h.8M123.8 85.8h.8M101.6 105.5h.8M120.3 70.9h.8M116.2 73.9h.8M100.1 105.3h.8M115.1 86h.8M112.1 85.3h.8M102.9 76.7h.8M106.8 97h.8M127.1 58.5h.8M102.7 97.5h.8M98.8 94.4h.8M120.5 69.2h.8M124.3 75.6h.8M120.3 83.3h.8M105.8 98.1h.8M113.3 77.8h.8M135.7 79.6h.8M93.1 114h.8M101.4 92.4h.8M112.6 86.6h.8M112.6 76h.8M106.6 87h.8M99.6 111.8h.8M99 94.9h.8M97.6 102.1h.8M93.8 111.9h.8M102.2 103.1h.8M120.6 92.7h.8M117.9 92.1h.8M125.2 89.7h.8M95 108.8h.8M124.3 69.6h.8M73.6 128.1h.8M92.3 112.7h.8M118.3 61.8h.8M102.4 110.4h.8M130 102.7h.8M95.4 107h.8M110.6 107h.8M112.9 73.9h.8M115.8 94.4h.8M99.5 83.9h.8M124.6 81.9h.8M110.9 81.9h.8M100.4 87.3h.8M124.1 73.3h.8M125.7 69.8h.8M112 90.8h.8M117.2 88.5h.8M96.5 114.8h.8M119.2 81.1h.8M139.2 67.2h.8M121.7 87.2h.8M129.6 69.4h.8M106 80.3h.8M117 94.4h.8M123.1 71.5h.8M103.6 102h.8M94.3 102.3h.8M105.8 100h.8M94 104.9h.8M113.8 81.1h.8M108.6 82.7h.8M110.9 76.7h.8M129.7 78.9h.8M97.3 102.1h.8M109.9 80.6h.8M99.2 102.9h.8M103.7 104.8h.8M97.3 104.9h.8M123.1 78.6h.8M123.2 83.1h.8M100.7 101.2h.8M104.4 98.4h.8M127.5 93.5h.8M114.4 78.4h.8M127.8 68.2h.8M124.2 87.8h.8M126.7 76.1h.8M114.1 91.7h.8M91.6 111.2h.8M101.2 100.1h.8M129.4 87.7h.8M128.2 83.3h.8M140.4 89.5h.8M110.8 78.4h.8M129 78.3h.8M126.4 81.3h.8M96.1 127.7h.8M93.1 108.8h.8M125 76h.8M103.1 95.2h.8M85.8 94.8h.8M135.6 75h.8M100.5 101.5h.8M110.1 80.9h.8M98.8 86.2h.8M100.4 96.5h.8M103 95.6h.8M104.2 101.8h.8M93.4 104.2h.8M118.1 88.2h.8M97.7 113h.8M113.8 82.5h.8M131.1 82.1h.8M96.6 115.3h.8M100.7 104.8h.8M114.2 90.8h.8M130.8 79.6h.8M98.8 103h.8M118.1 74h.8M122.5 64.7h.8M129.3 105.6h.8M98.7 109.2h.8M99.9 103.9h.8M101.1 87.3h.8M117.9 77.2h.8M113.8 54h.8M98.5 107.9h.8M96.4 107.3h.8M112.6 74.9h.8M117.6 95.7h.8M117 81.3h.8M113.5 80.4h.8M114.6 75.7h.8M100.2 104.9h.8M87.2 110.3h.8M104.7 98.2h.8M124.6 86.6h.8M107.1 58.7h.8M90.7 107.7h.8M133.3 79.5h.8M95.9 106.2h.8M93.8 109.8h.8M115 89.8h.8M114.5 80h.8M114.9 81.3h.8M112.2 82.6h.8M121.9 75.7h.8M115.1 82.2h.8M112.8 79.6h.8M111.7 78.5h.8M106.9 101.4h.8M118.3 77.1h.8M89.1 106.6h.8M121.2 82h.8M117.6 80.5h.8M107.7 104.9h.8M93.7 106.9h.8M101 100.3h.8M90.7 117.2h.8M110.8 75.5h.8M128.2 82.4h.8M110.5 94.8h.8M121.1 79.8h.8M125 81.3h.8M90.6 113.8h.8M101.5 97.4h.8M77.4 122.3h.8M104.8 83.5h.8M104.1 101.4h.8M111.7 83.5h.8M92.7 100.1h.8M99.6 109.7h.8M118.7 81.1h.8M114.3 71.2h.8M98 111.4h.8M103.3 106.2h.8M120.3 87.3h.8M123.5 80h.8M116.8 90.6h.8M109.8 74.8h.8M131.1 55.2h.8M104.3 96.4h.8M122.5 80.1h.8M118.2 87.4h.8M123 86.6h.8M106.3 105.6h.8M89.2 112.9h.8M110 84h.8M127.4 82.9h.8M122.7 85h.8M113 80.7h.8M119.4 82.7h.8M97.5 98.8h.8M108.9 85.2h.8M127.2 81.9h.8M92.9 115.1h.8M97.3 124.3h.8M107 87.1h.8M122.8 71.7h.8M83.7 92.6h.8M127.8 68.3h.8M115.6 92.9h.8M92 118.1h.8M115.7 78.8h.8M101.8 108.8h.8M130.4 75h.8M142.2 96h.8M129.7 81.2h.8M89.3 111.6h.8M101.7 107.7h.8M125.8 90.5h.8M98.6 107.1h.8M97.3 104.7h.8M134.6 56.6h.8M124.7 84.4h.8M127 87.4h.8M96.1 110.2h.8M115.6 79.4h.8M105.1 98.2h.8M123.2 73.6h.8M129.4 71.3h.8M110.2 79.1h.8M115.6 86.7h.8M94.7 105.1h.8M113.3 75.2h.8M125.4 89.2h.8M106.5 57.4h.8M126.2 90.2h.8M105.2 97.8h.8M109.7 94.1h.8M127.7 79.9h.8M103 115.1h.8M115.1 95.3h.8M95.3 104.2h.8M123.5 91.3h.8M137.8 77.2h.8M103 104.6h.8M125.6 84.7h.8M90.6 110.5h.8M127.6 82.4h.8M131.2 76.1h.8M117.4 79.8h.8M127.2 86.2h.8M91.9 117.1h.8M119 72.2h.8M99.2 104.8h.8M108.4 91.9h.8M119.5 74.5h.8M94.6 108.2h.8M122.6 74.3h.8M119.7 73h.8M128.2 83.3h.8M120.6 86.7h.8M128.7 79.9h.8M87.9 129.9h.8M117.4 71.6h.8M124.2 63.8h.8M129.6 87.4h.8M120.7 80h.8M90.4 113.4h.8M98.4 92.5h.8M103.5 100.7h.8M130 90.8h.8M101.7 96.7h.8M99.5 83.5h.8M94.3 117.5h.8M107.4 101.3h.8M127.2 42.9h.8M120.4 73.1h.8M92.3 115.9h.8M111.9 91.2h.8M91.5 118.1h.8M114.7 70.2h.8" stroke="#52ba5c" stroke-width=".8" fill="none" opacity=".8"/>
<path d="M94.7 95.8h.8M124.7 56.6h.8M131 67.7h.8M109.4 64h.8M78.1 128.3h.8M113.7 66.8h.8M96.3 117.9h.8M102.3 91.6h.8M108.3 94.6h.8M102.4 100.8h.8M94.6 111.3h.8M103.7 79.6h.8M102.5 97.3h.8M108.9 86.8h.8M93 115.6h.8M128.7 83h.8M108.1 60.3h.8M130.1 71.5h.8M125.6 87.6h.8M88.6 103.2h.8M111.7 92.2h.8M140.5 87.4h.8M111 76.6h.8M99.5 89.7h.8M101.5 106.6h.8M98 97.2h.8M117.8 74.7h.8M92.9 112.8h.8M99.5 117h.8M123.6 76.2h.8M112.9 63.5h.8M84.6 118.2h.8M123.1 85.2h.8M98 105.9h.8M112.9 101h.8M99.8 113.6h.8M115.5 79.7h.8M107 106.2h.8M121.6 78.6h.8M133.3 80.3h.8M118.7 49.9h.8M100.6 115.4h.8M120.9 60.5h.8M128.3 77.6h.8M125.5 79.7h.8M159.8 47.6h.8M90.8 118.2h.8M140.5 65.2h.8M99.8 119.7h.8M94.3 116.9h.8M136.5 78h.8M88.2 108.4h.8M127.6 76.3h.8M95.8 119.7h.8M115.7 105.9h.8M102 119.9h.8M85.5 102.2h.8M110.3 96.8h.8M116.8 66.2h.8M116.4 62.5h.8M94.8 93.6h.8M123.8 76.1h.8M119.9 78.9h.8M106.1 99.9h.8M88 121.6h.8M128 59.1h.8M105.1 93h.8M121.3 81h.8M99.4 98.7h.8M99.5 90.5h.8M111.7 71.2h.8M125.9 75.3h.8M115.9 95.4h.8M92.7 117.5h.8M103.6 75.7h.8M104 97.9h.8M129.2 88.5h.8M124.5 72.4h.8M97.9 95.8h.8M113.4 100.1h.8M127.2 80.4h.8M118.1 96.9h.8M139.3 74.7h.8M106.4 69.8h.8M125.6 81.7h.8M87.4 129.1h.8M134 73.4h.8M91.3 114.1h.8M94.6 101.7h.8M97 99.8h.8M100.2 102.3h.8M108.3 104h.8M89.4 97.2h.8M144.8 48.7h.8M113.1 82.8h.8M106.3 99.7h.8M98.1 101.4h.8M119.5 88.1h.8M147.5 74.4h.8M117.1 65.6h.8M101 92.5h.8M133.1 71.6h.8M129.5 62h.8M107.2 96.3h.8M103.1 111.2h.8M113 100.7h.8M102.8 56.9h.8M150.4 62.2h.8M100.2 111.4h.8M148.2 88.6h.8M128.2 75.3h.8M105.6 87.4h.8M119.7 111.5h.8M127.7 62h.8M92.1 117.6h.8M122.5 89.7h.8M92.1 115.5h.8M107.5 85.9h.8M119 71.6h.8M125.6 79.7h.8M129.2 88.7h.8M140.9 54.7h.8M91.8 113.6h.8M121.2 81.8h.8M126.9 89.3h.8M114.7 80.1h.8M122 88.5h.8M112.3 88.4h.8M100.5 78.5h.8M90 77h.8M106.7 90.8h.8M97.2 113.8h.8M103.7 78.1h.8M86.6 115.7h.8M89.7 117.2h.8M97.2 98.8h.8M104.5 89.1h.8M106.4 98.4h.8M98.5 109.3h.8M114.1 89.5h.8M104.2 97.7h.8M93.3 115.7h.8M95.8 112h.8M97.9 115.1h.8M96.5 109.3h.8M88.6 121.1h.8M106.3 86.7h.8M79.6 113.4h.8M97.3 97.4h.8M85.5 79.2h.8M121.8 68.1h.8M104.9 70.7h.8M136.2 107.5h.8M96 106.9h.8M103.7 96.5h.8M96.8 111.2h.8M115.3 88.6h.8M101.2 107.1h.8M90.4 102.7h.8M95 102.1h.8M79.2 100.6h.8M108.5 79.1h.8M112.1 84.7h.8M110.2 91.8h.8M125.4 98.3h.8M111 107h.8M98.6 74.2h.8M106.3 69h.8M95.9 102h.8M114.2 114.7h.8M97.9 106h.8M144.8 85.1h.8M108.6 74.9h.8M89.4 119.5h.8M128.5 65.7h.8M118.8 99.2h.8M133.7 70.1h.8M148.9 42.8h.8M119.9 92.3h.8M88.1 112.7h.8M97.3 93.7h.8M101.7 108.2h.8M124.2 69.3h.8M118.4 98.5h.8M96 109.2h.8M93.5 122.7h.8M117.7 105.5h.8M88.2 113h.8M118.9 94.9h.8M120.8 87.6h.8M101.9 107.8h.8M92 111.1h.8M101.7 87.1h.8M107.4 90.1h.8M124.8 68.2h.8M95.8 98.3h.8M103.7 97.9h.8M84.5 124.5h.8M123.8 73.7h.8M106.3 92h.8M115.8 68.9h.8M102.2 110.5h.8M102.6 76.4h.8M136.9 83.7h.8M109 95.3h.8M84.5 124.4h.8M101.1 99h.8M97.7 77.3h.8M101.6 75.5h.8M128.8 73.2h.8M79.7 119h.8M130.8 67.1h.8M136.2 78h.8M105.1 101.5h.8M98.7 103.9h.8M95.8 99.7h.8M101.9 80.6h.8M130.5 78.3h.8M97.7 105.5h.8M104.2 82.2h.8M106.9 84h.8M117.5 99.3h.8M107.4 112.2h.8M126.2 85.7h.8M146.2 88h.8M90.2 107.7h.8M124.8 64.9h.8M134.4 70.8h.8M144.1 74.9h.8M129.2 83.2h.8M125.3 57.4h.8M111 89.7h.8M105.6 82.7h.8M89.4 108.4h.8M108.4 78.8h.8M124.6 96.7h.8M88.7 113.4h.8M126.4 92.6h.8M97.5 111.7h.8M107.8 109.5h.8M114 77.4h.8M133.8 70.4h.8M139.7 76.9h.8M95.3 101.8h.8M120.2 90.5h.8M119.2 84.4h.8M123.5 71.7h.8M96.7 109.8h.8M124.7 61.2h.8M92.9 117.3h.8M116 77.7h.8M100.7 119.9h.8M110 92.4h.8M88.6 116.1h.8M134 70.3h.8M103.2 101.4h.8M91.9 102.3h.8M90.4 59.9h.8M121 105.1h.8M88 106.8h.8M111.3 93.6h.8M87.7 99.6h.8M125.7 102.8h.8M102.4 110.5h.8M102.7 104.8h.8M112.7 85.3h.8M143.3 50.3h.8M105.2 77.9h.8M132.6 95.5h.8M113.4 90.2h.8M117.5 79.4h.8M128 80.1h.8M123 69.6h.8M128.7 98.1h.8M136.2 75.4h.8M104.8 97h.8M111.9 61.1h.8M93.7 94.6h.8M95.4 77h.8M143.9 69.1h.8M89.1 122h.8M135.7 79.3h.8M135.8 56.1h.8M96.7 109.2h.8M92.5 113.1h.8M113.8 106.2h.8M97 100.9h.8M98.1 101.4h.8M100.2 92h.8M103.4 85.8h.8M128.4 69.5h.8M102.1 79.6h.8M110.8 67.2h.8M113.7 103h.8M122.2 93.4h.8M92.3 125.2h.8M118.9 84h.8M83.1 108.3h.8M121.5 90h.8M106.2 70h.8M124.4 89.6h.8M114.4 85.9h.8M108.3 49.2h.8M110.3 64.6h.8M98 110.9h.8M102.7 97.3h.8M87 70.4h.8M99.1 83.6h.8M106.2 91.1h.8M120.6 62.1h.8M113 67.6h.8M99.2 98.8h.8M97.7 114h.8M131.6 91h.8M84.7 109.6h.8M97.9 118.2h.8M94.3 105.4h.8M110.1 84.4h.8M95 119.3h.8M130.8 79.3h.8M110.4 64.1h.8M139.3 68.6h.8M109.1 93.3h.8M103.1 115.8h.8M104.1 102.6h.8M123 93.6h.8M108.8 68.8h.8M115.9 97.7h.8M97.2 107.8h.8M115.7 86.4h.8M128.7 66.6h.8M121.4 98.1h.8M116.1 98.7h.8M99.3 79.7h.8M108.6 114.6h.8M128.6 84.8h.8M104.9 113.4h.8M112.4 70.9h.8M121.8 89.2h.8M139 55.6h.8M95 103.2h.8M122.5 84.7h.8M112.1 64h.8M102.4 108.7h.8M93.6 80.4h.8M104.4 99.5h.8M95.6 108h.8M94.1 119.3h.8M111.5 82.2h.8M102.8 66.9h.8M115 88.9h.8M117.7 113.4h.8M84.7 120.6h.8M86.3 108.5h.8M100.4 80.5h.8M95.7 118.1h.8M114.5 90.4h.8M117.9 103.5h.8M91.9 116.3h.8M160.4 62.4h.8M91 114h.8M128.8 55.7h.8M114.5 85.3h.8M115.6 74.5h.8M118.5 90.7h.8M117.6 78.3h.8M98.9 110.2h.8M105.6 71.9h.8M105.7 102.7h.8M127.3 84.7h.8M116.3 95h.8M113.5 87.6h.8M112.3 57.6h.8M91.5 107.1h.8M112.4 104h.8M90.7 108.8h.8M106.4 88.5h.8M123.8 88h.8M90.4 116.3h.8M106.1 90.3h.8M101.4 92.4h.8M87.4 104.8h.8M96 120.1h.8M119.8 87.4h.8M109.4 101.8h.8M89.6 104.4h.8M118.9 106.1h.8M99.5 95.6h.8M119.6 83.8h.8M85.3 116.6h.8M121.1 77.8h.8M95 111.2h.8M116.5 101.4h.8M125 64.7h.8M113.9 78.7h.8M108.1 84.7h.8M144.9 75.1h.8M118.5 69.7h.8M103.6 92.5h.8M114.7 71.5h.8M140 75.5h.8M109.5 91.8h.8M111.6 72.1h.8M117.5 90.8h.8M144.5 90.7h.8M100.2 96.1h.8M114 71.6h.8M129 51.7h.8M95.4 120.8h.8M85.2 105.3h.8M119.2 63.9h.8M103.8 104.7h.8M81.6 120.8h.8" stroke="#121272" stroke-width=".8" fill="none" opacity=".8"/>
</g>
<rect x="68.5" y="35.5" width="104" height="103.8" fill="none" stroke="#40404c" stroke-width="1"/>
<path d="M115.5 35.5V93" stroke="#30303a" stroke-width="1"/>
<path d="M115.5 93V139.3" stroke="#3c3c9c" stroke-width="1"/>
<path d="M68.5 92.6H116" stroke="#30303a" stroke-width="1"/>
<path d="M116 92.6H172.5" stroke="#3c3c9c" stroke-width="1"/>
<path d="M93.4 139v2M68.9 114.5h-1.6M117.9 139v2M68.9 90h-1.6M142.4 139v2M68.9 65.5h-1.6M166.9 139v2M68.9 41h-1.6" stroke="#9a9ab0" stroke-width=".6"/>
<text transform="translate(73 53.8) scale(1.1 1)" font-size="13">29</text>
<text transform="translate(165.8 53.8) scale(1.1 1)" text-anchor="end" font-size="13">34</text>
<text transform="translate(165.8 132.4) scale(1.1 1)" text-anchor="end" font-size="13" fill="#15153a">5</text>
<path d="M43.5 139.4V80.6L41.9 79.4L44.7 42L45.3 42L48.1 79.4L46.5 80.6V139.4Z" fill="#111"/>
<path d="M66 159.5H124L126 157.6L162.5 161L126 164.4L124 162.5H66Z" fill="#111"/>
<text transform="translate(27.3 135.6) rotate(-90) scale(.915 1)" font-size="19">CD 15</text>
<text x="70.8" y="190.6" font-size="18">CD133.2</text>
</g>
<g id="pb"><text x="255.2" y="15.8" class="pl">b</text>
<g clip-path="url(#c1)">
<rect x="271" y="27" width="133" height="123.5" fill="url(#bg1)"/>
<rect x="271" y="27" width="133" height="123.5" fill="#fff" filter="url(#grain)" opacity=".12"/>
<g>
<circle cx="310" cy="43.8" r="3.8" fill="url(#glow)" opacity="1"/>
<circle cx="334" cy="40" r="3" fill="url(#glow)" opacity="0.8"/>
<circle cx="353" cy="36.8" r="2.8" fill="url(#glow)" opacity="0.7"/>
<circle cx="347.5" cy="46.7" r="3" fill="url(#glow)" opacity="0.75"/>
<circle cx="275.4" cy="58.6" r="3.4" fill="url(#glow)" opacity="0.9"/>
<circle cx="300" cy="61.8" r="2.2" fill="url(#glow)" opacity="0.7"/>
<circle cx="389.7" cy="93" r="3.4" fill="url(#glow)" opacity="0.95"/>
<circle cx="310" cy="136" r="2.6" fill="url(#glow)" opacity="0.4"/>
<circle cx="357" cy="144" r="2.4" fill="url(#glow)" opacity="0.3"/>
<circle cx="273.4" cy="109" r="3.4" fill="url(#glow)" opacity="0.7"/>
<circle cx="398" cy="30" r="2.6" fill="url(#glow)" opacity="0.5"/>
<circle cx="329" cy="121" r="2" fill="url(#glow)" opacity="0.25"/>
</g>
<g filter="url(#b3)">
<ellipse cx="313.1" cy="90.9" rx="1.9" ry="1.9" fill="#1c2c30" stroke="#8b9893" stroke-width="0.9" opacity="1"/>
<ellipse cx="295.2" cy="116.4" rx="2.5" ry="2.9" fill="#26363a" stroke="#9eaaa2" stroke-width="1.2" opacity="1"/>
<ellipse cx="386.5" cy="31" rx="2.4" ry="2.4" fill="#22333a" stroke="#8b9893" stroke-width="1" opacity="1"/>
<ellipse cx="273.6" cy="111.5" rx="1.8" ry="2.6" fill="#2a3a3c" stroke="#a8b4ac" stroke-width="0.8" opacity="1"/>
</g>
<path d="M344.6 60.5C346 59.9 345 58 345.3 57C345.6 56 346.2 54.3 346.7 54.4C347.2 54.5 347.9 56.2 348.2 57.5C348.4 58.8 347.5 60.5 348.2 62C348.9 63.5 350.9 64.3 352.3 66.2C353.7 68.1 355.4 71.1 356.6 73.2C357.8 75.3 358.3 77.6 359.4 78.9C360.5 80.2 361.9 79.8 363 81C364.1 82.2 364.9 83.9 365.7 85.9C366.5 87.9 367.7 90.7 367.8 93C367.9 95.3 367.3 97.9 366.4 100C365.5 102.1 363.6 103.8 362.2 105.7C360.8 107.6 359.9 109.8 358 111.3C356.1 112.8 353.5 114.2 350.9 114.8C348.3 115.4 345.6 115.1 342.5 114.8C339.4 114.5 335 113.8 332.6 112.7C330.2 111.7 330 109.8 328.3 108.5C326.6 107.2 324 107.3 322.5 105.2C321 103.1 319.9 98.8 319.2 95.8C318.5 92.8 318 90.3 318.5 87.3C319 84.2 321.2 80.5 322 77.5C322.8 74.5 322.1 71.6 323.4 69C324.7 66.4 327.6 63.3 329.8 61.9C332 60.5 334.3 60.7 336.8 60.5C339.3 60.3 343.2 61.1 344.6 60.5Z" fill="#43545a" filter="url(#b12)" opacity=".5"/>
<g filter="url(#b3)">
<path d="M340.8 88.2m-2.6 0a2.6 2.6 0 1 0 5.1 0a2.6 2.6 0 1 0 -5.1 0M341.5 85.1m-2.4 0a2.4 2.4 0 1 0 4.8 0a2.4 2.4 0 1 0 -4.8 0M327.6 85.3m-2.4 0a2.4 2.4 0 1 0 4.9 0a2.4 2.4 0 1 0 -4.9 0M358.4 96.3m-2.2 0a2.2 2.2 0 1 0 4.3 0a2.2 2.2 0 1 0 -4.3 0M350.7 91.6m-2.2 0a2.2 2.2 0 1 0 4.4 0a2.2 2.2 0 1 0 -4.4 0M327.9 69m-2.2 0a2.2 2.2 0 1 0 4.3 0a2.2 2.2 0 1 0 -4.3 0M341.4 81m-2.5 0a2.5 2.5 0 1 0 5.1 0a2.5 2.5 0 1 0 -5.1 0M344.1 93.1m-2.4 0a2.4 2.4 0 1 0 4.7 0a2.4 2.4 0 1 0 -4.7 0M351.2 82m-2.3 0a2.3 2.3 0 1 0 4.6 0a2.3 2.3 0 1 0 -4.6 0M334 68.3m-2.3 0a2.3 2.3 0 1 0 4.6 0a2.3 2.3 0 1 0 -4.6 0M322 100.7m-2.3 0a2.3 2.3 0 1 0 4.7 0a2.3 2.3 0 1 0 -4.7 0M349.5 101.4m-2.3 0a2.3 2.3 0 1 0 4.5 0a2.3 2.3 0 1 0 -4.5 0M322.8 74.5m-2.6 0a2.6 2.6 0 1 0 5.2 0a2.6 2.6 0 1 0 -5.2 0M327.3 88.2m-2.4 0a2.4 2.4 0 1 0 4.7 0a2.4 2.4 0 1 0 -4.7 0M327.9 98.6m-2.2 0a2.2 2.2 0 1 0 4.4 0a2.2 2.2 0 1 0 -4.4 0M339.2 67.3m-2.3 0a2.3 2.3 0 1 0 4.5 0a2.3 2.3 0 1 0 -4.5 0M333.5 107.8m-2.2 0a2.2 2.2 0 1 0 4.5 0a2.2 2.2 0 1 0 -4.5 0M337.9 106m-2.4 0a2.4 2.4 0 1 0 4.9 0a2.4 2.4 0 1 0 -4.9 0M356.6 74.3m-2.3 0a2.3 2.3 0 1 0 4.6 0a2.3 2.3 0 1 0 -4.6 0M347.2 69.1m-2.4 0a2.4 2.4 0 1 0 4.8 0a2.4 2.4 0 1 0 -4.8 0M336.8 81.8m-2.6 0a2.6 2.6 0 1 0 5.2 0a2.6 2.6 0 1 0 -5.2 0M348.3 79.9m-2.2 0a2.2 2.2 0 1 0 4.4 0a2.2 2.2 0 1 0 -4.4 0M330.3 97m-2.3 0a2.3 2.3 0 1 0 4.5 0a2.3 2.3 0 1 0 -4.5 0M359.1 90.4m-2.3 0a2.3 2.3 0 1 0 4.6 0a2.3 2.3 0 1 0 -4.6 0M346.1 105.9m-2.4 0a2.4 2.4 0 1 0 4.9 0a2.4 2.4 0 1 0 -4.9 0M331.8 81.3m-2.2 0a2.2 2.2 0 1 0 4.4 0a2.2 2.2 0 1 0 -4.4 0M327.2 76.7m-2.4 0a2.4 2.4 0 1 0 4.8 0a2.4 2.4 0 1 0 -4.8 0M350.9 96.1m-2.4 0a2.4 2.4 0 1 0 4.8 0a2.4 2.4 0 1 0 -4.8 0M345.4 98.9m-2.6 0a2.6 2.6 0 1 0 5.1 0a2.6 2.6 0 1 0 -5.1 0M354.8 96.9m-2.5 0a2.5 2.5 0 1 0 5 0a2.5 2.5 0 1 0 -5 0M352.3 108.8m-2.5 0a2.5 2.5 0 1 0 5.1 0a2.5 2.5 0 1 0 -5.1 0M339.1 102.1m-2.5 0a2.5 2.5 0 1 0 5.1 0a2.5 2.5 0 1 0 -5.1 0M346.7 92.1m-2.3 0a2.3 2.3 0 1 0 4.6 0a2.3 2.3 0 1 0 -4.6 0M322.5 93m-2.6 0a2.6 2.6 0 1 0 5.2 0a2.6 2.6 0 1 0 -5.2 0M361.9 98.4m-2.3 0a2.3 2.3 0 1 0 4.6 0a2.3 2.3 0 1 0 -4.6 0M354.7 89.5m-2.3 0a2.3 2.3 0 1 0 4.7 0a2.3 2.3 0 1 0 -4.7 0M348.1 83.4m-2.3 0a2.3 2.3 0 1 0 4.5 0a2.3 2.3 0 1 0 -4.5 0M352.9 84.4m-2.4 0a2.4 2.4 0 1 0 4.9 0a2.4 2.4 0 1 0 -4.9 0M351.9 66.6m-2.2 0a2.2 2.2 0 1 0 4.5 0a2.2 2.2 0 1 0 -4.5 0M363.2 94.3m-2.3 0a2.3 2.3 0 1 0 4.7 0a2.3 2.3 0 1 0 -4.7 0M337.5 89.6m-2.3 0a2.3 2.3 0 1 0 4.6 0a2.3 2.3 0 1 0 -4.6 0M359.8 105.7m-2.5 0a2.5 2.5 0 1 0 4.9 0a2.5 2.5 0 1 0 -4.9 0M326.8 81.6m-2.3 0a2.3 2.3 0 1 0 4.5 0a2.3 2.3 0 1 0 -4.5 0M329.1 79.4m-2.4 0a2.4 2.4 0 1 0 4.9 0a2.4 2.4 0 1 0 -4.9 0M342.8 73.4m-2.5 0a2.5 2.5 0 1 0 5.1 0a2.5 2.5 0 1 0 -5.1 0M333.7 102.2m-2.2 0a2.2 2.2 0 1 0 4.3 0a2.2 2.2 0 1 0 -4.3 0M330.2 62.9m-2.2 0a2.2 2.2 0 1 0 4.3 0a2.2 2.2 0 1 0 -4.3 0M341.9 65.2m-2.2 0a2.2 2.2 0 1 0 4.3 0a2.2 2.2 0 1 0 -4.3 0M341.8 97.5m-2.2 0a2.2 2.2 0 1 0 4.5 0a2.2 2.2 0 1 0 -4.5 0M331.9 75.3m-2.5 0a2.5 2.5 0 1 0 4.9 0a2.5 2.5 0 1 0 -4.9 0M355.8 78.2m-2.5 0a2.5 2.5 0 1 0 5 0a2.5 2.5 0 1 0 -5 0M364.5 98m-2.2 0a2.2 2.2 0 1 0 4.4 0a2.2 2.2 0 1 0 -4.4 0M340.9 92.2m-2.6 0a2.6 2.6 0 1 0 5.1 0a2.6 2.6 0 1 0 -5.1 0M361.9 102.5m-2.6 0a2.6 2.6 0 1 0 5.1 0a2.6 2.6 0 1 0 -5.1 0M358.8 93.2m-2.5 0a2.5 2.5 0 1 0 4.9 0a2.5 2.5 0 1 0 -4.9 0M329 108.8m-2.6 0a2.6 2.6 0 1 0 5.2 0a2.6 2.6 0 1 0 -5.2 0M356.4 83.8m-2.2 0a2.2 2.2 0 1 0 4.3 0a2.2 2.2 0 1 0 -4.3 0M332.8 98.4m-2.4 0a2.4 2.4 0 1 0 4.9 0a2.4 2.4 0 1 0 -4.9 0M346.1 73.2m-2.3 0a2.3 2.3 0 1 0 4.6 0a2.3 2.3 0 1 0 -4.6 0M328.8 105.8m-2.6 0a2.6 2.6 0 1 0 5.2 0a2.6 2.6 0 1 0 -5.2 0M344.3 89m-2.2 0a2.2 2.2 0 1 0 4.5 0a2.2 2.2 0 1 0 -4.5 0M344.9 84.8m-2.4 0a2.4 2.4 0 1 0 4.8 0a2.4 2.4 0 1 0 -4.8 0M343.9 78.6m-2.5 0a2.5 2.5 0 1 0 5 0a2.5 2.5 0 1 0 -5 0M358.7 108.8m-2.4 0a2.4 2.4 0 1 0 4.7 0a2.4 2.4 0 1 0 -4.7 0M349 110.3m-2.2 0a2.2 2.2 0 1 0 4.4 0a2.2 2.2 0 1 0 -4.4 0M352.4 73.9m-2.3 0a2.3 2.3 0 1 0 4.6 0a2.3 2.3 0 1 0 -4.6 0M343.7 69.5m-2.2 0a2.2 2.2 0 1 0 4.5 0a2.2 2.2 0 1 0 -4.5 0M344.6 64m-2.2 0a2.2 2.2 0 1 0 4.5 0a2.2 2.2 0 1 0 -4.5 0M334.1 73.4m-2.6 0a2.6 2.6 0 1 0 5.1 0a2.6 2.6 0 1 0 -5.1 0M324.7 78.7m-2.5 0a2.5 2.5 0 1 0 4.9 0a2.5 2.5 0 1 0 -4.9 0M341.3 100.6m-2.3 0a2.3 2.3 0 1 0 4.6 0a2.3 2.3 0 1 0 -4.6 0M355.2 101.4m-2.5 0a2.5 2.5 0 1 0 5 0a2.5 2.5 0 1 0 -5 0M338.5 98m-2.2 0a2.2 2.2 0 1 0 4.4 0a2.2 2.2 0 1 0 -4.4 0M351 88.8m-2.4 0a2.4 2.4 0 1 0 4.8 0a2.4 2.4 0 1 0 -4.8 0M348 76.5m-2.3 0a2.3 2.3 0 1 0 4.6 0a2.3 2.3 0 1 0 -4.6 0M344.3 111m-2.5 0a2.5 2.5 0 1 0 5 0a2.5 2.5 0 1 0 -5 0M331.4 89.6m-2.3 0a2.3 2.3 0 1 0 4.7 0a2.3 2.3 0 1 0 -4.7 0M356.9 86.5m-2.6 0a2.6 2.6 0 1 0 5.2 0a2.6 2.6 0 1 0 -5.2 0M323.6 87.1m-2.2 0a2.2 2.2 0 1 0 4.4 0a2.2 2.2 0 1 0 -4.4 0M355.2 105m-2.2 0a2.2 2.2 0 1 0 4.4 0a2.2 2.2 0 1 0 -4.4 0M324.4 103.3m-2.4 0a2.4 2.4 0 1 0 4.9 0a2.4 2.4 0 1 0 -4.9 0M339.4 70m-2.5 0a2.5 2.5 0 1 0 5 0a2.5 2.5 0 1 0 -5 0M336.7 93.9m-2.6 0a2.6 2.6 0 1 0 5.2 0a2.6 2.6 0 1 0 -5.2 0M334.5 87.5m-2.5 0a2.5 2.5 0 1 0 5 0a2.5 2.5 0 1 0 -5 0M324.3 97.2m-2.4 0a2.4 2.4 0 1 0 4.8 0a2.4 2.4 0 1 0 -4.8 0M334.2 78.5m-2.6 0a2.6 2.6 0 1 0 5.1 0a2.6 2.6 0 1 0 -5.1 0M336.3 76.5m-2.3 0a2.3 2.3 0 1 0 4.6 0a2.3 2.3 0 1 0 -4.6 0M366.1 93.7m-2.5 0a2.5 2.5 0 1 0 5 0a2.5 2.5 0 1 0 -5 0M355.3 93.6m-2.3 0a2.3 2.3 0 1 0 4.5 0a2.3 2.3 0 1 0 -4.5 0M339.2 63.2m-2.5 0a2.5 2.5 0 1 0 5 0a2.5 2.5 0 1 0 -5 0M333.7 61.3m-2.4 0a2.4 2.4 0 1 0 4.9 0a2.4 2.4 0 1 0 -4.9 0M321.6 82.1m-2.4 0a2.4 2.4 0 1 0 4.8 0a2.4 2.4 0 1 0 -4.8 0M361.4 85.6m-2.4 0a2.4 2.4 0 1 0 4.9 0a2.4 2.4 0 1 0 -4.9 0M339.1 109.8m-2.2 0a2.2 2.2 0 1 0 4.4 0a2.2 2.2 0 1 0 -4.4 0M328.7 91.6m-2.3 0a2.3 2.3 0 1 0 4.6 0a2.3 2.3 0 1 0 -4.6 0M343.6 102m-2.5 0a2.5 2.5 0 1 0 5 0a2.5 2.5 0 1 0 -5 0M335.9 84.6m-2.2 0a2.2 2.2 0 1 0 4.4 0a2.2 2.2 0 1 0 -4.4 0M333.7 94.9m-2.5 0a2.5 2.5 0 1 0 5 0a2.5 2.5 0 1 0 -5 0M346.4 109.1m-2.4 0a2.4 2.4 0 1 0 4.8 0a2.4 2.4 0 1 0 -4.8 0M330.3 72.9m-2.3 0a2.3 2.3 0 1 0 4.7 0a2.3 2.3 0 1 0 -4.7 0M347.4 57.2m-2.2 0a2.2 2.2 0 1 0 4.3 0a2.2 2.2 0 1 0 -4.3 0M351.4 71.1m-2.4 0a2.4 2.4 0 1 0 4.9 0a2.4 2.4 0 1 0 -4.9 0M330.9 102.9m-2.2 0a2.2 2.2 0 1 0 4.4 0a2.2 2.2 0 1 0 -4.4 0M327.1 101.5m-2.2 0a2.2 2.2 0 1 0 4.4 0a2.2 2.2 0 1 0 -4.4 0M330.1 83.9m-2.2 0a2.2 2.2 0 1 0 4.5 0a2.2 2.2 0 1 0 -4.5 0M363.2 88.8m-2.4 0a2.4 2.4 0 1 0 4.8 0a2.4 2.4 0 1 0 -4.8 0M325.7 73.2m-2.2 0a2.2 2.2 0 1 0 4.3 0a2.2 2.2 0 1 0 -4.3 0M334 91.9m-2.4 0a2.4 2.4 0 1 0 4.8 0a2.4 2.4 0 1 0 -4.8 0M341.3 78.1m-2.5 0a2.5 2.5 0 1 0 5.1 0a2.5 2.5 0 1 0 -5.1 0M326.6 66.7m-2.2 0a2.2 2.2 0 1 0 4.5 0a2.2 2.2 0 1 0 -4.5 0M336.4 71m-2.2 0a2.2 2.2 0 1 0 4.3 0a2.2 2.2 0 1 0 -4.3 0M336.3 63.7m-2.6 0a2.6 2.6 0 1 0 5.1 0a2.6 2.6 0 1 0 -5.1 0M336.2 100.6m-2.5 0a2.5 2.5 0 1 0 5 0a2.5 2.5 0 1 0 -5 0M346.4 103.2m-2.6 0a2.6 2.6 0 1 0 5.2 0a2.6 2.6 0 1 0 -5.2 0M347.2 96.8m-2.4 0a2.4 2.4 0 1 0 4.8 0a2.4 2.4 0 1 0 -4.8 0M365 101m-2.4 0a2.4 2.4 0 1 0 4.9 0a2.4 2.4 0 1 0 -4.9 0M325.6 92.2m-2.3 0a2.3 2.3 0 1 0 4.5 0a2.3 2.3 0 1 0 -4.5 0M332.2 111.1m-2.5 0a2.5 2.5 0 1 0 5.1 0a2.5 2.5 0 1 0 -5.1 0M358.4 102.3m-2.5 0a2.5 2.5 0 1 0 5 0a2.5 2.5 0 1 0 -5 0M338.4 73.8m-2.4 0a2.4 2.4 0 1 0 4.8 0a2.4 2.4 0 1 0 -4.8 0M334.4 65.5m-2.3 0a2.3 2.3 0 1 0 4.6 0a2.3 2.3 0 1 0 -4.6 0M348.1 89m-2.4 0a2.4 2.4 0 1 0 4.8 0a2.4 2.4 0 1 0 -4.8 0M349.5 107.3m-2.5 0a2.5 2.5 0 1 0 5 0a2.5 2.5 0 1 0 -5 0M328.2 94.8m-2.3 0a2.3 2.3 0 1 0 4.7 0a2.3 2.3 0 1 0 -4.7 0M352.6 98.9m-2.3 0a2.3 2.3 0 1 0 4.6 0a2.3 2.3 0 1 0 -4.6 0M335.6 96.9m-2.3 0a2.3 2.3 0 1 0 4.5 0a2.3 2.3 0 1 0 -4.5 0M345.4 60.4m-2.6 0a2.6 2.6 0 1 0 5.1 0a2.6 2.6 0 1 0 -5.1 0M324.4 82.7m-2.2 0a2.2 2.2 0 1 0 4.3 0a2.2 2.2 0 1 0 -4.3 0M341.1 105.8m-2.2 0a2.2 2.2 0 1 0 4.4 0a2.2 2.2 0 1 0 -4.4 0M357 81m-2.5 0a2.5 2.5 0 1 0 5 0a2.5 2.5 0 1 0 -5 0M352.5 77.8m-2.5 0a2.5 2.5 0 1 0 5 0a2.5 2.5 0 1 0 -5 0M346.1 113.3m-2.6 0a2.6 2.6 0 1 0 5.1 0a2.6 2.6 0 1 0 -5.1 0M331.6 69.5m-2.2 0a2.2 2.2 0 1 0 4.3 0a2.2 2.2 0 1 0 -4.3 0M365 84.9m-2.4 0a2.4 2.4 0 1 0 4.8 0a2.4 2.4 0 1 0 -4.8 0M352.3 106.1m-2.5 0a2.5 2.5 0 1 0 5 0a2.5 2.5 0 1 0 -5 0M344.5 75.8m-2.4 0a2.4 2.4 0 1 0 4.7 0a2.4 2.4 0 1 0 -4.7 0M339.1 83.7m-2.2 0a2.2 2.2 0 1 0 4.4 0a2.2 2.2 0 1 0 -4.4 0M335.4 110.6m-2.2 0a2.2 2.2 0 1 0 4.4 0a2.2 2.2 0 1 0 -4.4 0M324.4 70.9m-2.6 0a2.6 2.6 0 1 0 5.1 0a2.6 2.6 0 1 0 -5.1 0M360.2 82.5m-2.2 0a2.2 2.2 0 1 0 4.5 0a2.2 2.2 0 1 0 -4.5 0M349.3 73.6m-2.3 0a2.3 2.3 0 1 0 4.6 0a2.3 2.3 0 1 0 -4.6 0M332.8 105.2m-2.4 0a2.4 2.4 0 1 0 4.8 0a2.4 2.4 0 1 0 -4.8 0M332.3 86m-2.4 0a2.4 2.4 0 1 0 4.7 0a2.4 2.4 0 1 0 -4.7 0M341.6 60.8m-2.6 0a2.6 2.6 0 1 0 5.2 0a2.6 2.6 0 1 0 -5.2 0M341.7 108.8m-2.5 0a2.5 2.5 0 1 0 5 0a2.5 2.5 0 1 0 -5 0M344.2 66.7m-2.4 0a2.4 2.4 0 1 0 4.7 0a2.4 2.4 0 1 0 -4.7 0M352.1 103.2m-2.4 0a2.4 2.4 0 1 0 4.7 0a2.4 2.4 0 1 0 -4.7 0M355.8 107.7m-2.6 0a2.6 2.6 0 1 0 5.1 0a2.6 2.6 0 1 0 -5.1 0M358.8 99.1m-2.5 0a2.5 2.5 0 1 0 5.1 0a2.5 2.5 0 1 0 -5.1 0M355.3 71.3m-2.4 0a2.4 2.4 0 1 0 4.8 0a2.4 2.4 0 1 0 -4.8 0M344.1 81.8m-2.2 0a2.2 2.2 0 1 0 4.5 0a2.2 2.2 0 1 0 -4.5 0M348.3 86.1m-2.2 0a2.2 2.2 0 1 0 4.5 0a2.2 2.2 0 1 0 -4.5 0M353.6 80.2m-2.6 0a2.6 2.6 0 1 0 5.2 0a2.6 2.6 0 1 0 -5.2 0M321.3 89.5m-2.2 0a2.2 2.2 0 1 0 4.4 0a2.2 2.2 0 1 0 -4.4 0M336.6 67.2m-2.2 0a2.2 2.2 0 1 0 4.5 0a2.2 2.2 0 1 0 -4.5 0M343.6 104.8m-2.5 0a2.5 2.5 0 1 0 5.1 0a2.5 2.5 0 1 0 -5.1 0M331.5 93.2m-2.3 0a2.3 2.3 0 1 0 4.6 0a2.3 2.3 0 1 0 -4.6 0M338.6 78.9m-2.6 0a2.6 2.6 0 1 0 5.2 0a2.6 2.6 0 1 0 -5.2 0M352.6 94.1m-2.3 0a2.3 2.3 0 1 0 4.5 0a2.3 2.3 0 1 0 -4.5 0M364.8 91.3m-2.6 0a2.6 2.6 0 1 0 5.2 0a2.6 2.6 0 1 0 -5.2 0M326.3 107.3m-2.5 0a2.5 2.5 0 1 0 5 0a2.5 2.5 0 1 0 -5 0M338.3 87m-2.3 0a2.3 2.3 0 1 0 4.6 0a2.3 2.3 0 1 0 -4.6 0M339.4 95.4m-2.4 0a2.4 2.4 0 1 0 4.7 0a2.4 2.4 0 1 0 -4.7 0M362.1 80.5m-2.3 0a2.3 2.3 0 1 0 4.6 0a2.3 2.3 0 1 0 -4.6 0M359.2 87.8m-2.2 0a2.2 2.2 0 1 0 4.4 0a2.2 2.2 0 1 0 -4.4 0M361.8 91.6m-2.5 0a2.5 2.5 0 1 0 5.1 0a2.5 2.5 0 1 0 -5.1 0M324.7 100.4m-2.6 0a2.6 2.6 0 1 0 5.1 0a2.6 2.6 0 1 0 -5.1 0M348.5 66.7m-2.2 0a2.2 2.2 0 1 0 4.5 0a2.2 2.2 0 1 0 -4.5 0M349.7 104.5m-2.5 0a2.5 2.5 0 1 0 5 0a2.5 2.5 0 1 0 -5 0" fill="#55655f"/>
<circle cx="340.8" cy="88.2" r="1.7" fill="#4a5850" stroke="#b9bfaf" stroke-width=".58"/>
<circle cx="341.5" cy="85.1" r="1.5" fill="#7c8a82" stroke="#d9dfcf" stroke-width=".58"/>
<circle cx="327.6" cy="85.3" r="1.5" fill="#6a7870" stroke="#cdd3c3" stroke-width=".58"/>
<circle cx="358.4" cy="96.3" r="1.3" fill="#7f8d85" stroke="#dbe1d1" stroke-width=".58"/>
<circle cx="350.7" cy="91.6" r="1.3" fill="#4c5a52" stroke="#bac0b0" stroke-width=".58"/>
<circle cx="327.9" cy="69" r="1.3" fill="#66746c" stroke="#cbd1c1" stroke-width=".58"/>
<circle cx="341.4" cy="81" r="1.6" fill="#64726a" stroke="#cad0c0" stroke-width=".58"/>
<circle cx="344.1" cy="93.1" r="1.5" fill="#3d4b43" stroke="#b1b7a7" stroke-width=".58"/>
<circle cx="351.2" cy="82" r="1.4" fill="#76847c" stroke="#d5dbcb" stroke-width=".58"/>
<circle cx="334" cy="68.3" r="1.4" fill="#6d7b73" stroke="#cfd5c5" stroke-width=".58"/>
<circle cx="322" cy="100.7" r="1.4" fill="#86948c" stroke="#dfe5d5" stroke-width=".58"/>
<circle cx="349.5" cy="101.4" r="1.4" fill="#6a7870" stroke="#ced4c4" stroke-width=".58"/>
<circle cx="322.8" cy="74.5" r="1.7" fill="#5d6b63" stroke="#c5cbbb" stroke-width=".58"/>
<circle cx="327.3" cy="88.2" r="1.5" fill="#48564e" stroke="#b8beae" stroke-width=".58"/>
<circle cx="327.9" cy="98.6" r="1.3" fill="#7d8b83" stroke="#dae0d0" stroke-width=".58"/>
<circle cx="339.2" cy="67.3" r="1.4" fill="#46544c" stroke="#b7bdad" stroke-width=".58"/>
<circle cx="333.5" cy="107.8" r="1.3" fill="#313f37" stroke="#a9af9f" stroke-width=".58"/>
<circle cx="337.9" cy="106" r="1.5" fill="#87958d" stroke="#e0e6d6" stroke-width=".58"/>
<circle cx="356.6" cy="74.3" r="1.4" fill="#7d8b83" stroke="#dae0d0" stroke-width=".58"/>
<circle cx="347.2" cy="69.1" r="1.5" fill="#26342c" stroke="#929888" stroke-width=".58"/>
<circle cx="336.8" cy="81.8" r="1.7" fill="#26342c" stroke="#929888" stroke-width=".58"/>
<circle cx="348.3" cy="79.9" r="1.3" fill="#5f6d65" stroke="#c6ccbc" stroke-width=".58"/>
<circle cx="330.3" cy="97" r="1.4" fill="#3d4b43" stroke="#b1b7a7" stroke-width=".58"/>
<circle cx="359.1" cy="90.4" r="1.4" fill="#707e76" stroke="#d1d7c7" stroke-width=".58"/>
<circle cx="346.1" cy="105.9" r="1.5" fill="#728078" stroke="#d2d8c8" stroke-width=".58"/>
<circle cx="331.8" cy="81.3" r="1.3" fill="#4c5a52" stroke="#bac0b0" stroke-width=".58"/>
<circle cx="327.2" cy="76.7" r="1.5" fill="#5f6d65" stroke="#c6ccbc" stroke-width=".58"/>
<circle cx="350.9" cy="96.1" r="1.5" fill="#526058" stroke="#bec4b4" stroke-width=".58"/>
<circle cx="345.4" cy="98.9" r="1.7" fill="#79877f" stroke="#d7ddcd" stroke-width=".58"/>
<circle cx="354.8" cy="96.9" r="1.6" fill="#55635b" stroke="#c0c6b6" stroke-width=".58"/>
<circle cx="352.3" cy="108.8" r="1.6" fill="#48564e" stroke="#b8beae" stroke-width=".58"/>
<circle cx="339.1" cy="102.1" r="1.6" fill="#54625a" stroke="#c0c6b6" stroke-width=".58"/>
<circle cx="346.7" cy="92.1" r="1.4" fill="#5b6961" stroke="#c4caba" stroke-width=".58"/>
<circle cx="322.5" cy="93" r="1.7" fill="#67756d" stroke="#cbd1c1" stroke-width=".58"/>
<circle cx="361.9" cy="98.4" r="1.4" fill="#89978f" stroke="#e1e7d7" stroke-width=".58"/>
<circle cx="354.7" cy="89.5" r="1.4" fill="#85938b" stroke="#dfe5d5" stroke-width=".58"/>
<circle cx="348.1" cy="83.4" r="1.4" fill="#839189" stroke="#dde3d3" stroke-width=".58"/>
<circle cx="352.9" cy="84.4" r="1.5" fill="#48564e" stroke="#b8beae" stroke-width=".58"/>
<circle cx="351.9" cy="66.6" r="1.3" fill="#3c4a42" stroke="#b0b6a6" stroke-width=".58"/>
<circle cx="363.2" cy="94.3" r="1.4" fill="#74827a" stroke="#d4daca" stroke-width=".58"/>
<circle cx="337.5" cy="89.6" r="1.4" fill="#526058" stroke="#bec4b4" stroke-width=".58"/>
<circle cx="359.8" cy="105.7" r="1.6" fill="#3e4c44" stroke="#b1b7a7" stroke-width=".58"/>
<circle cx="326.8" cy="81.6" r="1.4" fill="#334139" stroke="#aab0a0" stroke-width=".58"/>
<circle cx="329.1" cy="79.4" r="1.5" fill="#4e5c54" stroke="#bcc2b2" stroke-width=".58"/>
<circle cx="342.8" cy="73.4" r="1.6" fill="#66746c" stroke="#cbd1c1" stroke-width=".58"/>
<circle cx="333.7" cy="102.2" r="1.3" fill="#7b8981" stroke="#d8dece" stroke-width=".58"/>
<circle cx="330.2" cy="62.9" r="1.3" fill="#738179" stroke="#d3d9c9" stroke-width=".58"/>
<circle cx="341.9" cy="65.2" r="1.3" fill="#74827a" stroke="#d4daca" stroke-width=".58"/>
<circle cx="341.8" cy="97.5" r="1.3" fill="#7e8c84" stroke="#dae0d0" stroke-width=".58"/>
<circle cx="331.9" cy="75.3" r="1.6" fill="#5f6d65" stroke="#c7cdbd" stroke-width=".58"/>
<circle cx="355.8" cy="78.2" r="1.6" fill="#2d3b33" stroke="#a6ac9c" stroke-width=".58"/>
<circle cx="364.5" cy="98" r="1.3" fill="#6e7c74" stroke="#d0d6c6" stroke-width=".58"/>
<circle cx="340.9" cy="92.2" r="1.7" fill="#4a5850" stroke="#b9bfaf" stroke-width=".58"/>
<circle cx="361.9" cy="102.5" r="1.7" fill="#88968e" stroke="#e1e7d7" stroke-width=".58"/>
<circle cx="358.8" cy="93.2" r="1.6" fill="#78867e" stroke="#d6dccc" stroke-width=".58"/>
<circle cx="329" cy="108.8" r="1.7" fill="#68766e" stroke="#ccd2c2" stroke-width=".58"/>
<circle cx="356.4" cy="83.8" r="1.3" fill="#5f6d65" stroke="#c7cdbd" stroke-width=".58"/>
<circle cx="332.8" cy="98.4" r="1.5" fill="#2d3b33" stroke="#a6ac9c" stroke-width=".58"/>
<circle cx="346.1" cy="73.2" r="1.4" fill="#26342c" stroke="#a0a696" stroke-width=".58"/>
<circle cx="328.8" cy="105.8" r="1.7" fill="#505e56" stroke="#bdc3b3" stroke-width=".58"/>
<circle cx="344.3" cy="89" r="1.3" fill="#425048" stroke="#b4baaa" stroke-width=".58"/>
<circle cx="344.9" cy="84.8" r="1.5" fill="#54625a" stroke="#bfc5b5" stroke-width=".58"/>
<circle cx="343.9" cy="78.6" r="1.6" fill="#92a098" stroke="#e7eddd" stroke-width=".58"/>
<circle cx="358.7" cy="108.8" r="1.5" fill="#526058" stroke="#bec4b4" stroke-width=".58"/>
<circle cx="349" cy="110.3" r="1.3" fill="#74827a" stroke="#d4daca" stroke-width=".58"/>
<circle cx="352.4" cy="73.9" r="1.4" fill="#616f67" stroke="#c8cebe" stroke-width=".58"/>
<circle cx="343.7" cy="69.5" r="1.3" fill="#6d7b73" stroke="#d0d6c6" stroke-width=".58"/>
<circle cx="344.6" cy="64" r="1.3" fill="#26342c" stroke="#a1a797" stroke-width=".58"/>
<circle cx="334.1" cy="73.4" r="1.7" fill="#54625a" stroke="#c0c6b6" stroke-width=".58"/>
<circle cx="324.7" cy="78.7" r="1.6" fill="#44524a" stroke="#b5bbab" stroke-width=".58"/>
<circle cx="341.3" cy="100.6" r="1.4" fill="#515f57" stroke="#bec4b4" stroke-width=".58"/>
<circle cx="355.2" cy="101.4" r="1.6" fill="#313f37" stroke="#a9af9f" stroke-width=".58"/>
<circle cx="338.5" cy="98" r="1.3" fill="#324038" stroke="#aab0a0" stroke-width=".58"/>
<circle cx="351" cy="88.8" r="1.5" fill="#64726a" stroke="#c9cfbf" stroke-width=".58"/>
<circle cx="348" cy="76.5" r="1.4" fill="#3c4a42" stroke="#b0b6a6" stroke-width=".58"/>
<circle cx="344.3" cy="111" r="1.6" fill="#7d8b83" stroke="#dae0d0" stroke-width=".58"/>
<circle cx="331.4" cy="89.6" r="1.4" fill="#36443c" stroke="#acb2a2" stroke-width=".58"/>
<circle cx="356.9" cy="86.5" r="1.7" fill="#9ba9a1" stroke="#edf3e3" stroke-width=".58"/>
<circle cx="323.6" cy="87.1" r="1.3" fill="#3c4a42" stroke="#b0b6a6" stroke-width=".58"/>
<circle cx="355.2" cy="105" r="1.3" fill="#2b3931" stroke="#a5ab9b" stroke-width=".58"/>
<circle cx="324.4" cy="103.3" r="1.5" fill="#5f6d65" stroke="#c6ccbc" stroke-width=".58"/>
<circle cx="339.4" cy="70" r="1.6" fill="#65736b" stroke="#cad0c0" stroke-width=".58"/>
<circle cx="336.7" cy="93.9" r="1.7" fill="#3c4a42" stroke="#b0b6a6" stroke-width=".58"/>
<circle cx="334.5" cy="87.5" r="1.6" fill="#59675f" stroke="#c2c8b8" stroke-width=".58"/>
<circle cx="324.3" cy="97.2" r="1.5" fill="#3d4b43" stroke="#b1b7a7" stroke-width=".58"/>
<circle cx="334.2" cy="78.5" r="1.7" fill="#324038" stroke="#a9af9f" stroke-width=".58"/>
<circle cx="336.3" cy="76.5" r="1.4" fill="#7e8c84" stroke="#dae0d0" stroke-width=".58"/>
<circle cx="366.1" cy="93.7" r="1.6" fill="#75837b" stroke="#d4daca" stroke-width=".58"/>
<circle cx="355.3" cy="93.6" r="1.4" fill="#9aa8a0" stroke="#ecf2e2" stroke-width=".58"/>
<circle cx="339.2" cy="63.2" r="1.6" fill="#3e4c44" stroke="#b1b7a7" stroke-width=".58"/>
<circle cx="333.7" cy="61.3" r="1.5" fill="#55635b" stroke="#c0c6b6" stroke-width=".58"/>
<circle cx="321.6" cy="82.1" r="1.5" fill="#54625a" stroke="#bfc5b5" stroke-width=".58"/>
<circle cx="361.4" cy="85.6" r="1.5" fill="#48564e" stroke="#b7bdad" stroke-width=".58"/>
<circle cx="339.1" cy="109.8" r="1.3" fill="#46544c" stroke="#b6bcac" stroke-width=".58"/>
<circle cx="328.7" cy="91.6" r="1.4" fill="#57655d" stroke="#c1c7b7" stroke-width=".58"/>
<circle cx="343.6" cy="102" r="1.6" fill="#34423a" stroke="#abb1a1" stroke-width=".58"/>
<circle cx="335.9" cy="84.6" r="1.3" fill="#38463e" stroke="#adb3a3" stroke-width=".58"/>
<circle cx="333.7" cy="94.9" r="1.6" fill="#4d5b53" stroke="#bbc1b1" stroke-width=".58"/>
<circle cx="346.4" cy="109.1" r="1.5" fill="#97a59d" stroke="#eaf0e0" stroke-width=".58"/>
<circle cx="330.3" cy="72.9" r="1.4" fill="#55635b" stroke="#c0c6b6" stroke-width=".58"/>
<circle cx="347.4" cy="57.2" r="1.3" fill="#26342c" stroke="#9da393" stroke-width=".58"/>
<circle cx="351.4" cy="71.1" r="1.5" fill="#26342c" stroke="#9fa595" stroke-width=".58"/>
<circle cx="330.9" cy="102.9" r="1.3" fill="#64726a" stroke="#c9cfbf" stroke-width=".58"/>
<circle cx="327.1" cy="101.5" r="1.3" fill="#7d8b83" stroke="#dae0d0" stroke-width=".58"/>
<circle cx="330.1" cy="83.9" r="1.3" fill="#64726a" stroke="#c9cfbf" stroke-width=".58"/>
<circle cx="363.2" cy="88.8" r="1.5" fill="#3f4d45" stroke="#b2b8a8" stroke-width=".58"/>
<circle cx="325.7" cy="73.2" r="1.3" fill="#505e56" stroke="#bdc3b3" stroke-width=".58"/>
<circle cx="334" cy="91.9" r="1.5" fill="#425048" stroke="#b3b9a9" stroke-width=".58"/>
<circle cx="341.3" cy="78.1" r="1.6" fill="#7d8b83" stroke="#d9dfcf" stroke-width=".58"/>
<circle cx="326.6" cy="66.7" r="1.3" fill="#96a49c" stroke="#eaf0e0" stroke-width=".58"/>
<circle cx="336.4" cy="71" r="1.3" fill="#69776f" stroke="#cdd3c3" stroke-width=".58"/>
<circle cx="336.3" cy="63.7" r="1.7" fill="#79877f" stroke="#d7ddcd" stroke-width=".58"/>
<circle cx="336.2" cy="100.6" r="1.6" fill="#717f77" stroke="#d2d8c8" stroke-width=".58"/>
<circle cx="346.4" cy="103.2" r="1.7" fill="#5c6a62" stroke="#c4caba" stroke-width=".58"/>
<circle cx="347.2" cy="96.8" r="1.5" fill="#3e4c44" stroke="#b1b7a7" stroke-width=".58"/>
<circle cx="365" cy="101" r="1.5" fill="#39473f" stroke="#aeb4a4" stroke-width=".58"/>
<circle cx="325.6" cy="92.2" r="1.4" fill="#4b5951" stroke="#bac0b0" stroke-width=".58"/>
<circle cx="332.2" cy="111.1" r="1.6" fill="#47554d" stroke="#b7bdad" stroke-width=".58"/>
<circle cx="358.4" cy="102.3" r="1.6" fill="#3c4a42" stroke="#b0b6a6" stroke-width=".58"/>
<circle cx="338.4" cy="73.8" r="1.5" fill="#56645c" stroke="#c1c7b7" stroke-width=".58"/>
<circle cx="334.4" cy="65.5" r="1.4" fill="#6c7a72" stroke="#ced4c4" stroke-width=".58"/>
<circle cx="348.1" cy="89" r="1.5" fill="#5f6d65" stroke="#c6ccbc" stroke-width=".58"/>
<circle cx="349.5" cy="107.3" r="1.6" fill="#717f77" stroke="#d2d8c8" stroke-width=".58"/>
<circle cx="328.2" cy="94.8" r="1.4" fill="#84928a" stroke="#dee4d4" stroke-width=".58"/>
<circle cx="352.6" cy="98.9" r="1.4" fill="#88968e" stroke="#e0e6d6" stroke-width=".58"/>
<circle cx="335.6" cy="96.9" r="1.4" fill="#4c5a52" stroke="#bac0b0" stroke-width=".58"/>
<circle cx="345.4" cy="60.4" r="1.7" fill="#2d3b33" stroke="#a6ac9c" stroke-width=".58"/>
<circle cx="324.4" cy="82.7" r="1.3" fill="#6c7a72" stroke="#cfd5c5" stroke-width=".58"/>
<circle cx="341.1" cy="105.8" r="1.3" fill="#46544c" stroke="#b6bcac" stroke-width=".58"/>
<circle cx="357" cy="81" r="1.6" fill="#3e4c44" stroke="#b1b7a7" stroke-width=".58"/>
<circle cx="352.5" cy="77.8" r="1.6" fill="#58665e" stroke="#c2c8b8" stroke-width=".58"/>
<circle cx="346.1" cy="113.3" r="1.7" fill="#3e4c44" stroke="#b1b7a7" stroke-width=".58"/>
<circle cx="331.6" cy="69.5" r="1.3" fill="#707e76" stroke="#d1d7c7" stroke-width=".58"/>
<circle cx="365" cy="84.9" r="1.5" fill="#707e76" stroke="#d1d7c7" stroke-width=".58"/>
<circle cx="352.3" cy="106.1" r="1.6" fill="#4c5a52" stroke="#bac0b0" stroke-width=".58"/>
<circle cx="344.5" cy="75.8" r="1.5" fill="#3c4a42" stroke="#b0b6a6" stroke-width=".58"/>
<circle cx="339.1" cy="83.7" r="1.3" fill="#26342c" stroke="#9ea494" stroke-width=".58"/>
<circle cx="335.4" cy="110.6" r="1.3" fill="#313f37" stroke="#a9af9f" stroke-width=".58"/>
<circle cx="324.4" cy="70.9" r="1.7" fill="#7e8c84" stroke="#dae0d0" stroke-width=".58"/>
<circle cx="360.2" cy="82.5" r="1.3" fill="#2f3d35" stroke="#a8ae9e" stroke-width=".58"/>
<circle cx="349.3" cy="73.6" r="1.4" fill="#26342c" stroke="#929888" stroke-width=".58"/>
<circle cx="332.8" cy="105.2" r="1.5" fill="#6e7c74" stroke="#d0d6c6" stroke-width=".58"/>
<circle cx="332.3" cy="86" r="1.5" fill="#7f8d85" stroke="#dbe1d1" stroke-width=".58"/>
<circle cx="341.6" cy="60.8" r="1.7" fill="#5d6b63" stroke="#c5cbbb" stroke-width=".58"/>
<circle cx="341.7" cy="108.8" r="1.6" fill="#34423a" stroke="#abb1a1" stroke-width=".58"/>
<circle cx="344.2" cy="66.7" r="1.5" fill="#27352d" stroke="#a2a898" stroke-width=".58"/>
<circle cx="352.1" cy="103.2" r="1.5" fill="#526058" stroke="#bec4b4" stroke-width=".58"/>
<circle cx="355.8" cy="107.7" r="1.7" fill="#6b7971" stroke="#ced4c4" stroke-width=".58"/>
<circle cx="358.8" cy="99.1" r="1.6" fill="#49574f" stroke="#b8beae" stroke-width=".58"/>
<circle cx="355.3" cy="71.3" r="1.5" fill="#65736b" stroke="#cad0c0" stroke-width=".58"/>
<circle cx="344.1" cy="81.8" r="1.3" fill="#88968e" stroke="#e1e7d7" stroke-width=".58"/>
<circle cx="348.3" cy="86.1" r="1.3" fill="#46544c" stroke="#b6bcac" stroke-width=".58"/>
<circle cx="353.6" cy="80.2" r="1.7" fill="#4b5951" stroke="#b9bfaf" stroke-width=".58"/>
<circle cx="321.3" cy="89.5" r="1.3" fill="#37453d" stroke="#adb3a3" stroke-width=".58"/>
<circle cx="336.6" cy="67.2" r="1.3" fill="#808e86" stroke="#dbe1d1" stroke-width=".58"/>
<circle cx="343.6" cy="104.8" r="1.6" fill="#27352d" stroke="#a3a999" stroke-width=".58"/>
<circle cx="331.5" cy="93.2" r="1.4" fill="#6b7971" stroke="#ced4c4" stroke-width=".58"/>
<circle cx="338.6" cy="78.9" r="1.7" fill="#324038" stroke="#a9af9f" stroke-width=".58"/>
<circle cx="352.6" cy="94.1" r="1.4" fill="#92a098" stroke="#e7eddd" stroke-width=".58"/>
<circle cx="364.8" cy="91.3" r="1.7" fill="#34423a" stroke="#abb1a1" stroke-width=".58"/>
<circle cx="326.3" cy="107.3" r="1.6" fill="#2b3931" stroke="#a5ab9b" stroke-width=".58"/>
<circle cx="338.3" cy="87" r="1.4" fill="#54625a" stroke="#bfc5b5" stroke-width=".58"/>
<circle cx="339.4" cy="95.4" r="1.5" fill="#37453d" stroke="#adb3a3" stroke-width=".58"/>
<circle cx="362.1" cy="80.5" r="1.4" fill="#34423a" stroke="#abb1a1" stroke-width=".58"/>
<circle cx="359.2" cy="87.8" r="1.3" fill="#909e96" stroke="#e6ecdc" stroke-width=".58"/>
<circle cx="361.8" cy="91.6" r="1.6" fill="#829088" stroke="#dce2d2" stroke-width=".58"/>
<circle cx="324.7" cy="100.4" r="1.7" fill="#75837b" stroke="#d5dbcb" stroke-width=".58"/>
<circle cx="348.5" cy="66.7" r="1.3" fill="#2c3a32" stroke="#a6ac9c" stroke-width=".58"/>
<circle cx="349.7" cy="104.5" r="1.6" fill="#89978f" stroke="#e1e7d7" stroke-width=".58"/>
<circle cx="336.2" cy="84.9" r=".5" fill="#38484a" opacity=".8"/>
<circle cx="352.7" cy="109.3" r=".5" fill="#38484a" opacity=".8"/>
<circle cx="329.1" cy="92.2" r=".5" fill="#38484a" opacity=".8"/>
<circle cx="332" cy="110.7" r=".5" fill="#38484a" opacity=".8"/>
<circle cx="348.2" cy="85.6" r=".5" fill="#38484a" opacity=".8"/>
<circle cx="336.2" cy="66.6" r=".5" fill="#38484a" opacity=".8"/>
<circle cx="358.3" cy="109.1" r=".5" fill="#38484a" opacity=".8"/>
<circle cx="320.8" cy="89.1" r=".5" fill="#38484a" opacity=".8"/>
<circle cx="323" cy="75" r=".5" fill="#38484a" opacity=".8"/>
<circle cx="334" cy="74" r=".5" fill="#38484a" opacity=".8"/>
<circle cx="348.5" cy="86" r=".5" fill="#38484a" opacity=".8"/>
<circle cx="330.4" cy="102.4" r=".5" fill="#38484a" opacity=".8"/>
<circle cx="335.8" cy="71.1" r=".5" fill="#38484a" opacity=".8"/>
<circle cx="353.3" cy="79.8" r=".5" fill="#38484a" opacity=".8"/>
<circle cx="334" cy="102.4" r=".5" fill="#38484a" opacity=".8"/>
<circle cx="333.6" cy="78.2" r=".5" fill="#38484a" opacity=".8"/>
<circle cx="352.2" cy="78" r=".5" fill="#38484a" opacity=".8"/>
<circle cx="364.1" cy="97.9" r=".5" fill="#38484a" opacity=".8"/>
<circle cx="324.5" cy="82.4" r=".5" fill="#38484a" opacity=".8"/>
<circle cx="345.4" cy="98.7" r=".5" fill="#38484a" opacity=".8"/>
<circle cx="343" cy="105.2" r=".5" fill="#38484a" opacity=".8"/>
<circle cx="328.1" cy="98.1" r=".5" fill="#38484a" opacity=".8"/>
<circle cx="338.1" cy="74.4" r=".5" fill="#38484a" opacity=".8"/>
<circle cx="361.7" cy="98.1" r=".5" fill="#38484a" opacity=".8"/>
<circle cx="352.5" cy="99.4" r=".5" fill="#38484a" opacity=".8"/>
<circle cx="339.2" cy="110.1" r=".5" fill="#38484a" opacity=".8"/>
<circle cx="331.1" cy="103" r=".5" fill="#38484a" opacity=".8"/>
<circle cx="355.4" cy="101.1" r=".5" fill="#38484a" opacity=".8"/>
<circle cx="334.6" cy="78.8" r=".5" fill="#38484a" opacity=".8"/>
<circle cx="338" cy="89.7" r=".5" fill="#38484a" opacity=".8"/>
<circle cx="326.3" cy="66.9" r=".5" fill="#38484a" opacity=".8"/>
<circle cx="337" cy="67.7" r=".5" fill="#38484a" opacity=".8"/>
<circle cx="343.9" cy="104.9" r=".5" fill="#38484a" opacity=".8"/>
<circle cx="341.8" cy="98" r=".5" fill="#38484a" opacity=".8"/>
<circle cx="332.3" cy="75.7" r=".5" fill="#38484a" opacity=".8"/>
<circle cx="339.2" cy="102.5" r=".5" fill="#38484a" opacity=".8"/>
<circle cx="339.3" cy="95.5" r=".5" fill="#38484a" opacity=".8"/>
<circle cx="326.9" cy="76.2" r=".5" fill="#38484a" opacity=".8"/>
<circle cx="338.4" cy="87.6" r=".5" fill="#38484a" opacity=".8"/>
<circle cx="330.2" cy="73.1" r=".5" fill="#38484a" opacity=".8"/>
<circle cx="365.3" cy="85.1" r=".5" fill="#38484a" opacity=".8"/>
<circle cx="336.2" cy="101.2" r=".5" fill="#38484a" opacity=".8"/>
<circle cx="328.9" cy="108.3" r=".5" fill="#38484a" opacity=".8"/>
<circle cx="322.3" cy="101.1" r=".5" fill="#38484a" opacity=".8"/>
<circle cx="327.5" cy="76.5" r=".5" fill="#38484a" opacity=".8"/>
<circle cx="323.8" cy="87.4" r=".5" fill="#38484a" opacity=".8"/>
<circle cx="353.9" cy="80.1" r=".5" fill="#38484a" opacity=".8"/>
<circle cx="327.3" cy="101.4" r=".5" fill="#38484a" opacity=".8"/>
<circle cx="352.6" cy="78.4" r=".5" fill="#38484a" opacity=".8"/>
<circle cx="326.9" cy="77.2" r=".5" fill="#38484a" opacity=".8"/>
<circle cx="349" cy="101.1" r=".5" fill="#38484a" opacity=".8"/>
<circle cx="330.6" cy="96.6" r=".5" fill="#38484a" opacity=".8"/>
<circle cx="341.6" cy="108.6" r=".5" fill="#38484a" opacity=".8"/>
<circle cx="358.6" cy="92.8" r=".5" fill="#38484a" opacity=".8"/>
<circle cx="343.6" cy="105" r=".5" fill="#38484a" opacity=".8"/>
<circle cx="343.2" cy="101.6" r=".5" fill="#38484a" opacity=".8"/>
<circle cx="329.2" cy="105.3" r=".5" fill="#38484a" opacity=".8"/>
<circle cx="344.2" cy="81.5" r=".5" fill="#38484a" opacity=".8"/>
<circle cx="356" cy="84.1" r=".5" fill="#38484a" opacity=".8"/>
<circle cx="328.3" cy="69.6" r=".5" fill="#38484a" opacity=".8"/>
<circle cx="333.3" cy="104.8" r=".5" fill="#38484a" opacity=".8"/>
<circle cx="348" cy="76.1" r=".5" fill="#38484a" opacity=".8"/>
<circle cx="344.3" cy="84.4" r=".5" fill="#38484a" opacity=".8"/>
<circle cx="331.2" cy="70" r=".5" fill="#38484a" opacity=".8"/>
<circle cx="344.1" cy="102.4" r=".5" fill="#38484a" opacity=".8"/>
<circle cx="332.7" cy="98.5" r=".5" fill="#38484a" opacity=".8"/>
<circle cx="320.9" cy="90.1" r=".5" fill="#38484a" opacity=".8"/>
<circle cx="336.6" cy="64" r=".5" fill="#38484a" opacity=".8"/>
<circle cx="343.9" cy="66.1" r=".5" fill="#38484a" opacity=".8"/>
<circle cx="324.4" cy="99.9" r=".5" fill="#38484a" opacity=".8"/>
<circle cx="343.9" cy="75.5" r=".5" fill="#38484a" opacity=".8"/>
<circle cx="341.1" cy="88.5" r=".5" fill="#38484a" opacity=".8"/>
<circle cx="336.2" cy="93.5" r=".5" fill="#38484a" opacity=".8"/>
<circle cx="355.3" cy="89.2" r=".5" fill="#38484a" opacity=".8"/>
<circle cx="345.9" cy="98.3" r=".5" fill="#38484a" opacity=".8"/>
<circle cx="364.6" cy="85.1" r=".5" fill="#38484a" opacity=".8"/>
</g>
<g filter="url(#b3)">
<circle cx="346.6" cy="55.6" r="1.7" fill="#c8d2c4"/>
<ellipse cx="361.8" cy="76.8" rx="1.5" ry="1.5" fill="#33443f" stroke="#b8c4b8" stroke-width="0.6" opacity="1"/>
<ellipse cx="364.4" cy="78.6" rx="1.5" ry="1.5" fill="#33443f" stroke="#b8c4b8" stroke-width="0.6" opacity="1"/>
<ellipse cx="367.4" cy="79" rx="1.5" ry="1.5" fill="#33443f" stroke="#b8c4b8" stroke-width="0.6" opacity="1"/>
<ellipse cx="370.3" cy="79.8" rx="1.5" ry="1.5" fill="#33443f" stroke="#b8c4b8" stroke-width="0.6" opacity="1"/>
<ellipse cx="321.6" cy="104.6" rx="1.6" ry="1.6" fill="#3a4a46" stroke="#c0cbbd" stroke-width="0.7" opacity="1"/>
<ellipse cx="364.3" cy="59.8" rx="1.8" ry="1.8" fill="#2a3b3b" stroke="#b4c0b4" stroke-width="0.7" opacity="1"/>
<ellipse cx="367.8" cy="59.1" rx="1.8" ry="1.8" fill="#2a3b3b" stroke="#b4c0b4" stroke-width="0.7" opacity="1"/>
<ellipse cx="371.4" cy="60.5" rx="1.8" ry="1.8" fill="#2a3b3b" stroke="#b4c0b4" stroke-width="0.7" opacity="1"/>
<ellipse cx="362.9" cy="63.3" rx="1.8" ry="1.8" fill="#2a3b3b" stroke="#b4c0b4" stroke-width="0.7" opacity="1"/>
<ellipse cx="366.4" cy="63.3" rx="1.8" ry="1.8" fill="#2a3b3b" stroke="#b4c0b4" stroke-width="0.7" opacity="1"/>
<ellipse cx="370.4" cy="64" rx="1.8" ry="1.8" fill="#2a3b3b" stroke="#b4c0b4" stroke-width="0.7" opacity="1"/>
<ellipse cx="364.3" cy="66.9" rx="1.8" ry="1.8" fill="#2a3b3b" stroke="#b4c0b4" stroke-width="0.7" opacity="1"/>
<ellipse cx="367.8" cy="67.6" rx="1.8" ry="1.8" fill="#2a3b3b" stroke="#b4c0b4" stroke-width="0.7" opacity="1"/>
<ellipse cx="371.4" cy="67.6" rx="1.8" ry="1.8" fill="#2a3b3b" stroke="#b4c0b4" stroke-width="0.7" opacity="1"/>
<ellipse cx="366.4" cy="71.1" rx="1.8" ry="1.8" fill="#2a3b3b" stroke="#b4c0b4" stroke-width="0.7" opacity="1"/>
<ellipse cx="370" cy="71.8" rx="1.8" ry="1.8" fill="#2a3b3b" stroke="#b4c0b4" stroke-width="0.7" opacity="1"/>
<ellipse cx="373.5" cy="71.1" rx="1.8" ry="1.8" fill="#2a3b3b" stroke="#b4c0b4" stroke-width="0.7" opacity="1"/>
</g>
<rect x="386" y="141" width="14" height="7.8" fill="#f6f8f6"/><path d="M386.6 141.6h12.8" stroke="#2a3034" stroke-width="1.3" stroke-dasharray="2.3 1.3"/><text x="393" y="147.3" font-size="4.7" text-anchor="middle" fill="#3a3a3a" opacity=".98" filter="url(#b0)">10 µm</text>
</g>
<g clip-path="url(#c2)">
<rect x="412.7" y="27" width="133" height="123.5" fill="url(#bg2)"/>
<rect x="412.7" y="27" width="133" height="123.5" fill="#fff" filter="url(#grain)" opacity=".10"/>
<g filter="url(#b12)" opacity=".38">
<ellipse cx="466" cy="108" rx="34" ry="24" fill="#2a3e44"/>
<ellipse cx="518" cy="52" rx="10" ry="16" fill="#2a3e44"/>
<ellipse cx="527" cy="72" rx="12" ry="8" fill="#2a3e44"/>
<ellipse cx="474" cy="79" rx="12" ry="9" fill="#2a3e44"/>
</g>
<circle cx="435.1" cy="67.4" r="2.9" fill="url(#glow)" opacity="1"/>
<circle cx="438.4" cy="68.4" r="2.6" fill="url(#glow)" opacity="1"/>
<circle cx="435.1" cy="67.4" r="1.6" fill="url(#glow)" opacity="0.9"/>
<circle cx="438.4" cy="68.4" r="1.4" fill="url(#glow)" opacity="0.8"/>
<circle cx="428" cy="79" r="2.6" fill="url(#glow)" opacity="0.6"/>
<circle cx="498.2" cy="52" r="3" fill="url(#glow)" opacity="1"/>
<circle cx="498.2" cy="52" r="1.6" fill="url(#glow)" opacity="0.8"/>
<circle cx="428.7" cy="101.6" r="3.2" fill="url(#glow)" opacity="1"/>
<circle cx="428.7" cy="101.6" r="1.7" fill="url(#glow)" opacity="0.8"/>
<circle cx="501" cy="33" r="2" fill="url(#glow)" opacity="0.3"/>
<circle cx="500.5" cy="98" r="1.6" fill="url(#glow)" opacity="0.3"/>
<circle cx="534" cy="110" r="1.5" fill="url(#glow)" opacity="0.35"/>
<circle cx="541" cy="43" r="1.2" fill="url(#glow)" opacity="0.4"/>
<circle cx="452" cy="66" r="1.6" fill="url(#glow)" opacity="0.25"/>
<circle cx="420" cy="62" r="2" fill="url(#glow)" opacity="0.3"/>
<circle cx="425" cy="129" r="2" fill="url(#glow)" opacity="0.3"/>
<g filter="url(#soft)">
<path d="M461.4 84C461.9 82.4 463.6 79.7 465.1 77.9C466.5 76 468.2 74.5 470 72.9C471.9 71.4 474.3 69 476.2 68.6C478 68.2 479.5 69.4 481.1 70.4C482.8 71.5 485.5 73.1 486.1 74.8C486.7 76.4 485.8 78.8 484.8 80.3C483.9 81.9 482.4 82.8 480.5 84C478.7 85.3 476.1 86.8 473.7 87.7C471.4 88.7 468.3 89.6 466.3 89.6C464.4 89.6 462.8 88.7 462 87.7C461.2 86.8 460.9 85.7 461.4 84Z" fill="#142225" stroke="#8c968f" stroke-width="0.75" stroke-linejoin="round" stroke-opacity=".72"/><path d="M465.1 85.3L471.3 77.9L478.7 75.4" fill="none" stroke="#8c968f" stroke-width=".55" opacity=".7"/><path d="M470 72.9L473.7 80.3L481.1 81.6" fill="none" stroke="#8c968f" stroke-width=".55" opacity=".7"/><path d="M466.9 88.3L471.3 82.2" fill="none" stroke="#8c968f" stroke-width=".55" opacity=".7"/><path d="M479.6 73.5l1.5 1.2M476.6 73l-1 0.3M462.9 82.7l-1.2 0.7M483.3 78.9l0.7 0.4M468.5 82.3l-1.4 1.5M464.1 81.2l0.9 1.8M475 74.1l-0.1 1.3M466.3 83.8l-0.2 0.8M475.8 84.6l-0.7 0.5M471.4 76.3l-1.5 1.3M475.6 78.9l0.7 1M478.3 85.1l-0.1 2.1M481 83.5l0.1 1.1M482.8 75.8l-0.8 0.5M467.9 86.5l-0.8 1M476.6 72.5l-0.3 1.4M465.1 84.3l0.7 0.5M473.2 73.4l0.6 1M480.1 70.1l0.2 2M472 75.5l0.6 1.6M466.5 76.8l-1.2 0.4M471.2 73.1l1.2 1.3M470.2 85.9l0.7 0.7M461.9 86l1 0.2M467.6 79.2l1 0.2M482.6 72.5l-0.1 1.2M477.9 75.5l-0.4 0.9M480.8 76.8l1.4 1.4M481.2 78.8l-2 0.7M475.9 76.9l-1.3 1.3M481.2 79.7l2 0.3M481.5 79.2l-1.3 1.1M470.5 77.9l0.3 1.7M463.5 87.3l-1.2 0.1M483.6 72.8l-0.2 1.9M476.5 80.1l-1.1 0.6M485.6 75l-0.2 2.1M477.7 69.5l-0.9 0.2M473.7 81.8l-1 0.3M481.8 71.5l1 0.1M475.7 81.3l-1.2 0.8M484.8 74l1.9 0.9M475.4 78.7l-0.8 0.9M468.7 75.5l0.9 0.3M480.8 75.1l-1.7 0.5M485.4 77.1l-1.3 1.7M478.3 74.2l-2 0.3M471.5 78.7l-0.6 0.9M472.3 86.7l-0 0.9M464.7 84.8l-0.6 2M468.6 76.3l1.1 0.7M470.8 86.8l0.9 0.3M477.9 77.9l-1.8 0.1M481.3 74.9l0.6 1M478.5 79.7l1.3 1.5M462.7 86.5l-1.3 1.4M477.3 84.9l1.2 0.9M466 82.8l-0 1M472.4 82.2l2 0.3M465.9 86.4l2.1 0.3M465.2 86.8l0.8 0.3M483.4 75.8l-0.7 0.4M466.5 82.4l-0 0.9M482.8 75.5l-0.2 0.9M479.5 81.4l-0.8 0.6M479 81.1l-1.8 0M480.4 76.7l-1.2 1.1M465.1 81.5l-0.2 1.6M471.8 75.9l-0.9 0.5M467.6 82.2l0.5 2.1M484.3 73.4l1.2 0.9M462.7 87.2l2.1 0.3M474.4 72.9l0.2 2M469.2 77.6l-1.6 1M479 79.1l-1.9 0.9M473.6 71.9l-0.7 0.6M473.6 76.3l-0.9 0.3M474.4 84.9l-1.7 0.6M476 70.1l-0.5 1.7M474.8 78.3l1 0.8M470.9 84.1l2.1 0.1M478.1 82.1l-2.1 0.7M472.4 74.4l1.1 0.1M467.4 84.7l-0.3 1.2M469.1 87.4l0.9 0.2M472 87.9l1.6 0.1M479.4 72.4l-1 0.3M468.1 79l-1.1 0.9M463.5 87.4l-1.4 0.2M478.7 73.4l1.2 1.4M480.3 83.1l1.9 1M472.5 87l1.4 0.4M467.8 75.1l1.5 0.1M477.1 72.3l1.4 1.7M483.7 77.4l0.6 0.7M476.5 72.9l2.1 0.4M465.9 84.6l0.6 1.8M481.3 80.4l-1.3 0.1M480.7 76.6l0.7 0.7M474.5 84l-0.8 0.9" fill="none" stroke="#a9b4a8" stroke-width=".5" opacity=".45" stroke-linecap="round"/>
<path d="M414.5 38.3C415.3 37.2 417.1 37.1 418.2 37.7C419.2 38.3 420.3 40.4 420.6 42C421 43.7 420.5 46.1 420 47.6C419.5 49.1 418.5 51 417.6 51.3C416.6 51.6 415.2 50.6 414.5 49.5C413.7 48.3 413.2 46.4 413.2 44.5C413.2 42.7 413.6 39.5 414.5 38.3Z" fill="#1e2f33" stroke="#63736f" stroke-width="0.7" stroke-linejoin="round" stroke-opacity=".72"/><path d="M414.9 44.9l-1.3 0.6M414.5 40.6l1.2 0.2M416.5 41.6l-1 1.2M419.2 43.9l-1.6 0.6M419.4 45.4l1.6 0.7M416.2 46.9l-1.4 1M416.5 42.5l-0.6 0.8M418.4 44.3l0.9 0.4M419.6 44.3l-0.8 1.9M414.2 45.1l-1.8 0.7M413.9 46.2l0.3 2M417.9 50.5l-0.6 0.7M419.6 41.1l2.1 0.5M415.9 47l-1 0M414.9 45.3l1.8 0.1M419.8 45.5l1.3 0.3M417.7 45.9l-1 1.4M420 43.7l-1.6 0.9M419.8 47.4l0.6 2.1M414.4 44.5l1.1 1.1" fill="none" stroke="#a9b4a8" stroke-width=".5" opacity=".45" stroke-linecap="round"/>
<path d="M438.5 30.3C439.2 29.4 441.8 30.3 442.9 30.9C443.9 31.6 444.8 33 444.7 34C444.6 35.1 443.2 36.7 442.2 37.1C441.3 37.5 439.8 37.6 439.2 36.5C438.5 35.4 437.9 31.2 438.5 30.3Z" fill="#18282c" stroke="#6f7f7a" stroke-width="0.6" stroke-linejoin="round" stroke-opacity=".72"/><path d="M441.9 31.7l1.5 0.1M442.5 34.7l-0.1 1.2M442.1 36.1l1.3 0.3M439.8 35.1l-0.7 0.5M441.8 36.7l-0.4 0.8M442 35.7l1.1 1.3M439.5 32.3l-1.8 0.9M439.6 34.5l-1.3 0.2M442.4 35.8l-1.2 0.7" fill="none" stroke="#a9b4a8" stroke-width=".5" opacity=".45" stroke-linecap="round"/>
<ellipse cx="438.4" cy="32.4" rx="1.3" ry="1.9" fill="#5a6a5e" stroke="#d2d9c4" stroke-width="0.7" opacity="1"/>
<ellipse cx="459.5" cy="60" rx="2.4" ry="3.6" transform="rotate(5 459.5 60)" fill="#13211f" stroke="#c8d1bc" stroke-width="0.95" opacity="1"/>
<ellipse cx="444" cy="76" rx="2.2" ry="2.2" fill="#16262a" stroke="#8a9892" stroke-width="0.9" opacity="1"/>
<ellipse cx="457.7" cy="76.6" rx="3.3" ry="3.8" fill="#0f1c1f" stroke="#84928c" stroke-width="1" opacity="1"/>
<ellipse cx="439" cy="79.2" rx="2" ry="2.3" fill="#4c5c52" stroke="#e0e7d4" stroke-width="1" opacity="1"/>
<ellipse cx="440.7" cy="82.6" rx="2.1" ry="2.3" fill="#4c5c52" stroke="#e0e7d4" stroke-width="1" opacity="1"/>
<ellipse cx="419.4" cy="83.6" rx="2.3" ry="3.8" transform="rotate(-5 419.4 83.6)" fill="#2c3c38" stroke="#c6cfbc" stroke-width="0.85" opacity="1"/>
<path d="M442.2 87.4C443.2 86.4 445.6 85.9 447.2 86.2C448.7 86.5 450.7 87.9 451.5 89.3C452.3 90.6 452.5 92.9 452.1 94.2C451.7 95.5 450.3 97 449 97.3C447.8 97.6 446 96.9 444.7 96C443.5 95.2 442 93.8 441.6 92.3C441.2 90.9 441.3 88.4 442.2 87.4Z" fill="#1b2b2e" stroke="#79847f" stroke-width="0.8" stroke-linejoin="round" stroke-opacity=".72"/><path d="M444.1 94.8L447.8 91.1L450.9 89.9" fill="none" stroke="#79847f" stroke-width=".55" opacity=".7"/><path d="M450.6 94.9l-0.9 1.2M447.7 87.7l-1.9 0.5M452 93.4l-1 0.9M446 88.7l1 0.3M447.4 93.8l-1.3 0.5M445.8 91.4l-0.3 0.9M447.1 95.8l0.4 2.1M450.5 90.4l0.7 1M449.4 96.6l-1 0.2M442.8 93l0.9 2M443.5 90.7l1.8 0.6M450.1 90l1.3 0.8M449.7 93.2l1.5 1.1M444 87.4l-0.9 1.7M449.4 88.8l0.6 1.4M446.5 96.2l-1.2 0.4M444.1 94.2l0.4 1.3M451.8 92.2l0.7 1.1M445.4 92.3l-0 1.8M448.6 93.7l-1.5 1.2M442.3 91.6l0.2 1.8M450.5 95.2l2.1 0.1M446.1 93.1l-0.3 1.4M444.6 91.6l-0.4 1.1M443.2 93.6l-2 0.7M448.8 92.7l1.2 0.3M449 89.7l-0.2 1.1" fill="none" stroke="#a9b4a8" stroke-width=".5" opacity=".45" stroke-linecap="round"/>
<path d="M437.3 93.6C438 92.4 440 91.5 441 91.7C442 91.9 443.2 93.5 443.5 94.8C443.8 96.2 443.5 98.6 442.9 99.8C442.2 100.9 440.8 101.8 439.8 101.6C438.7 101.4 437.1 99.9 436.7 98.5C436.3 97.2 436.6 94.7 437.3 93.6Z" fill="#132124" stroke="#697672" stroke-width="0.7" stroke-linejoin="round" stroke-opacity=".72"/><path d="M437.5 95.6l1.1 0.2M439.2 97.8l-1.1 1.1M438.8 93.7l-0.8 0.5M443.1 97.4l0.3 1.6M438.1 96.7l0.9 1.2M441.9 94.4l1.7 0.3M438.9 97.6l0.4 0.8M442 93.4l1.5 1.2M442.2 93.4l-0.7 1.2M442.1 95.9l1.1 1.6M440.1 97.5l0.7 2M442.4 99.8l1.1 0.2M441.2 94.9l1.2 1M437.8 97.1l1.7 0.4M440.3 100.3l1.9 0.2M441.3 100.7l0.1 2" fill="none" stroke="#a9b4a8" stroke-width=".5" opacity=".45" stroke-linecap="round"/>
<path d="M449 98.5C450 97.6 452.3 96.8 453.4 97.3C454.4 97.8 455.2 100.1 455.2 101.6C455.2 103.1 454.3 105.6 453.4 106.5C452.4 107.5 450.6 107.8 449.7 107.2C448.7 106.5 447.9 104.3 447.8 102.8C447.7 101.4 448.1 99.4 449 98.5Z" fill="#132124" stroke="#697672" stroke-width="0.7" stroke-linejoin="round" stroke-opacity=".72"/><path d="M451.7 105.6l-1 0.2M454.2 99.5l-1.1 0.7M452.3 104l1.6 0M452.6 104.2l0.4 1.6M448.3 103.3l1.6 1.2M452.7 105.6l0.7 0.8M449 103.1l-0.9 0.6M451.8 105.2l-0.8 0.6M453 100l-0.8 1.2M449.2 104.4l1.9 0.2M453.4 97.5l-1.7 1M454.4 102.8l-0.3 0.8M448.4 103l0.3 1.7M448.7 101l-0.5 1.9M450.6 103.3l0.8 1M449.7 106.2l-0.4 1.8M451.4 101.3l1.2 1.7M448.3 103l-1 0.5M453.4 99.1l1.2 1.5" fill="none" stroke="#a9b4a8" stroke-width=".5" opacity=".45" stroke-linecap="round"/>
<ellipse cx="437.9" cy="108.6" rx="3.7" ry="4.2" fill="#1d2d30" stroke="#859089" stroke-width="0.9" opacity="1"/>
<ellipse cx="437.9" cy="108.8" rx="1.6" ry="1.8" fill="#2a3a3c" stroke="#697672" stroke-width="0.6" opacity="1"/>
<path d="M432.4 119.5C432.8 118.3 433.8 116.6 434.8 115.8C435.9 115 437.4 114.4 438.5 114.6C439.7 114.8 441 115.9 441.6 117C442.2 118.2 442.6 120.1 442.2 121.4C441.9 122.6 440.9 123.8 439.8 124.4C438.6 125.1 436.7 125.3 435.5 125.1C434.2 124.9 432.9 124.1 432.4 123.2C431.9 122.3 432 120.7 432.4 119.5Z" fill="#16262a" stroke="#859089" stroke-width="0.8" stroke-linejoin="round" stroke-opacity=".72"/><path d="M435.5 123.2L438.5 118.3L441.6 117" fill="none" stroke="#859089" stroke-width=".55" opacity=".7"/><path d="M435.1 119l-0.8 0.7M437 116l-0.5 1M436.7 122.4l0.4 1.1M435.9 119.3l0.4 1.2M438.5 121.2l-1 0.5M436.5 122l1.1 1.7M437.6 122.1l0.4 1.4M439.9 120.3l-2.1 0.2M432.8 119.5l1.1 0.1M436.3 118.3l-0.7 1.1M436 123.6l0.6 1.7M438.1 118.7l1.6 1.3M438.4 123.5l0.9 0.3M436.3 115.5l0.6 2M434.4 123.2l-0.8 0M438.2 119.5l-0 1.6M434.5 118.9l1.8 1.2M437.7 117.5l0.7 0.9M435.8 122.3l1.2 1.7M438.9 115.7l-0.4 1M437.2 120.4l0.7 1.2M442.2 121.5l0.5 1.6M437.3 120.7l1.4 0.2M432.8 119.6l-0.8 0.3M436.4 120.9l0.8 1.6" fill="none" stroke="#a9b4a8" stroke-width=".5" opacity=".45" stroke-linecap="round"/>
<path d="M440.4 113.3C440.8 112 443.3 111 444.7 110.9C446.2 110.8 448.2 111.7 449 112.7C449.9 113.7 450.1 115.8 449.7 117C449.2 118.3 447.8 119.8 446.6 120.1C445.3 120.4 443.3 120 442.2 118.9C441.2 117.8 440 114.7 440.4 113.3Z" fill="#101d20" stroke="#6e7d78" stroke-width="0.7" stroke-linejoin="round" stroke-opacity=".72"/><path d="M448.8 115.3l-1.6 0.3M446.5 114.6l-1.3 1.1M442.6 113l-1 1.1M447.8 117.1l1.5 0.8M443.1 119.1l-0.1 1.8M443.1 119l1.2 1.6M447.5 113.4l1.3 0.1M440.8 114l1.1 0.7M444.1 116.1l0.8 0.5M449.2 115.5l-1.2 1.4M443.9 119.2l-0.9 1.6M445 111.7l1.2 0.8M445.1 114.3l-1 0.2M443.3 116.1l0.9 0.8M448.4 115.7l0.4 1.8M444.1 111.3l-2.1 0.1M448.5 118.2l-1 1.3M442.7 112.3l1.3 1.3M444.6 116.7l-0.7 0.5M446.7 118.7l0.2 2.1M447.1 116.5l1.3 1.3M447.8 116.6l0.5 1.7M449 116.6l1.2 0.1M446.1 119.6l0.9 2" fill="none" stroke="#a9b4a8" stroke-width=".5" opacity=".45" stroke-linecap="round"/>
<ellipse cx="417.6" cy="99.8" rx="2.6" ry="3" fill="#1a2a2e" stroke="#6a7773" stroke-width="0.9" opacity="1"/>
<ellipse cx="418.8" cy="83.7" rx="2.2" ry="3.3" fill="#24343a" stroke="#b0bcae" stroke-width="0.8" opacity="0.0"/>
<ellipse cx="440.6" cy="138.2" rx="1.8" ry="1.8" fill="#1a2a2e" stroke="#4f605e" stroke-width="0.7" opacity="1"/>
<ellipse cx="415.7" cy="146" rx="2" ry="3.2" transform="rotate(10 415.7 146)" fill="#1a2a2e" stroke="#8b9893" stroke-width="0.8" opacity="1"/>
<path d="M471.3 123.2C472.1 122 474.6 121.9 476.2 122C477.8 122.1 480.4 122.6 481.1 123.8C481.9 125.1 481.1 127.6 480.5 129.4C479.9 131.1 478.6 133.4 477.4 134.3C476.3 135.2 474.8 135.8 473.7 134.9C472.7 134.1 471.7 131.3 471.3 129.4C470.8 127.4 470.4 124.4 471.3 123.2Z" fill="#132124" stroke="#8e9990" stroke-width="0.8" stroke-linejoin="round" stroke-opacity=".72"/><path d="M473.7 133.1L475.6 126.9L479.3 124.4" fill="none" stroke="#8e9990" stroke-width=".55" opacity=".7"/><path d="M479 124.7l-1.5 0.9M480.4 125.9l1.2 1.6M472.7 126.3l-1.8 1.1M473.6 130.4l-0.6 1.4M474.7 131.7l-0.3 0.7M475.6 132.7l0.4 0.9M472.9 130.6l2.1 0.3M477.8 123.1l1 0.6M476 128.6l-1.6 0.1M473.9 122.8l-1.6 0.7M473 132.6l-1.6 1.1M474.9 130.5l-0 1.4M472.1 123.8l-0.2 1.6M475.7 123.8l0.6 1.1M480.2 128.8l-0.4 0.9M479.8 125l-1.3 0.6M473.6 130.3l1.5 0.9M471.5 127.9l-0.5 0.8M477.9 131.5l0.7 1.1M472.7 127l0.5 1.7M478.5 130.5l-0.6 1.1M473.9 126.5l1.2 0.4M477.8 128.4l-1.1 0.8M477.8 131.7l0.3 1.9M472.7 123.3l-1.3 0.1M474.7 126.3l0 1.4M474.2 129.2l-0.1 1.3M478.6 123.8l1.2 0M478.4 125.7l1.6 0.9M473.2 125.5l1.6 0.1M475.1 123.7l-1 0M473.3 127.8l-1.1 1.7M476.1 123.3l1.5 0.5" fill="none" stroke="#a9b4a8" stroke-width=".5" opacity=".45" stroke-linecap="round"/>
<path d="M515.5 34.6C516.8 34.1 519.2 34.4 520.4 35.3C521.7 36.1 522.8 37.8 522.9 39.6C523 41.3 521.7 43.9 521.1 45.8C520.4 47.6 519.3 49 519.2 50.7C519.1 52.3 520.7 53.9 520.4 55.6C520.2 57.4 519 60.5 518 61.2C516.9 61.9 515.3 61.1 514.3 60C513.2 58.8 512.6 56.1 511.8 54.4C511 52.6 509.4 51.3 509.3 49.5C509.2 47.6 510.7 45.1 511.2 43.3C511.7 41.4 511.7 39.8 512.4 38.3C513.1 36.9 514.2 35.2 515.5 34.6Z" fill="#17272a" stroke="#919b92" stroke-width="0.85" stroke-linejoin="round" stroke-opacity=".72"/><path d="M513 39.6L518 40.8L521.7 39.6" fill="none" stroke="#919b92" stroke-width=".55" opacity=".7"/><path d="M511.8 49.5L516.7 47L519.8 49.5" fill="none" stroke="#919b92" stroke-width=".55" opacity=".7"/><path d="M514.3 59.3L516.7 54.4L519.8 55" fill="none" stroke="#919b92" stroke-width=".55" opacity=".7"/><path d="M516.1 35.9L515.5 45.8L517.4 53.8" fill="none" stroke="#919b92" stroke-width=".55" opacity=".7"/><path d="M514.4 50.1l-2.2 0.1M512.4 52.5l0.5 1.6M520.3 43.9l0.6 1.7M520.6 45.2l1.5 0.9M510.5 50.3l1.9 0.3M519 56.3l1.4 1.5M519.4 44.2l1.4 1.3M515.4 44.4l0.3 1M513.5 48.9l-2 0.2M514.1 57.1l0.4 1.5M511 46l0.3 0.8M513.1 52.5l-0.3 1M521.1 39.7l-0.6 1M519.1 56.9l-1.2 0.1M519.5 40.9l1.3 0.2M517.3 56.4l-0.9 0.3M514.8 43.6l-0.6 1.4M522.3 40.4l-0.1 0.8M513.9 53.6l-1.1 0.6M515.1 49.1l-1.3 0.8M520.5 45l-0 2M512.9 49.8l-1.1 1.7M516.5 46l-1.8 0.5M518.1 40.5l-0.8 0.4M515.9 40.3l-0.9 0.2M518.9 57.2l-1.3 0.3M514.6 36.8l0.8 0.1M512.1 40.8l-0.8 0.9M518 59l1.4 1.5M517 37.3l-0.7 0.9M519.4 53.6l1.3 0.6M514.4 59l0.8 1.9M516.9 49.7l1.8 1M512.4 48.4l0.3 2M512.9 38.1l1.4 0.4M521.6 37.6l0.1 1.2M516.1 55.4l-2.1 0.1M515.3 55.9l-1.4 0.9M512.7 44.1l1.6 0.1M515.1 44.8l0.9 0.1M513.8 50l-0.8 1.6M517.4 54.7l-1.2 1.4M518.7 43.2l0.5 1.1M515.9 55.4l-1.3 1.8M513.2 56.8l-0.3 1.7M515.4 44.4l1.8 0.6M518.1 49.7l0.4 1M511.8 46.3l1.1 0.6M519.1 52.8l0.1 1.1M513.6 49.3l-0.7 0.8M515.5 41.7l0.9 1M511.7 44.4l1.3 0.2M522.5 40.3l1 1.3M516.4 51.4l-0.8 0.7M517.2 37.2l0.7 0.6M514 57.3l1.2 1.7M517.4 56.5l-0.5 1.8M511.7 44l-0.6 1.5M519.1 48.9l-0.6 1.1M511.9 47.9l1.8 1.2M515 51.2l-0.6 1.9M517.8 52.8l-1.9 0.3M513.6 50.3l-0.2 1.4M511.7 46l2.1 0.5M512.1 54.2l0.3 1.7M519 41.4l-0.1 0.9M511.2 45.4l1 0.1M509.9 50.6l-1.1 1.5M511.7 43.5l-1.7 1M520.3 43.4l-1.9 0.3M516.8 55.6l-1.4 0.4M514.3 51l1.1 0.7M516.8 44.1l0.9 0.8M519.8 47.9l-0.8 1.8M515.5 58.2l-1.4 1.5M522.6 40.3l-1.3 0.5" fill="none" stroke="#a9b4a8" stroke-width=".5" opacity=".45" stroke-linecap="round"/>
<ellipse cx="516.4" cy="57.6" rx="2.4" ry="2" fill="#22322f" stroke="#c3cdbf" stroke-width="0.8" opacity="1"/>
<ellipse cx="497" cy="29.7" rx="1.8" ry="1.8" fill="#34443f" stroke="#b9c4b6" stroke-width="0.8" opacity="1"/>
<ellipse cx="490.2" cy="63.7" rx="5.2" ry="2.6" transform="rotate(50 490.2 63.7)" fill="#132124" stroke="#808b85" stroke-width="0.85" opacity="1"/>
<ellipse cx="490.4" cy="64" rx="2.6" ry="1.1" transform="rotate(50 490.4 64)" fill="#2a3a38" stroke="#b5c0b2" stroke-width="0.6" opacity="1"/>
<ellipse cx="500" cy="70.6" rx="1.8" ry="2.1" fill="#2d3d38" stroke="#d0d8c4" stroke-width="0.8" opacity="1"/>
<ellipse cx="500.7" cy="75" rx="1.9" ry="2.1" fill="#2d3d38" stroke="#d0d8c4" stroke-width="0.8" opacity="1"/>
<ellipse cx="508.3" cy="70.7" rx="1.6" ry="1.6" fill="#1b2b2e" stroke="#55665f" stroke-width="0.7" opacity="1"/>
<path d="M515.5 68.6C515.8 67.2 517.3 65.2 518.6 64.3C519.9 63.3 522 62.9 523.5 63C525.1 63.1 527 63.9 527.9 64.9C528.7 65.9 528.8 67.8 528.5 69.2C528.2 70.7 527.2 72.6 526 73.5C524.8 74.5 522.6 74.9 521.1 74.8C519.5 74.7 517.7 73.9 516.7 72.9C515.8 71.9 515.2 70 515.5 68.6Z" fill="#0f1b1e" stroke="#859089" stroke-width="0.8" stroke-linejoin="round" stroke-opacity=".72"/><path d="M518 71.7L521.7 66.7L527.2 65.5" fill="none" stroke="#859089" stroke-width=".55" opacity=".7"/><path d="M519.8 63.7L523.5 69.2L525.4 73.5" fill="none" stroke="#859089" stroke-width=".55" opacity=".7"/><path d="M524.1 64.3l-0.8 0.9M519.4 67.6l-0.6 0.6M519.9 66.9l0.8 0.3M525 63.7l-0.9 0M523.2 71.3l1.3 1.2M523.8 64l1.8 0.7M523.2 64l1.2 0.9M524.3 72.3l-1.1 1.2M521.8 70.2l0.7 2M524.1 66.7l1.5 0.4M521.2 67.7l-1.8 1M527.9 66.4l0.7 1.7M520.4 67.3l-0.9 1.7M520.7 66.8l-1.1 1.4M524 71.4l1.1 0.3M524.2 72l0.5 0.8M525.5 66.9l-0.6 0.6M523.3 71.3l-1.2 1.6M524.6 72.8l-1.1 0.6M522.3 74.1l-0.7 1.9M523.7 69.4l-0.7 1.5M521.9 64.7l-1.4 1.6M520.2 73.5l2.1 0.6M518.3 72.9l-0.3 1M520.2 69.1l-0.9 0.6M523 67.3l-0.6 1M518.2 67.8l0.9 0.5M522.3 67.1l0.1 1.1M523.8 73.5l0.2 0.8M518.6 72.7l1.1 1.5M518.1 70.6l0.7 1.1M522.2 65.7l0.8 0.3M517.8 65.9l1.4 1M526.5 65.6l2 0.7M520.3 70.4l-1.5 0.3" fill="none" stroke="#a9b4a8" stroke-width=".5" opacity=".45" stroke-linecap="round"/>
<ellipse cx="522.7" cy="76" rx="1.5" ry="1.8" fill="#556558" stroke="#d6ddc8" stroke-width="0.8" opacity="1"/>
<path d="M529.1 71.1C529.7 69.5 531 68.7 532.2 68.6C533.3 68.5 535 69.1 535.9 70.4C536.8 71.8 537.6 75 537.7 76.6C537.8 78.3 537.4 79.6 536.5 80.3C535.6 81 533.5 81.3 532.2 80.9C530.8 80.5 529 79.5 528.5 77.9C528 76.2 528.5 72.6 529.1 71.1Z" fill="#13211f" stroke="#859089" stroke-width="0.8" stroke-linejoin="round" stroke-opacity=".72"/><path d="M530.3 78.5L532.8 72.9L535.9 71.1" fill="none" stroke="#859089" stroke-width=".55" opacity=".7"/><path d="M534 80.3L534.6 74.8" fill="none" stroke="#859089" stroke-width=".55" opacity=".7"/><path d="M534 80.6l-0.3 1.2M529.8 71.7l0.8 0.7M535.2 71.4l-1 0.1M529 76l0 1.9M533.9 76.1l0.2 1.9M537.2 78.1l1.4 0.2M535.3 70.6l1.3 0.7M535.4 71.9l1.2 0.1M532.3 73.2l0.3 2M532.4 73.5l-0.9 1.3M535.7 72.2l-1.3 1.1M529.6 72.7l-0.1 1.9M529.9 77.4l0.9 1M532.3 72.9l1.2 0.6M535.2 71.6l-2.1 0.7M531.2 70.5l-1.1 0.1M536.8 79.3l-0.2 1.1M535.4 73l-1.8 0.6M535.9 78.5l2.1 0.5M533.7 80.4l0.9 0.4M535.4 71.4l-1.2 0.6M529.7 78.5l-0 0.9M530.7 72.4l1 0.5M530.5 75.8l0 1.9M535.4 74.7l-0.1 1.3M533 76.5l-0.5 1.5M529.5 77.1l0.9 0.7M532.6 78.9l-1.2 1.7" fill="none" stroke="#a9b4a8" stroke-width=".5" opacity=".45" stroke-linecap="round"/>
<ellipse cx="530.3" cy="56.2" rx="1.9" ry="1.9" fill="#0f1c1f" stroke="#5d6d68" stroke-width="0.9" opacity="1"/>
<ellipse cx="540.8" cy="64.3" rx="2.4" ry="2.4" fill="#13211f" stroke="#62726e" stroke-width="0.9" opacity="1"/>
<path d="M477.2 82.5C478.3 81.3 480.6 80.4 482.2 80.6C483.7 80.8 485.7 82.2 486.5 83.7C487.3 85.2 487.6 88.2 487.1 89.9C486.6 91.5 484.8 93.2 483.4 93.6C482 94 479.7 93.4 478.5 92.3C477.2 91.3 476.2 89.1 476 87.4C475.8 85.8 476.2 83.6 477.2 82.5Z" fill="#1d2d2f" stroke="#8e9990" stroke-width="0.8" stroke-linejoin="round" stroke-opacity=".72"/><path d="M477.9 91.1L481.6 86.2L485.9 84.3" fill="none" stroke="#8e9990" stroke-width=".55" opacity=".7"/><path d="M481.9 89.4l1.8 1.3M480.3 83.7l-1.2 0.3M478.4 89.5l-0.2 0.9M485.8 84l-1.9 1M485.5 83.3l-0.8 0.3M485.4 83.6l0.8 0.4M477.5 88.4l-0.8 1.3M480.3 88.4l1.6 0.2M479.8 81.8l-1.5 1.2M479.4 86l-0.3 1.7M485.1 84.3l-0.8 0.5M481 90.9l-0.6 1.2M483.6 93.3l-0 1.8M480.2 87.7l1.4 0.7M480 82.5l1.3 1.7M481.5 91.9l-1.1 1.6M483.5 91.6l0.2 1.2M485.7 85.5l-0.8 1.1M484.2 91.1l0.7 1.4M480.1 88.2l1.1 0.1M476.9 87.7l1.4 1.4M480.4 84.7l0.6 0.6M477.7 89.7l-0.1 1.2M478 88.2l0.7 1.8M482.7 87.8l0.8 0.3M481.2 92.4l0.4 1.9M483.4 92.2l-1.2 1.8M482.7 88.3l-1.7 1M480.3 90.7l-0.7 0.6M478.7 89.7l0.2 0.8M480 90.2l0.6 0.8M479.2 86.7l0.9 1.5M479.1 82.9l-1 0.6M481.3 82.3l0.8 0.3M485.7 86.4l0.4 0.9" fill="none" stroke="#a9b4a8" stroke-width=".5" opacity=".45" stroke-linecap="round"/>
<path d="M487.7 93.6C488.4 92.1 491.1 91.1 492.7 91.1C494.2 91.1 496.4 92.1 497 93.6C497.6 95 497.2 98.2 496.4 99.8C495.5 101.3 493.4 102.8 492 102.8C490.7 102.8 489.1 101.3 488.3 99.8C487.6 98.2 487 95 487.7 93.6Z" fill="#101d20" stroke="#6a7773" stroke-width="0.75" stroke-linejoin="round" stroke-opacity=".72"/><path d="M489.6 100.4L492.7 95.4L496.4 94.2" fill="none" stroke="#6a7773" stroke-width=".55" opacity=".7"/><path d="M494.2 96l0.7 1.2M489.6 96.1l0 0.9M494.8 92.4l-0.9 0.7M494.4 98.9l-0.2 1M488.7 98l1.3 0.8M495.5 96l1.3 0.5M491.8 102l1.1 0.4M492.7 96.5l-2 0.6M489.2 96.6l1.1 0.3M494.1 92.7l-0.8 1.7M493.6 95.3l1.7 0.2M495.6 98.3l1.1 1.9M492.5 93l-0.9 0.7M493.1 100.1l1.9 0.1M494.5 95.4l-0.6 0.8M491.1 100.3l-1.5 0.4M493.7 101.6l0.8 1.1M490.3 96.7l0.3 1.7M492.3 100.2l-0.1 1.5M494.3 93.9l-0.1 1.8M490.7 99.3l0.6 1M495.8 99.9l-0.7 0.7M491.9 100.2l0.7 0.9M492.8 102.1l-1.6 1.3M491.3 94.1l-0.1 1.4M489.9 100.5l1.2 1.6M495.3 93l-0.7 1.3" fill="none" stroke="#a9b4a8" stroke-width=".5" opacity=".45" stroke-linecap="round"/>
<path d="M498.8 99.8C499.4 97.9 501.3 97.3 502.5 97.3C503.8 97.3 505.4 98.1 506.2 99.8C507.1 101.4 507.4 104.5 507.5 107.2C507.6 109.8 507.5 113.7 506.9 115.8C506.2 117.9 504.8 119.5 503.8 119.5C502.7 119.5 501.4 117.7 500.7 115.8C500 114 499.8 111.1 499.5 108.4C499.1 105.7 498.3 101.6 498.8 99.8Z" fill="#0f1b1e" stroke="#79847f" stroke-width="0.8" stroke-linejoin="round" stroke-opacity=".72"/><path d="M501.3 115.8L503.2 107.2L505.6 100.4" fill="none" stroke="#79847f" stroke-width=".55" opacity=".7"/><path d="M500.1 108.4L506.9 109.6" fill="none" stroke="#79847f" stroke-width=".55" opacity=".7"/><path d="M504.5 104.7l-0.4 1.3M499.8 101.7l1.7 0.7M503.1 110.6l-1.6 1.1M506.3 100.7l-1 0.6M500.1 103.3l-1 1.5M503.4 98.6l-1.6 0.6M501.5 115.7l-1.2 0.5M504.1 103l-0.7 1.6M502.7 114.8l1.3 0.3M505.9 114.1l1.5 0.1M505.6 106.8l-0.1 0.9M499.7 106l-0.2 1.7M504.2 108.4l0.7 0.8M503.5 114.6l0.8 1.1M503.6 118.9l1.1 0.3M501.7 98.3l1.9 1.1M500.1 104l0.8 1.7M502.7 114l-0.4 2.1M503.6 110.6l-2 0.2M503.5 106.6l1 0.4M507.2 109.6l0.2 1.4M504.6 116.2l-0.4 1.7M505.2 109.2l-0.7 2M505 115.7l0 2M500 99.4l-1.5 0.8M504.5 105.4l-0.1 1.4M503.2 108.6l-1.9 0.6M502.7 105l1.8 0.9M502.8 112.1l0.9 1.1M506.3 111.2l0.4 1.3M503 102.9l0.7 1M504.6 114.8l2 0.1M501.5 109.3l0.3 1.5M503.7 111.2l0.7 0.5M504 110.2l0.9 0.7M505.9 115l0.9 1.1M505.1 101.1l0.9 1.1M504.9 117.7l0.9 1.5M500.4 103.3l-0.8 0.7M503.3 99.1l0.7 1.5M502.3 102.7l-0.3 1.3M504.5 104.4l-2 0.3M504.9 102.3l2.1 0.6M503.9 113l-1.1 0.4M502.6 114.1l0.5 2.1M500.5 99.6l-1.1 1M502.9 107.7l-0.5 0.9M502.7 110.5l1.3 0.8" fill="none" stroke="#a9b4a8" stroke-width=".5" opacity=".45" stroke-linecap="round"/>
<path d="M482.8 103.5C483.9 102.3 486.4 101 488.3 101C490.3 101 493.2 102 494.5 103.5C495.9 104.9 496.6 107.7 496.4 109.6C496.2 111.6 494.7 114 493.3 115.2C491.8 116.4 489.5 117.3 487.7 117C486 116.7 483.8 114.9 482.8 113.3C481.8 111.8 481.6 109.4 481.6 107.8C481.6 106.1 481.7 104.6 482.8 103.5Z" fill="#25353a" stroke="#a1ab9f" stroke-width="0.85" stroke-linejoin="round" stroke-opacity=".72"/><path d="M483.4 112.7L488.3 107.2L494.5 104.7" fill="none" stroke="#a1ab9f" stroke-width=".55" opacity=".7"/><path d="M487.1 102.2L489.6 110.9L492.7 115.2" fill="none" stroke="#a1ab9f" stroke-width=".55" opacity=".7"/><path d="M482.2 108.4L495.8 109.6" fill="none" stroke="#a1ab9f" stroke-width=".55" opacity=".7"/><path d="M485.1 113.7l-1.2 0.2M485.7 104.2l0.7 1M491.3 105.8l1.5 1.1M488.2 102.6l-1 0.1M490.5 113.8l1.3 0.7M491.5 106l-0.1 1.8M494.2 106.2l0.5 0.6M490.9 111.6l-0.5 0.7M484 110.1l-2 0.3M483.5 105.3l0 1M483.5 110.9l-0.9 0.5M482.6 106.6l-0.8 1.1M487.6 102l-0.8 0.1M493.5 114.8l-1.7 0.4M489.6 108.9l0.6 1.6M490.7 108.5l1.6 1.1M494.8 108.8l-1.2 1.9M489.1 116.5l-0.1 0.9M488.4 113.3l0.8 0.5M487.4 112.6l1.9 1M495.5 107.3l-0.2 1.3M487.4 113.8l1.7 0.9M487.7 104.9l-1.7 1.3M491.8 115l-0.5 0.9M483.9 110.3l-0.9 0.5M485 112.1l0.2 1.6M484.5 111.7l1.4 1.1M488 109.7l0.6 1M484.2 105.5l1.5 1.5M487.3 109.3l0.8 1.6M493.3 107.9l-2 0.6M487.5 112.9l0.7 1.3M487.7 104.6l1.2 0.6M493.5 107.1l-1.3 0.2M487.7 114.8l-1.3 0.9M493.8 107.3l1.2 1M493.2 104.5l-0.9 0.7M482.3 107l-1.4 0.2M494.4 109.9l-1 0.9M491 108.3l-1.8 0.6M492.4 112.1l0.8 0.7M492.8 108.4l-2.1 0.7M491.1 102.6l-0.2 1.1M487.5 113.2l1 0.6M488.4 112.4l-1.8 0.9M493.2 105.7l0.2 1.1M486.1 108.2l1.7 0.7M487.7 112.7l0.3 1.1M486.3 112.7l-0.6 2M491.1 104.1l-1.9 0.4M494 103.4l-0.1 2.1M486.3 112.2l0.5 1.9M492.3 113.9l1.1 0.6M490 105.5l1.1 0.6" fill="none" stroke="#a9b4a8" stroke-width=".5" opacity=".45" stroke-linecap="round"/>
<path d="M482.8 117C483.4 116.1 486.6 117.8 488.3 117.7C490.1 117.6 492.3 115.8 493.3 116.4C494.3 117 495.1 119.9 494.5 121.4C493.9 122.8 491.2 124.8 489.6 125.1C487.9 125.4 485.8 124.5 484.6 123.2C483.5 121.9 482.2 118 482.8 117Z" fill="#16262a" stroke="#808b85" stroke-width="0.75" stroke-linejoin="round" stroke-opacity=".72"/><path d="M484.6 122.6L489 119.5L493.3 117" fill="none" stroke="#808b85" stroke-width=".55" opacity=".7"/><path d="M485.2 121.2l-1.8 0.3M489.3 123.6l-0.1 0.9M491.7 117.6l1.5 0.9M493.7 120.3l1.6 0.9M486.2 119.7l-0.2 0.9M488.1 119l-1.2 0.8M493.8 119.1l1.1 0.8M494 121.7l0.5 1.7M486.5 119.7l1.4 0.6M486.2 120.6l1.2 0.6M486.7 119.2l0.4 0.9M492.2 118.4l0.9 0.5M492.4 117.2l1.5 0.7M492.9 117.9l1.2 0.6M494.3 120.8l-0.4 1.5M487.3 122.2l-0.8 0.4M490.9 120.7l-1.3 1M489.8 122.8l-0.5 2.1M487.5 118.1l-1.6 0.9M483.5 118.2l1.2 1.6M490.2 124.5l0.8 0.2M486.6 121.5l-0.7 2M490.5 117.5l1.1 0M493.2 121.1l-0.4 1" fill="none" stroke="#a9b4a8" stroke-width=".5" opacity=".45" stroke-linecap="round"/>
<path d="M476 93.6C476.8 91.6 479.8 93.6 480.9 94.8C482.1 96 482.8 99.1 482.8 101C482.8 102.8 482.1 105 480.9 105.9C479.8 106.9 476.8 108.6 476 106.5C475.2 104.5 475.2 95.5 476 93.6Z" fill="#2c3c3e" stroke="#929c93" stroke-width="0.8" stroke-linejoin="round" stroke-opacity=".72"/><path d="M476.6 104.7L479.7 99.8L481.6 95.4" fill="none" stroke="#929c93" stroke-width=".55" opacity=".7"/><path d="M479.9 97.5l1.2 0.5M476.1 102.6l-0.4 1.8M478.8 97.4l1.1 1.8M481.4 103.3l0.1 0.9M476.7 96.5l-0.8 1.8M477.5 96.7l0.3 1.7M478 96.9l-0.8 0.5M477.8 103.5l0.8 0.2M480.5 104.7l1.2 0.4M482.3 101.6l1 0.6M479.4 98.4l-1.4 0.2M477.4 101l-1.8 0.4M478.8 99.2l-1 0.6M476.2 98.2l-1 0.9M480.8 103.2l0.3 1.7M480.1 103l-0 1.1M481.3 98.2l1.4 0.7M476.8 102.5l-0.9 0.4M479.1 98.3l0.9 0.2M480.9 101.5l2 0.2M476.8 95.1l0.6 1.7M479 94.9l1.1 0.6" fill="none" stroke="#a9b4a8" stroke-width=".5" opacity=".45" stroke-linecap="round"/>
<path d="M476 117C476.7 114.9 479.7 115.2 480.9 115.8C482.2 116.4 483.4 118.9 483.4 120.7C483.4 122.6 482.1 125.6 480.9 126.9C479.8 128.3 477.4 130.4 476.6 128.8C475.8 127.1 475.3 119.2 476 117Z" fill="#16262a" stroke="#79847f" stroke-width="0.75" stroke-linejoin="round" stroke-opacity=".72"/><path d="M476.5 119.5l-0.4 0.8M482.2 119.5l1 1.1M478.5 127.3l0.4 1.9M481.8 124.5l0.7 1.8M482 119.8l-0.1 1.5M478.1 117.1l1.6 1.5M479.9 121.2l0.5 0.8M479.2 125.9l-0.8 0.6M480.4 120.6l0.9 1.2M480.8 119.5l1.7 1.1M478.7 126.8l0.8 0.2M482.2 118.8l1.6 0.4M478.9 123.6l-1 0.5M479.7 124.6l-0.9 0.2M477.3 126.6l0.7 1M478.3 126.7l-1.6 0.3M478.2 122.7l0.7 1.1M480.1 120.3l-0.2 2.2M477.4 124.9l0.8 1M480.1 122.4l1.1 1.9M476.9 128.2l-1 1.3M478.2 126.3l-0.3 1.2M476.6 117.8l0.3 1.6" fill="none" stroke="#a9b4a8" stroke-width=".5" opacity=".45" stroke-linecap="round"/>
<ellipse cx="501.3" cy="121.4" rx="2.1" ry="3.6" transform="rotate(10 501.3 121.4)" fill="#33433c" stroke="#c6cfbc" stroke-width="0.85" opacity="1"/>
<path d="M488.3 149.1C486.4 147.9 488.2 143.7 489 141.7C489.7 139.8 491.2 138 492.7 137.4C494.1 136.8 496.4 137.1 497.6 138C498.8 139 499.6 141.1 500.1 143C500.6 144.8 502.6 148.1 500.7 149.1C498.7 150.2 490.3 150.4 488.3 149.1Z" fill="#122023" stroke="#79847f" stroke-width="0.8" stroke-linejoin="round" stroke-opacity=".72"/><path d="M490.8 148.5L493.3 141.7L497 139.3" fill="none" stroke="#79847f" stroke-width=".55" opacity=".7"/><path d="M495.5 144l-0.2 1.5M499.7 147.7l0.8 0.4M491.5 139.8l0.5 1.2M492 149l1.1 0.9M496.7 143.2l0.8 0.3M494.6 148.8l1.6 0.5M495.2 143.2l-0 1.2M488.8 148.4l-1.7 1.2M489.8 145.9l1.3 1.4M489.1 141.6l0.8 1.2M489.4 149l-1.6 1.5M491.8 139.8l0.2 1.6M494.4 142.8l1.8 0.4M488.8 146.6l-0.9 1M497.5 142.9l-0.6 1.3M493 143.3l-1.4 0.1M491.6 144.7l0.4 0.8M492.6 139.4l-1.1 1.1M489 145.8l-0.9 2M492.9 143.7l1.6 0M494.2 143.7l-1.8 1.2M497.2 146.7l0.8 0.5M492.4 138.7l-0.4 1.3M497.9 140.6l1 0.6M489.4 148.6l1.8 0.3M495.5 139.4l0.2 1M495.5 142.4l-1.4 1.1M499 148.3l0.6 1M497.4 148.8l1.3 0.2M498.6 143.6l0.4 0.9M495 144.2l-0.3 1.5M494.8 149l-0.8 1.3M496 139.1l-1.4 1.3M497.5 145.5l1.3 1.1M495 146.6l1.4 0.9M494.8 140.3l0.6 1.8M499.3 144.2l-1.8 0.6M494 148.9l1 1.7M497.8 148.4l-2 0.6M499.8 145.5l1.1 1.4M494.9 144.1l-1.1 1.5M489.4 144.8l-1.5 1.6" fill="none" stroke="#a9b4a8" stroke-width=".5" opacity=".45" stroke-linecap="round"/>
<path d="M500.7 149.1C499.3 148 500.7 144 501.3 142.3C501.9 140.7 503.3 139.3 504.4 139.3C505.5 139.3 507.2 140.7 508.1 142.3C509 144 511.2 148 510 149.1C508.7 150.3 502.1 150.3 500.7 149.1Z" fill="#122023" stroke="#6a7773" stroke-width="0.75" stroke-linejoin="round" stroke-opacity=".72"/><path d="M502.5 147.9L505 141.7" fill="none" stroke="#6a7773" stroke-width=".55" opacity=".7"/><path d="M507.7 147.8l-1.8 0.7M504.3 144.1l-0.7 2M507.2 148.9l1 1.4M508.1 147.7l0 1.6M507.6 142.6l-2.1 0.2M508.3 147.8l1.9 1M503.9 143.7l0.9 0.5M502.6 141.2l1.7 1.3M503.7 146.4l1.1 0.1M505.7 143.2l-1.5 0.7M503.5 142.3l-0.8 1.2M507.4 147.7l0.4 1M506.3 147.9l-0.5 1.6M508.7 144.6l-0.3 0.9M506 146.7l1.5 1.1M502.8 147.3l1.2 1.5M504.6 141.3l0.9 1.8M505.7 141.7l-1.2 1.6M502 143.5l-0.8 1.9M504.1 141l0.8 0.4" fill="none" stroke="#a9b4a8" stroke-width=".5" opacity=".45" stroke-linecap="round"/>
<ellipse cx="532.3" cy="128.4" rx="2.6" ry="2.4" fill="#1b2b2e" stroke="#c0cbbd" stroke-width="0.9" opacity="1"/>
<ellipse cx="529.4" cy="131.6" rx="2.6" ry="3" fill="#1f2f32" stroke="#b4c0b4" stroke-width="0.9" opacity="1"/>
<path d="M521.7 138C521.7 136.7 524.1 135.1 525.4 134.9C526.6 134.7 528.3 135.7 529.1 136.8C529.9 137.9 530.9 140.7 530.3 141.7C529.7 142.8 526.8 143.6 525.4 143C523.9 142.3 521.7 139.4 521.7 138Z" fill="#16262a" stroke="#6a7773" stroke-width="0.7" stroke-linejoin="round" stroke-opacity=".72"/><path d="M527.5 136.3l-0 1M527.4 142.3l1.7 1.2M526.1 141.6l-0.7 1M523.3 140.1l-1.4 0.9M527.8 136.5l1.5 1.2M524.1 136.1l-0.4 1.9M525.5 141.5l1.1 0.5M527.7 138.1l1.8 0.8M525.4 142.1l-0.6 1M523.3 137.9l1.1 1.7M528.8 140.2l1.4 1.6M523.7 136.5l2 0M528 138.9l1.3 0.2M525.5 135.7l-0.5 1M527.7 137.1l-2.1 0.5M526.6 136.2l-0.7 0.4M527 141.6l-1.9 0.3M525.4 141.8l-1.5 0.6" fill="none" stroke="#a9b4a8" stroke-width=".5" opacity=".45" stroke-linecap="round"/>
<path d="M438.5 95.1C436.9 94 440.3 90.3 441.6 89C443 87.6 445 86.9 446.6 87.1C448.1 87.3 450.1 88.8 450.9 90.2C451.7 91.6 453.6 94.9 451.5 95.8C449.4 96.6 440.2 96.3 438.5 95.1Z" fill="#16262a" stroke="#79847f" stroke-width="0.7" stroke-linejoin="round" stroke-opacity=".72"/><path d="M447.3 90.3l-0.2 1.9M444.3 94.5l1.5 0.5M449.2 90.7l0.7 1.5M446.1 87.9l0.3 0.8M446.3 88.3l-1 1.2M441.6 94.6l1.4 0.1M446.5 88.5l-0.7 1.1M443.5 95.3l-1.3 1.3M445.4 93.8l1.8 0.9M444.8 92.9l-1.1 1M442.8 94.7l1.7 0.9M448.4 92.6l-1.2 1.4M448.6 94l-0.6 0.8M449.4 95.4l1.5 1.3M447 90.6l-1.2 1.5M449.5 92.6l-0.8 1.6M448.3 89.3l0.9 1.5M444.2 93.8l1.5 0M447.1 88.9l0.8 0.8M445.2 90.6l-1.1 0.4M445.1 90.2l0.8 0.4M446.6 89l0.1 2.1M450.3 95.5l0.8 1.6M448.4 90.4l0.5 0.9M447.1 95.3l1 0.3M439 94.4l-0.6 0.8M449.1 95.6l-0.9 0.2M439.5 94l0.5 1.1M447 91.9l-0.4 1.9M440.9 94.9l0.3 1.7" fill="none" stroke="#a9b4a8" stroke-width=".5" opacity=".45" stroke-linecap="round"/>
</g>
<path d="M465.1 96C466.5 96 469.6 97.1 471.3 98.5C472.9 100 474.1 102.4 475 104.7C475.8 107 476.4 110 476.2 112.1C476 114.2 474.8 115.4 473.7 117C472.7 118.7 471.3 120.2 470 122C468.8 123.7 467.8 126.6 466.3 127.5C464.9 128.5 463 128.3 461.4 127.5C459.7 126.8 457.9 125 456.4 123.2C455 121.5 453.3 119.1 452.7 117C452.2 115 452.5 112.5 453.4 110.9C454.2 109.2 456.3 108.6 457.7 107.2C459 105.7 460.6 103.7 461.4 102.2C462.2 100.8 462 99.5 462.6 98.5C463.2 97.5 463.6 96 465.1 96Z" fill="#43545a" filter="url(#b12)" opacity=".5"/>
<g filter="url(#b3)">
<path d="M469.7 113.3m-2.2 0a2.2 2.2 0 1 0 4.3 0a2.2 2.2 0 1 0 -4.3 0M454.4 111.2m-2.2 0a2.2 2.2 0 1 0 4.3 0a2.2 2.2 0 1 0 -4.3 0M469.6 122.2m-2.3 0a2.3 2.3 0 1 0 4.5 0a2.3 2.3 0 1 0 -4.5 0M456.5 111.3m-2.1 0a2.1 2.1 0 1 0 4.2 0a2.1 2.1 0 1 0 -4.2 0M465.7 113.2m-2.2 0a2.2 2.2 0 1 0 4.5 0a2.2 2.2 0 1 0 -4.5 0M464.1 126.3m-2.2 0a2.2 2.2 0 1 0 4.3 0a2.2 2.2 0 1 0 -4.3 0M459.6 108.8m-2.3 0a2.3 2.3 0 1 0 4.6 0a2.3 2.3 0 1 0 -4.6 0M464.9 121.1m-2.3 0a2.3 2.3 0 1 0 4.6 0a2.3 2.3 0 1 0 -4.6 0M463.3 104.1m-2.3 0a2.3 2.3 0 1 0 4.6 0a2.3 2.3 0 1 0 -4.6 0M472.7 115.1m-2.1 0a2.1 2.1 0 1 0 4.2 0a2.1 2.1 0 1 0 -4.2 0M467.1 102.1m-2.1 0a2.1 2.1 0 1 0 4.2 0a2.1 2.1 0 1 0 -4.2 0M459.6 125.7m-2.3 0a2.3 2.3 0 1 0 4.6 0a2.3 2.3 0 1 0 -4.6 0M459.1 121.4m-2.3 0a2.3 2.3 0 1 0 4.6 0a2.3 2.3 0 1 0 -4.6 0M464.6 116.2m-2.1 0a2.1 2.1 0 1 0 4.2 0a2.1 2.1 0 1 0 -4.2 0M455.8 118.3m-2.3 0a2.3 2.3 0 1 0 4.7 0a2.3 2.3 0 1 0 -4.7 0M458.2 123.8m-2.3 0a2.3 2.3 0 1 0 4.7 0a2.3 2.3 0 1 0 -4.7 0M469 108.2m-2.2 0a2.2 2.2 0 1 0 4.5 0a2.2 2.2 0 1 0 -4.5 0M461.7 108.8m-2.2 0a2.2 2.2 0 1 0 4.5 0a2.2 2.2 0 1 0 -4.5 0M472.2 104.2m-2.2 0a2.2 2.2 0 1 0 4.4 0a2.2 2.2 0 1 0 -4.4 0M464.2 108m-2.3 0a2.3 2.3 0 1 0 4.7 0a2.3 2.3 0 1 0 -4.7 0M463.8 114.1m-2.4 0a2.4 2.4 0 1 0 4.7 0a2.4 2.4 0 1 0 -4.7 0M456 114.8m-2.1 0a2.1 2.1 0 1 0 4.2 0a2.1 2.1 0 1 0 -4.2 0M466.5 119.1m-2.1 0a2.1 2.1 0 1 0 4.2 0a2.1 2.1 0 1 0 -4.2 0M457.8 116.9m-2.3 0a2.3 2.3 0 1 0 4.6 0a2.3 2.3 0 1 0 -4.6 0M453.7 117.2m-2.2 0a2.2 2.2 0 1 0 4.4 0a2.2 2.2 0 1 0 -4.4 0M469.2 104.9m-2.3 0a2.3 2.3 0 1 0 4.5 0a2.3 2.3 0 1 0 -4.5 0M460.1 106.1m-2.1 0a2.1 2.1 0 1 0 4.1 0a2.1 2.1 0 1 0 -4.1 0M475.2 113.7m-2.4 0a2.4 2.4 0 1 0 4.8 0a2.4 2.4 0 1 0 -4.8 0M472.3 107.5m-2.2 0a2.2 2.2 0 1 0 4.3 0a2.2 2.2 0 1 0 -4.3 0M460.4 113m-2.3 0a2.3 2.3 0 1 0 4.6 0a2.3 2.3 0 1 0 -4.6 0M472.1 100.8m-2.2 0a2.2 2.2 0 1 0 4.3 0a2.2 2.2 0 1 0 -4.3 0M471.2 98.6m-2.2 0a2.2 2.2 0 1 0 4.3 0a2.2 2.2 0 1 0 -4.3 0M460.7 123.1m-2.2 0a2.2 2.2 0 1 0 4.4 0a2.2 2.2 0 1 0 -4.4 0M469.2 110.3m-2.3 0a2.3 2.3 0 1 0 4.6 0a2.3 2.3 0 1 0 -4.6 0M472.8 117.9m-2.3 0a2.3 2.3 0 1 0 4.6 0a2.3 2.3 0 1 0 -4.6 0M471.7 112.2m-2.1 0a2.1 2.1 0 1 0 4.2 0a2.1 2.1 0 1 0 -4.2 0M465.2 110m-2.3 0a2.3 2.3 0 1 0 4.6 0a2.3 2.3 0 1 0 -4.6 0M473.5 110.4m-2.4 0a2.4 2.4 0 1 0 4.7 0a2.4 2.4 0 1 0 -4.7 0M469.3 119m-2.1 0a2.1 2.1 0 1 0 4.3 0a2.1 2.1 0 1 0 -4.3 0M465.5 124m-2.4 0a2.4 2.4 0 1 0 4.7 0a2.4 2.4 0 1 0 -4.7 0M467.4 122.9m-2.1 0a2.1 2.1 0 1 0 4.3 0a2.1 2.1 0 1 0 -4.3 0M453.6 114.2m-2.1 0a2.1 2.1 0 1 0 4.1 0a2.1 2.1 0 1 0 -4.1 0M466.3 127.5m-2.3 0a2.3 2.3 0 1 0 4.5 0a2.3 2.3 0 1 0 -4.5 0M465.8 106.3m-2.3 0a2.3 2.3 0 1 0 4.5 0a2.3 2.3 0 1 0 -4.5 0M474.7 104.4m-2.3 0a2.3 2.3 0 1 0 4.6 0a2.3 2.3 0 1 0 -4.6 0M455.7 121m-2.2 0a2.2 2.2 0 1 0 4.4 0a2.2 2.2 0 1 0 -4.4 0M458.1 119.3m-2.1 0a2.1 2.1 0 1 0 4.3 0a2.1 2.1 0 1 0 -4.3 0M459.8 115.6m-2.4 0a2.4 2.4 0 1 0 4.8 0a2.4 2.4 0 1 0 -4.8 0M467.3 116.7m-2.4 0a2.4 2.4 0 1 0 4.7 0a2.4 2.4 0 1 0 -4.7 0M462.5 116.8m-2.3 0a2.3 2.3 0 1 0 4.5 0a2.3 2.3 0 1 0 -4.5 0M475.2 106.7m-2.3 0a2.3 2.3 0 1 0 4.7 0a2.3 2.3 0 1 0 -4.7 0M466.8 108.5m-2.4 0a2.4 2.4 0 1 0 4.7 0a2.4 2.4 0 1 0 -4.7 0M470.5 102.3m-2.3 0a2.3 2.3 0 1 0 4.7 0a2.3 2.3 0 1 0 -4.7 0M463.2 101m-2.2 0a2.2 2.2 0 1 0 4.5 0a2.2 2.2 0 1 0 -4.5 0M463.3 122.8m-2.3 0a2.3 2.3 0 1 0 4.7 0a2.3 2.3 0 1 0 -4.7 0M463.2 110.6m-2.3 0a2.3 2.3 0 1 0 4.6 0a2.3 2.3 0 1 0 -4.6 0M467.2 99.4m-2.2 0a2.2 2.2 0 1 0 4.4 0a2.2 2.2 0 1 0 -4.4 0M462 125.1m-2.2 0a2.2 2.2 0 1 0 4.4 0a2.2 2.2 0 1 0 -4.4 0M461.5 119.2m-2.1 0a2.1 2.1 0 1 0 4.1 0a2.1 2.1 0 1 0 -4.1 0M467.2 111.4m-2.2 0a2.2 2.2 0 1 0 4.4 0a2.2 2.2 0 1 0 -4.4 0M465.7 96.4m-2.2 0a2.2 2.2 0 1 0 4.4 0a2.2 2.2 0 1 0 -4.4 0M471.1 109.3m-2.1 0a2.1 2.1 0 1 0 4.3 0a2.1 2.1 0 1 0 -4.3 0M457.6 113.4m-2.4 0a2.4 2.4 0 1 0 4.8 0a2.4 2.4 0 1 0 -4.8 0M461.1 111m-2.3 0a2.3 2.3 0 1 0 4.5 0a2.3 2.3 0 1 0 -4.5 0M464 118.5m-2.2 0a2.2 2.2 0 1 0 4.4 0a2.2 2.2 0 1 0 -4.4 0M457.4 108.6m-2.3 0a2.3 2.3 0 1 0 4.7 0a2.3 2.3 0 1 0 -4.7 0M470.6 117.2m-2.1 0a2.1 2.1 0 1 0 4.2 0a2.1 2.1 0 1 0 -4.2 0M460.4 103.7m-2.4 0a2.4 2.4 0 1 0 4.8 0a2.4 2.4 0 1 0 -4.8 0M462.6 106.7m-2.2 0a2.2 2.2 0 1 0 4.5 0a2.2 2.2 0 1 0 -4.5 0M471.1 120.2m-2.4 0a2.4 2.4 0 1 0 4.7 0a2.4 2.4 0 1 0 -4.7 0M469.3 100.5m-2.1 0a2.1 2.1 0 1 0 4.1 0a2.1 2.1 0 1 0 -4.1 0M469.1 98.2m-2.2 0a2.2 2.2 0 1 0 4.4 0a2.2 2.2 0 1 0 -4.4 0M469.2 115.4m-2.4 0a2.4 2.4 0 1 0 4.7 0a2.4 2.4 0 1 0 -4.7 0M465.3 100.4m-2.3 0a2.3 2.3 0 1 0 4.5 0a2.3 2.3 0 1 0 -4.5 0M458.8 110.8m-2.4 0a2.4 2.4 0 1 0 4.7 0a2.4 2.4 0 1 0 -4.7 0M462.1 127.4m-2.2 0a2.2 2.2 0 1 0 4.4 0a2.2 2.2 0 1 0 -4.4 0M466.2 104.1m-2.1 0a2.1 2.1 0 1 0 4.3 0a2.1 2.1 0 1 0 -4.3 0M455.3 109.2m-2.3 0a2.3 2.3 0 1 0 4.6 0a2.3 2.3 0 1 0 -4.6 0" fill="#55655f"/>
<circle cx="469.7" cy="113.3" r="1.3" fill="#6c7a72" stroke="#b4baaa" stroke-width=".58"/>
<circle cx="454.4" cy="111.2" r="1.3" fill="#bdcbc3" stroke="#edf3e3" stroke-width=".58"/>
<circle cx="469.6" cy="122.2" r="1.4" fill="#98a69e" stroke="#d3d9c9" stroke-width=".58"/>
<circle cx="456.5" cy="111.3" r="1.2" fill="#a6b4ac" stroke="#dde3d3" stroke-width=".58"/>
<circle cx="465.7" cy="113.2" r="1.3" fill="#a1afa7" stroke="#d9dfcf" stroke-width=".58"/>
<circle cx="464.1" cy="126.3" r="1.3" fill="#9daba3" stroke="#d6dccc" stroke-width=".58"/>
<circle cx="459.6" cy="108.8" r="1.4" fill="#7a8880" stroke="#bdc3b3" stroke-width=".58"/>
<circle cx="464.9" cy="121.1" r="1.4" fill="#85938b" stroke="#c6ccbc" stroke-width=".58"/>
<circle cx="463.3" cy="104.1" r="1.4" fill="#7c8a82" stroke="#bfc5b5" stroke-width=".58"/>
<circle cx="472.7" cy="115.1" r="1.2" fill="#6b7971" stroke="#b3b9a9" stroke-width=".58"/>
<circle cx="467.1" cy="102.1" r="1.2" fill="#5b6961" stroke="#a8ae9e" stroke-width=".58"/>
<circle cx="459.6" cy="125.7" r="1.4" fill="#56645c" stroke="#a4aa9a" stroke-width=".58"/>
<circle cx="459.1" cy="121.4" r="1.4" fill="#57655d" stroke="#a5ab9b" stroke-width=".58"/>
<circle cx="464.6" cy="116.2" r="1.2" fill="#74827a" stroke="#bac0b0" stroke-width=".58"/>
<circle cx="455.8" cy="118.3" r="1.4" fill="#afbdb5" stroke="#e3e9d9" stroke-width=".58"/>
<circle cx="458.2" cy="123.8" r="1.4" fill="#a1afa7" stroke="#d9dfcf" stroke-width=".58"/>
<circle cx="469" cy="108.2" r="1.3" fill="#c8d6ce" stroke="#f4faea" stroke-width=".58"/>
<circle cx="461.7" cy="108.8" r="1.3" fill="#b4c2ba" stroke="#e6ecdc" stroke-width=".58"/>
<circle cx="472.2" cy="104.2" r="1.3" fill="#a3b1a9" stroke="#dbe1d1" stroke-width=".58"/>
<circle cx="464.2" cy="108" r="1.4" fill="#cbd9d1" stroke="#f4faea" stroke-width=".58"/>
<circle cx="463.8" cy="114.1" r="1.5" fill="#9caaa2" stroke="#d6dccc" stroke-width=".58"/>
<circle cx="456" cy="114.8" r="1.2" fill="#cbd9d1" stroke="#f4faea" stroke-width=".58"/>
<circle cx="466.5" cy="119.1" r="1.2" fill="#8a9890" stroke="#c9cfbf" stroke-width=".58"/>
<circle cx="457.8" cy="116.9" r="1.4" fill="#95a39b" stroke="#d1d7c7" stroke-width=".58"/>
<circle cx="453.7" cy="117.2" r="1.3" fill="#cbd9d1" stroke="#f4faea" stroke-width=".58"/>
<circle cx="469.2" cy="104.9" r="1.4" fill="#76847c" stroke="#bbc1b1" stroke-width=".58"/>
<circle cx="460.1" cy="106.1" r="1.2" fill="#aab8b0" stroke="#dfe5d5" stroke-width=".58"/>
<circle cx="475.2" cy="113.7" r="1.5" fill="#717f77" stroke="#b7bdad" stroke-width=".58"/>
<circle cx="472.3" cy="107.5" r="1.3" fill="#9daba3" stroke="#d6dccc" stroke-width=".58"/>
<circle cx="460.4" cy="113" r="1.4" fill="#b1bfb7" stroke="#e4eada" stroke-width=".58"/>
<circle cx="472.1" cy="100.8" r="1.3" fill="#64726a" stroke="#aeb4a4" stroke-width=".58"/>
<circle cx="471.2" cy="98.6" r="1.3" fill="#68766e" stroke="#b1b7a7" stroke-width=".58"/>
<circle cx="460.7" cy="123.1" r="1.3" fill="#5b6961" stroke="#a8ae9e" stroke-width=".58"/>
<circle cx="469.2" cy="110.3" r="1.4" fill="#97a59d" stroke="#d2d8c8" stroke-width=".58"/>
<circle cx="472.8" cy="117.9" r="1.4" fill="#56645c" stroke="#a4aa9a" stroke-width=".58"/>
<circle cx="471.7" cy="112.2" r="1.2" fill="#94a29a" stroke="#d0d6c6" stroke-width=".58"/>
<circle cx="465.2" cy="110" r="1.4" fill="#7d8b83" stroke="#c0c6b6" stroke-width=".58"/>
<circle cx="473.5" cy="110.4" r="1.5" fill="#87958d" stroke="#c7cdbd" stroke-width=".58"/>
<circle cx="469.3" cy="119" r="1.2" fill="#8a9890" stroke="#c9cfbf" stroke-width=".58"/>
<circle cx="465.5" cy="124" r="1.5" fill="#8f9d95" stroke="#cdd3c3" stroke-width=".58"/>
<circle cx="467.4" cy="122.9" r="1.2" fill="#909e96" stroke="#cdd3c3" stroke-width=".58"/>
<circle cx="453.6" cy="114.2" r="1.2" fill="#9fada5" stroke="#d8dece" stroke-width=".58"/>
<circle cx="466.3" cy="127.5" r="1.4" fill="#68766e" stroke="#b1b7a7" stroke-width=".58"/>
<circle cx="465.8" cy="106.3" r="1.4" fill="#7b8981" stroke="#bec4b4" stroke-width=".58"/>
<circle cx="474.7" cy="104.4" r="1.4" fill="#839189" stroke="#c4caba" stroke-width=".58"/>
<circle cx="455.7" cy="121" r="1.3" fill="#75837b" stroke="#bac0b0" stroke-width=".58"/>
<circle cx="458.1" cy="119.3" r="1.2" fill="#c3d1c9" stroke="#f1f7e7" stroke-width=".58"/>
<circle cx="459.8" cy="115.6" r="1.5" fill="#87958d" stroke="#c6ccbc" stroke-width=".58"/>
<circle cx="467.3" cy="116.7" r="1.5" fill="#3d4b43" stroke="#939989" stroke-width=".58"/>
<circle cx="462.5" cy="116.8" r="1.4" fill="#9fada5" stroke="#d8dece" stroke-width=".58"/>
<circle cx="475.2" cy="106.7" r="1.4" fill="#839189" stroke="#c4caba" stroke-width=".58"/>
<circle cx="466.8" cy="108.5" r="1.5" fill="#839189" stroke="#c4caba" stroke-width=".58"/>
<circle cx="470.5" cy="102.3" r="1.4" fill="#9ba9a1" stroke="#d5dbcb" stroke-width=".58"/>
<circle cx="463.2" cy="101" r="1.3" fill="#95a39b" stroke="#d0d6c6" stroke-width=".58"/>
<circle cx="463.3" cy="122.8" r="1.4" fill="#5f6d65" stroke="#abb1a1" stroke-width=".58"/>
<circle cx="463.2" cy="110.6" r="1.4" fill="#88968e" stroke="#c7cdbd" stroke-width=".58"/>
<circle cx="467.2" cy="99.4" r="1.3" fill="#35433b" stroke="#8d9383" stroke-width=".58"/>
<circle cx="462" cy="125.1" r="1.3" fill="#6d7b73" stroke="#b4baaa" stroke-width=".58"/>
<circle cx="461.5" cy="119.2" r="1.2" fill="#5a6860" stroke="#a7ad9d" stroke-width=".58"/>
<circle cx="467.2" cy="111.4" r="1.3" fill="#9daba3" stroke="#d6dccc" stroke-width=".58"/>
<circle cx="465.7" cy="96.4" r="1.3" fill="#47554d" stroke="#9aa090" stroke-width=".58"/>
<circle cx="471.1" cy="109.3" r="1.2" fill="#99a79f" stroke="#d4daca" stroke-width=".58"/>
<circle cx="457.6" cy="113.4" r="1.5" fill="#adbbb3" stroke="#e2e8d8" stroke-width=".58"/>
<circle cx="461.1" cy="111" r="1.4" fill="#7d8b83" stroke="#c0c6b6" stroke-width=".58"/>
<circle cx="464" cy="118.5" r="1.3" fill="#5e6c64" stroke="#aab0a0" stroke-width=".58"/>
<circle cx="457.4" cy="108.6" r="1.4" fill="#c3d1c9" stroke="#f1f7e7" stroke-width=".58"/>
<circle cx="470.6" cy="117.2" r="1.2" fill="#a2b0a8" stroke="#dae0d0" stroke-width=".58"/>
<circle cx="460.4" cy="103.7" r="1.5" fill="#8b9991" stroke="#c9cfbf" stroke-width=".58"/>
<circle cx="462.6" cy="106.7" r="1.3" fill="#abb9b1" stroke="#e0e6d6" stroke-width=".58"/>
<circle cx="471.1" cy="120.2" r="1.5" fill="#65736b" stroke="#afb5a5" stroke-width=".58"/>
<circle cx="469.3" cy="100.5" r="1.2" fill="#7e8c84" stroke="#c1c7b7" stroke-width=".58"/>
<circle cx="469.1" cy="98.2" r="1.3" fill="#59675f" stroke="#a6ac9c" stroke-width=".58"/>
<circle cx="469.2" cy="115.4" r="1.5" fill="#637169" stroke="#aeb4a4" stroke-width=".58"/>
<circle cx="465.3" cy="100.4" r="1.4" fill="#35433b" stroke="#8d9383" stroke-width=".58"/>
<circle cx="458.8" cy="110.8" r="1.5" fill="#cad8d0" stroke="#f4faea" stroke-width=".58"/>
<circle cx="462.1" cy="127.4" r="1.3" fill="#a3b1a9" stroke="#dae0d0" stroke-width=".58"/>
<circle cx="466.2" cy="104.1" r="1.2" fill="#77857d" stroke="#bcc2b2" stroke-width=".58"/>
<circle cx="455.3" cy="109.2" r="1.4" fill="#93a199" stroke="#cfd5c5" stroke-width=".58"/>
<circle cx="463.5" cy="104.2" r=".5" fill="#38484a" opacity=".8"/>
<circle cx="460.6" cy="110.7" r=".5" fill="#38484a" opacity=".8"/>
<circle cx="459.7" cy="115.5" r=".5" fill="#38484a" opacity=".8"/>
<circle cx="458.8" cy="121.9" r=".5" fill="#38484a" opacity=".8"/>
<circle cx="469.5" cy="122.7" r=".5" fill="#38484a" opacity=".8"/>
<circle cx="462.1" cy="119" r=".5" fill="#38484a" opacity=".8"/>
<circle cx="469" cy="108.4" r=".5" fill="#38484a" opacity=".8"/>
<circle cx="472.7" cy="114.8" r=".5" fill="#38484a" opacity=".8"/>
<circle cx="466.3" cy="106.2" r=".5" fill="#38484a" opacity=".8"/>
<circle cx="469.5" cy="98.8" r=".5" fill="#38484a" opacity=".8"/>
<circle cx="462.8" cy="106.3" r=".5" fill="#38484a" opacity=".8"/>
<circle cx="466.6" cy="127.8" r=".5" fill="#38484a" opacity=".8"/>
<circle cx="458.7" cy="123.3" r=".5" fill="#38484a" opacity=".8"/>
<circle cx="470.7" cy="116.9" r=".5" fill="#38484a" opacity=".8"/>
<circle cx="455.7" cy="117.9" r=".5" fill="#38484a" opacity=".8"/>
<circle cx="472" cy="103.8" r=".5" fill="#38484a" opacity=".8"/>
<circle cx="453.3" cy="117.3" r=".5" fill="#38484a" opacity=".8"/>
<circle cx="472.5" cy="117.6" r=".5" fill="#38484a" opacity=".8"/>
<circle cx="473.1" cy="117.6" r=".5" fill="#38484a" opacity=".8"/>
<circle cx="464.5" cy="116.2" r=".5" fill="#38484a" opacity=".8"/>
<circle cx="471.6" cy="111.9" r=".5" fill="#38484a" opacity=".8"/>
<circle cx="455.3" cy="109.1" r=".5" fill="#38484a" opacity=".8"/>
<circle cx="457.7" cy="108.9" r=".5" fill="#38484a" opacity=".8"/>
<circle cx="473.5" cy="111" r=".5" fill="#38484a" opacity=".8"/>
<circle cx="468" cy="122.6" r=".5" fill="#38484a" opacity=".8"/>
<circle cx="465.2" cy="110.5" r=".5" fill="#38484a" opacity=".8"/>
<circle cx="469.3" cy="115.1" r=".5" fill="#38484a" opacity=".8"/>
<circle cx="469.8" cy="100.7" r=".5" fill="#38484a" opacity=".8"/>
<circle cx="465.4" cy="124.2" r=".5" fill="#38484a" opacity=".8"/>
<circle cx="458.8" cy="111" r=".5" fill="#38484a" opacity=".8"/>
<circle cx="467.8" cy="116.6" r=".5" fill="#38484a" opacity=".8"/>
<circle cx="453.5" cy="117.1" r=".5" fill="#38484a" opacity=".8"/>
<circle cx="463.7" cy="126.2" r=".5" fill="#38484a" opacity=".8"/>
<circle cx="462.5" cy="106.7" r=".5" fill="#38484a" opacity=".8"/>
<circle cx="462" cy="106.7" r=".5" fill="#38484a" opacity=".8"/>
</g>
<rect x="544" y="27" width="1.7" height="123.5" fill="#26444c" opacity=".75"/>
<rect x="528.2" y="141.4" width="14" height="7.4" fill="#f6f8f6"/><path d="M528.8 142h12.8" stroke="#2a3034" stroke-width="1.3" stroke-dasharray="2.3 1.3"/><text x="535.2" y="147.3" font-size="4.7" text-anchor="middle" fill="#3a3a3a" opacity=".98" filter="url(#b0)">10 µm</text>
</g></g>
<g id="pc">
<text x="1.9" y="216.8" class="pl">c</text>
<rect x="59.2" y="392.5" width="11.8" height="18.3" fill="#9d21ae" stroke="#84179a" stroke-width=".6"/>
<rect x="77.1" y="382" width="11.8" height="28.8" fill="#9d21ae" stroke="#84179a" stroke-width=".6"/>
<rect x="94.9" y="369.7" width="11.8" height="41.1" fill="#9d21ae" stroke="#84179a" stroke-width=".6"/>
<rect x="112.8" y="361.3" width="11.8" height="49.5" fill="#9d21ae" stroke="#84179a" stroke-width=".6"/>
<rect x="130.6" y="346" width="11.8" height="64.8" fill="#9d21ae" stroke="#84179a" stroke-width=".6"/>
<rect x="148.5" y="295.7" width="11.8" height="115.1" fill="#9d21ae" stroke="#84179a" stroke-width=".6"/>
<rect x="166.4" y="273.4" width="11.8" height="137.4" fill="#9d21ae" stroke="#84179a" stroke-width=".6"/>
<rect x="184.2" y="234.8" width="11.8" height="176" fill="#9d21ae" stroke="#84179a" stroke-width=".6"/>
<rect x="202.3" y="391.1" width="11.4" height="19.7" fill="#9ebee6" stroke="#8496ab" stroke-width=".7"/>
<rect x="219.9" y="393.5" width="11.8" height="7.2" fill="#4c2a9d" stroke="#43258f" stroke-width=".6"/>
<rect x="220.1" y="400.7" width="11.4" height="10.1" fill="#9ebee6" stroke="#8496ab" stroke-width=".7"/>
<rect x="237.8" y="388.8" width="11.8" height="13.7" fill="#4c2a9d" stroke="#43258f" stroke-width=".6"/>
<rect x="238" y="402.5" width="11.4" height="8.3" fill="#9ebee6" stroke="#8496ab" stroke-width=".7"/>
<rect x="255.7" y="370.3" width="11.8" height="18.1" fill="#4c2a9d" stroke="#43258f" stroke-width=".6"/>
<rect x="255.9" y="388.4" width="11.4" height="22.4" fill="#9ebee6" stroke="#8496ab" stroke-width=".7"/>
<rect x="273.5" y="366" width="11.8" height="21.6" fill="#4c2a9d" stroke="#43258f" stroke-width=".6"/>
<rect x="273.7" y="387.6" width="11.4" height="23.2" fill="#9ebee6" stroke="#8496ab" stroke-width=".7"/>
<rect x="291.4" y="344.9" width="11.8" height="54.3" fill="#4c2a9d" stroke="#43258f" stroke-width=".6"/>
<rect x="291.6" y="399.2" width="11.4" height="11.6" fill="#9ebee6" stroke="#8496ab" stroke-width=".7"/>
<rect x="309.2" y="316.8" width="11.8" height="82.4" fill="#4c2a9d" stroke="#43258f" stroke-width=".6"/>
<rect x="309.4" y="399.2" width="11.4" height="11.6" fill="#9ebee6" stroke="#8496ab" stroke-width=".7"/>
<rect x="327.1" y="279.9" width="11.8" height="120.8" fill="#4c2a9d" stroke="#43258f" stroke-width=".6"/>
<rect x="327.3" y="400.7" width="11.4" height="10.1" fill="#9ebee6" stroke="#8496ab" stroke-width=".7"/>
<clipPath id="barclip"><rect x="60.2" y="394" width="9.8" height="16.3"/><rect x="78.1" y="383.5" width="9.8" height="26.8"/><rect x="95.9" y="371.2" width="9.8" height="39.1"/><rect x="113.8" y="362.8" width="9.8" height="47.5"/><rect x="131.6" y="347.5" width="9.8" height="62.8"/><rect x="149.5" y="297.2" width="9.8" height="113.1"/><rect x="167.4" y="274.9" width="9.8" height="135.4"/><rect x="185.2" y="236.3" width="9.8" height="174"/><rect x="203.1" y="392.6" width="9.8" height="17.7"/><rect x="220.9" y="395" width="9.8" height="15.3"/><rect x="238.8" y="390.3" width="9.8" height="20"/><rect x="256.7" y="371.8" width="9.8" height="38.5"/><rect x="274.5" y="367.5" width="9.8" height="42.8"/><rect x="292.4" y="346.4" width="9.8" height="63.9"/><rect x="310.2" y="318.3" width="9.8" height="92"/><rect x="328.1" y="281.4" width="9.8" height="128.9"/></clipPath>
<rect x="58" y="230" width="284" height="181" fill="url(#dots)" clip-path="url(#barclip)"/>
<path d="M47.2 223V411.8" stroke="#000" stroke-width="2.2"/>
<path d="M43.2 411H49.6M43.2 384.3H49.6M43.2 357.7H49.6M43.2 331H49.6M43.2 304.3H49.6M43.2 277.7H49.6M43.2 251H49.6M43.2 224.3H49.6" stroke="#000" stroke-width="1.7"/>
<path d="M55.4 420.6H343" stroke="#000" stroke-width="2.2"/>
<path d="M65.1 417.3V424.2M83 417.3V424.2M100.8 417.3V424.2M118.7 417.3V424.2M136.5 417.3V424.2M154.4 417.3V424.2M172.3 417.3V424.2M190.1 417.3V424.2M208 417.3V424.2M225.8 417.3V424.2M243.7 417.3V424.2M261.6 417.3V424.2M279.4 417.3V424.2M297.3 417.3V424.2M315.1 417.3V424.2M333 417.3V424.2" stroke="#000" stroke-width="1.7"/>
<text transform="translate(42.3 414.9) scale(.93 1)" text-anchor="end" class="tb">0</text>
<text transform="translate(42.3 388.2) scale(.93 1)" text-anchor="end" class="tb">20</text>
<text transform="translate(42.3 361.6) scale(.93 1)" text-anchor="end" class="tb">40</text>
<text transform="translate(42.3 334.9) scale(.93 1)" text-anchor="end" class="tb">60</text>
<text transform="translate(42.3 308.2) scale(.93 1)" text-anchor="end" class="tb">80</text>
<text transform="translate(42.3 281.6) scale(.93 1)" text-anchor="end" class="tb">100</text>
<text transform="translate(42.3 254.9) scale(.93 1)" text-anchor="end" class="tb">120</text>
<text transform="translate(42.3 228.2) scale(.93 1)" text-anchor="end" class="tb">140</text>
<text transform="translate(65.1 434.9) scale(.93 1)" text-anchor="middle" class="tb">0</text>
<text transform="translate(83 434.9) scale(.93 1)" text-anchor="middle" class="tb">1</text>
<text transform="translate(100.8 434.9) scale(.93 1)" text-anchor="middle" class="tb">2</text>
<text transform="translate(118.7 434.9) scale(.93 1)" text-anchor="middle" class="tb">3</text>
<text transform="translate(136.5 434.9) scale(.93 1)" text-anchor="middle" class="tb">4</text>
<text transform="translate(154.4 434.9) scale(.93 1)" text-anchor="middle" class="tb">5</text>
<text transform="translate(172.3 434.9) scale(.93 1)" text-anchor="middle" class="tb">6</text>
<text transform="translate(190.1 434.9) scale(.93 1)" text-anchor="middle" class="tb">7</text>
<text transform="translate(208 434.9) scale(.93 1)" text-anchor="middle" class="tb">0</text>
<text transform="translate(225.8 434.9) scale(.93 1)" text-anchor="middle" class="tb">1</text>
<text transform="translate(243.7 434.9) scale(.93 1)" text-anchor="middle" class="tb">2</text>
<text transform="translate(261.6 434.9) scale(.93 1)" text-anchor="middle" class="tb">3</text>
<text transform="translate(279.4 434.9) scale(.93 1)" text-anchor="middle" class="tb">4</text>
<text transform="translate(297.3 434.9) scale(.93 1)" text-anchor="middle" class="tb">5</text>
<text transform="translate(315.1 434.9) scale(.93 1)" text-anchor="middle" class="tb">6</text>
<text transform="translate(333 434.9) scale(.93 1)" text-anchor="middle" class="tb">7</text>
<text x="186" y="456.6" font-size="14" font-weight="bold">Day</text>
<text transform="translate(15.4 388.2) rotate(-90) scale(1.085 1)" font-size="13" font-weight="bold">Number of cells (x10<tspan font-size="9.6" dy="-6.4">4</tspan><tspan dy="6.4">)</tspan></text>
</g>
<g id="pd">
<text x="365.5" y="216.7" class="pl">d</text>
<path d="M408 388.6L412 388L416 386L420 381L424 371L427 358L430 340L432.3 325L434 308L435.5 290L436.6 270L437.6 252L438.8 247L440.4 240.4L441.4 248L442.9 260.3L444.2 282L445.5 300L447.3 325L449 345L451 362L453 375L455 383L457.5 387L461 388.3L470 388.6Z" fill="#4b4b4d"/>
<path d="M386 388.4L398 388L404 387.6L408 386.8L411 385L414 382L417 380.3L420 378.8L422 375.5L424 370L426 363L428 355L430 346L432 337L433.5 331L435 325L437.6 309.7L439 300L440 292L441.2 283.2L442.5 278L443.8 269.1L445.6 256.7L446.4 259.5L447.3 260.3L448.2 256L449.1 257.6L450 261L450.9 262L452 257L453.5 258.5L454.6 266L456.2 271.7L457.5 270L459.7 267.3L461 272L462.3 275.3L464.1 273.5L465.5 277L466.7 277.9L468.5 277L470 280L471.1 281.4L472 275L472.9 267.3L474.3 255.9L475.4 262L476.4 269.1L477.3 275L478.2 277.9L480 275.3L480.9 281L481.7 286.7L482.6 294L483.5 300.8L485.3 298.2L486.5 304L487.9 309.7L490.4 312.5L491.4 319L492.3 325L492.6 331.7L494 337L495.5 343L497.8 348.7L499 355L501 363.5L503 371L504.8 376.5L506.3 380.4L509 384.5L512.6 386.8L518 388L530 388.5L540 388.2L547.4 388" fill="none" stroke="#3434a0" stroke-width="1.1" stroke-linejoin="round"/>
<path d="M386 388.5L400 388.3L408 388L412 387.2L416 385.5L419 383L421.5 379L423.5 374L425.5 367L427.5 359L429.5 350L431.5 341L433.5 333L436.8 325L438.5 311L440 298L442 283.2L443.3 275L444.7 267.3L446.5 258.5L448.2 249.7L449.1 256.7L451.7 260.3L454.4 265.6L455.7 271L457 277.9L458.8 286.7L461.4 292.9L464.1 297.3L466.7 301.7L471.1 301.7L472.9 306.1L476.4 311.4L479.1 320.2L481.7 323.8L483.5 329L486.2 335L487.8 342L489.3 350.8L491 357L492.5 363.5L494.5 370L496.7 376.2L499.5 381.5L504.1 386.3L507 387.8" fill="none" stroke="#3030a0" stroke-width="1.15" stroke-dasharray="6 4.5" stroke-dashoffset="3"/>
<rect x="385.6" y="227.4" width="162" height="161.5" fill="none" stroke="#222" stroke-width="1"/>
<path d="M401.5 389v4M420.5 389v4M458.6 389v4M495.4 389v4M531.8 389v4M432 389v2.2M438.7 389v2.2M443.4 389v2.2M447.1 389v2.2M450.1 389v2.2M452.7 389v2.2M454.9 389v2.2M456.9 389v2.2M469.7 389v2.2M476.2 389v2.2M480.8 389v2.2M484.3 389v2.2M487.2 389v2.2M489.7 389v2.2M491.8 389v2.2M493.7 389v2.2M506.4 389v2.2M512.8 389v2.2M517.3 389v2.2M520.8 389v2.2M523.7 389v2.2M526.2 389v2.2M528.3 389v2.2M530.1 389v2.2M542.8 389v2.2M403.6 389v2M399.8 389v2M405.7 389v2M398.1 389v2M407.8 389v2M396.4 389v2M409.9 389v2M394.7 389v2M412 389v2M393 389v2M414.1 389v2M391.3 389v2M416.2 389v2M389.6 389v2M418.3 389v2M387.9 389v2" stroke="#222" stroke-width=".6"/>
<text x="379.4" y="389.1" font-size="7.4" font-weight="bold" text-anchor="end">0</text>
<text x="395.6" y="409.8" class="td">0</text>
<text x="415.6" y="409.8" class="td">10<tspan font-size="7" dy="-4.6">2</tspan></text>
<text x="454.2" y="409.8" class="td">10<tspan font-size="7" dy="-4.6">3</tspan></text>
<text x="491.6" y="409.8" class="td">10<tspan font-size="7" dy="-4.6">4</tspan></text>
<text x="528.2" y="409.8" class="td">10<tspan font-size="7" dy="-4.6">5</tspan></text>
<path d="M388.2 424.1H530.5V419L545 426.3L530.5 433.6V428.5H388.2Z" fill="#000"/>
<text x="431.2" y="454.4" font-size="18">CD 133.1</text>
</g>
<g id="pe">
<text x="1.2" y="486" class="pl">e</text>
<path d="M68.3 601.1L70 598L71.4 593.8L73 590L74.6 589L76.2 589L77.8 590L79.4 592L81 593.8L82.6 595L84.1 595.4L85.7 594.5L87.3 592.2L88.9 587L90.5 581.1L92 576L93.7 571.6L94.5 566L95.2 558.9L96 550L96.8 539.8L97.6 530L98.4 520.8L99.2 523.5L100 524L100.8 517L101.5 510L102.2 506.5L103.1 510L104.1 512.9L104.8 510.5L105.4 509.7L106.2 514L107 520L107.9 527.1L108.7 535L109.5 543L110.6 553L111.7 562.1L113 570.5L114.3 577.9L115.9 585L117.5 590.6L119.8 594.5L122.2 597L124.6 599L127 600.2L133.3 601.1Z" fill="#c8e98e" stroke="#6fa53e" stroke-width=".75"/>
<path d="M69.2 601.1L72 597L74.6 590.6L77 580L79.4 565.2L80.7 550L81.9 533.5L83 522L84.1 514.4L85.7 507.5L87 509L88.3 514.4L89.4 526L90.5 536.7L92 548L93.7 558.9L95.2 569L96.8 577.9L98.4 585L100 590.6L102.4 594.5L104.8 597L108 599L111.1 600.2L120.6 601.1" fill="none" stroke="#383838" stroke-width=".72" stroke-linejoin="round"/>
<rect x="63.5" y="497.9" width="103.8" height="103.2" fill="none" stroke="#444" stroke-width=".9"/>
<path d="M63.5 601.1v2M71.3 601.1v1.2M75.9 601.1v1.2M79.1 601.1v1.2M81.6 601.1v1.2M83.7 601.1v1.2M85.4 601.1v1.2M86.9 601.1v1.2M88.3 601.1v1.2M89.5 601.1v2M97.3 601.1v1.2M101.8 601.1v1.2M105.1 601.1v1.2M107.6 601.1v1.2M109.6 601.1v1.2M111.4 601.1v1.2M112.9 601.1v1.2M114.2 601.1v1.2M115.4 601.1v2M123.2 601.1v1.2M127.8 601.1v1.2M131 601.1v1.2M133.5 601.1v1.2M135.6 601.1v1.2M137.3 601.1v1.2M138.8 601.1v1.2M140.2 601.1v1.2M141.4 601.1v2M149.2 601.1v1.2M153.7 601.1v1.2M157 601.1v1.2M159.5 601.1v1.2M161.5 601.1v1.2M163.3 601.1v1.2M164.8 601.1v1.2M166.1 601.1v1.2M63.5 601.1h-2M63.5 595.9h-1.1M63.5 590.8h-1.1M63.5 585.6h-1.1M63.5 580.5h-2M63.5 575.3h-1.1M63.5 570.1h-1.1M63.5 565h-1.1M63.5 559.8h-2M63.5 554.7h-1.1M63.5 549.5h-1.1M63.5 544.3h-1.1M63.5 539.2h-2M63.5 534h-1.1M63.5 528.9h-1.1M63.5 523.7h-1.1M63.5 518.5h-2M63.5 513.4h-1.1M63.5 508.2h-1.1M63.5 503.1h-1.1M63.5 497.9h-2" stroke="#555" stroke-width=".5"/>
<text x="60.5" y="602.8" class="te" text-anchor="end">0</text>
<text x="60.5" y="582.2" class="te" text-anchor="end">20</text>
<text x="60.5" y="561.5" class="te" text-anchor="end">40</text>
<text x="60.5" y="540.9" class="te" text-anchor="end">60</text>
<text x="60.5" y="520.2" class="te" text-anchor="end">80</text>
<text x="60.5" y="499.6" class="te" text-anchor="end">100</text>
<text x="64.1" y="611.5" class="te" text-anchor="middle">10<tspan font-size="4" dy="-2.4">0</tspan></text>
<text x="90" y="611.5" class="te" text-anchor="middle">10<tspan font-size="4" dy="-2.4">1</tspan></text>
<text x="116" y="611.5" class="te" text-anchor="middle">10<tspan font-size="4" dy="-2.4">2</tspan></text>
<text x="142" y="611.5" class="te" text-anchor="middle">10<tspan font-size="4" dy="-2.4">3</tspan></text>
<text x="108.8" y="517.5" font-size="15.6">MB3W1</text>
<path d="M213.2 601.7L216.5 599.8L219.4 597.3L221.3 594.6L223.1 591.1L224.7 586L226.3 578.8L227.6 570L228.8 559L230.5 556.5L231.4 548L232.2 539.3L233.5 531L234.7 524.4L235.7 518L236.7 512.1L237.9 511.6L238.5 514L239.1 517L240.9 519.5L241.6 527L242.3 536.8L243.2 548L244.1 559L245 569L246 578.8L247.2 586L248.5 592.3L250 596L251.5 598.5L253.3 600L255.2 601L258.9 601.7Z" fill="#c8e98e" stroke="#6fa53e" stroke-width=".75"/>
<path d="M205.8 601.7L209 599.8L212 597.3L214 595.5L215.7 593.6L217 590L218.1 583.7L219.4 575L220.6 564L221.9 552L223.1 539.3L224.4 529L225.6 519.5L226.5 514L227.3 510.9L228.8 510.4L229.5 513L230 517L230.9 526L231.7 536.8L232.7 546L233.7 554.1L235 564L236.2 573.8L237.4 582L238.6 588.6L240 594L241.6 597.3L243.4 599.3L245.3 600.5L250.2 601.7" fill="none" stroke="#383838" stroke-width=".72" stroke-linejoin="round"/>
<rect x="198.4" y="498" width="104.9" height="103.7" fill="none" stroke="#444" stroke-width=".9"/>
<path d="M198.4 601.7v2M206.3 601.7v1.2M210.9 601.7v1.2M214.2 601.7v1.2M216.7 601.7v1.2M218.8 601.7v1.2M220.6 601.7v1.2M222.1 601.7v1.2M223.4 601.7v1.2M224.6 601.7v2M232.5 601.7v1.2M237.1 601.7v1.2M240.4 601.7v1.2M243 601.7v1.2M245 601.7v1.2M246.8 601.7v1.2M248.3 601.7v1.2M249.7 601.7v1.2M250.9 601.7v2M258.7 601.7v1.2M263.4 601.7v1.2M266.6 601.7v1.2M269.2 601.7v1.2M271.3 601.7v1.2M273 601.7v1.2M274.5 601.7v1.2M275.9 601.7v1.2M277.1 601.7v2M285 601.7v1.2M289.6 601.7v1.2M292.9 601.7v1.2M295.4 601.7v1.2M297.5 601.7v1.2M299.2 601.7v1.2M300.8 601.7v1.2M302.1 601.7v1.2M198.4 601.7h-2M198.4 596.5h-1.1M198.4 591.3h-1.1M198.4 586.1h-1.1M198.4 581h-2M198.4 575.8h-1.1M198.4 570.6h-1.1M198.4 565.4h-1.1M198.4 560.2h-2M198.4 555h-1.1M198.4 549.9h-1.1M198.4 544.7h-1.1M198.4 539.5h-2M198.4 534.3h-1.1M198.4 529.1h-1.1M198.4 523.9h-1.1M198.4 518.7h-2M198.4 513.6h-1.1M198.4 508.4h-1.1M198.4 503.2h-1.1M198.4 498h-2" stroke="#555" stroke-width=".5"/>
<text x="195.4" y="603.4" class="te" text-anchor="end">0</text>
<text x="195.4" y="582.7" class="te" text-anchor="end">20</text>
<text x="195.4" y="561.9" class="te" text-anchor="end">40</text>
<text x="195.4" y="541.2" class="te" text-anchor="end">60</text>
<text x="195.4" y="520.4" class="te" text-anchor="end">80</text>
<text x="195.4" y="499.7" class="te" text-anchor="end">100</text>
<text x="199" y="611.5" class="te" text-anchor="middle">10<tspan font-size="4" dy="-2.4">0</tspan></text>
<text x="225.2" y="611.5" class="te" text-anchor="middle">10<tspan font-size="4" dy="-2.4">1</tspan></text>
<text x="251.5" y="611.5" class="te" text-anchor="middle">10<tspan font-size="4" dy="-2.4">2</tspan></text>
<text x="277.7" y="611.5" class="te" text-anchor="middle">10<tspan font-size="4" dy="-2.4">3</tspan></text>
<text x="268" y="517.5" font-size="15.6">R28</text>
<path d="M328.4 600.5L330.2 598L332.1 594.8L334 590.5L335.8 586.2L337 583L338.3 578.8L339.5 573L340.7 565.2L342 559L343.2 554.1L343.8 547L344.4 539.3L345.4 536.5L346.4 534.3L347 528L347.7 522L348.2 516L348.6 510.9L349.6 503L350.1 507L350.6 510.9L351.9 512.1L352.5 516L353.1 520.7L354.8 524.4L355.5 534L356.3 544.2L357.1 554L358 564L359.2 573L360.5 581.2L362 588L363.7 593.6L365.7 597L367.9 599.3L371.6 600.5Z" fill="#c8e98e" stroke="#6fa53e" stroke-width=".75"/>
<path d="M327.2 600.5L329 598L330.9 593.6L332.1 588L333.3 581.2L334.5 573L335.8 564L337 554L338.3 544.2L339.5 534L340.7 524.4L342 517.5L343.2 513.3L344.5 513.3L345.7 514.6L346.6 518.5L347.4 524.4L348.2 532L348.9 541.7L349.8 552L350.6 561.5L351.8 572L353.1 581.2L354.6 588L356.3 593.6L358.3 597L360.5 599L366.7 600.5" fill="none" stroke="#383838" stroke-width=".72" stroke-linejoin="round"/>
<rect x="324.7" y="496.6" width="104.2" height="103.9" fill="none" stroke="#444" stroke-width=".9"/>
<path d="M324.7 600.5v2M332.5 600.5v1.2M337.1 600.5v1.2M340.4 600.5v1.2M342.9 600.5v1.2M345 600.5v1.2M346.7 600.5v1.2M348.2 600.5v1.2M349.6 600.5v1.2M350.8 600.5v2M358.6 600.5v1.2M363.2 600.5v1.2M366.4 600.5v1.2M369 600.5v1.2M371 600.5v1.2M372.8 600.5v1.2M374.3 600.5v1.2M375.6 600.5v1.2M376.8 600.5v2M384.6 600.5v1.2M389.2 600.5v1.2M392.5 600.5v1.2M395 600.5v1.2M397.1 600.5v1.2M398.8 600.5v1.2M400.3 600.5v1.2M401.7 600.5v1.2M402.8 600.5v2M410.7 600.5v1.2M415.3 600.5v1.2M418.5 600.5v1.2M421.1 600.5v1.2M423.1 600.5v1.2M424.9 600.5v1.2M426.4 600.5v1.2M427.7 600.5v1.2M324.7 600.5h-2M324.7 595.3h-1.1M324.7 590.1h-1.1M324.7 584.9h-1.1M324.7 579.7h-2M324.7 574.5h-1.1M324.7 569.3h-1.1M324.7 564.1h-1.1M324.7 558.9h-2M324.7 553.7h-1.1M324.7 548.5h-1.1M324.7 543.4h-1.1M324.7 538.2h-2M324.7 533h-1.1M324.7 527.8h-1.1M324.7 522.6h-1.1M324.7 517.4h-2M324.7 512.2h-1.1M324.7 507h-1.1M324.7 501.8h-1.1M324.7 496.6h-2" stroke="#555" stroke-width=".5"/>
<text x="321.7" y="602.2" class="te" text-anchor="end">0</text>
<text x="321.7" y="581.4" class="te" text-anchor="end">20</text>
<text x="321.7" y="560.6" class="te" text-anchor="end">40</text>
<text x="321.7" y="539.9" class="te" text-anchor="end">60</text>
<text x="321.7" y="519.1" class="te" text-anchor="end">80</text>
<text x="321.7" y="498.3" class="te" text-anchor="end">100</text>
<text x="325.3" y="611.5" class="te" text-anchor="middle">10<tspan font-size="4" dy="-2.4">0</tspan></text>
<text x="351.4" y="611.5" class="te" text-anchor="middle">10<tspan font-size="4" dy="-2.4">1</tspan></text>
<text x="377.4" y="611.5" class="te" text-anchor="middle">10<tspan font-size="4" dy="-2.4">2</tspan></text>
<text x="403.4" y="611.5" class="te" text-anchor="middle">10<tspan font-size="4" dy="-2.4">3</tspan></text>
<text x="399" y="517.5" font-size="15.6">R11</text>
<path d="M467.7 600.5L470.2 597.5L472.7 592.3L474.3 585L475.9 576.3L477.2 567L478.4 556.5L479.6 544.5L480.8 531.9L481.7 524L482.6 517L483.5 511L484.3 505.9L485 508.5L485.8 512.1L486.6 517L487.5 522L488.3 530L489.2 539.3L490.2 549L491.2 559L493.2 565.2L494 572L494.9 578.8L496.7 584L498.6 588.6L501 592.5L503.5 596L506 597.6L508.5 599L513.4 600.5Z" fill="#c8e98e" stroke="#6fa53e" stroke-width=".75"/>
<path d="M466.5 600.5L469 598.3L471.4 594.8L473.3 588L475.1 578.8L476.4 569.5L477.6 559L478.8 547L480.1 534.3L481 525L481.8 517L482.6 510L483.3 504.7L485 504.2L485.7 509L486.3 514.6L487.2 524L488.2 534.3L489.2 544L490.2 554.1L491.3 564L492.4 573.8L494 582L495.6 588.6L497.6 593L499.8 596L502.3 598L504.8 599.5L511 600.5" fill="none" stroke="#383838" stroke-width=".72" stroke-linejoin="round"/>
<rect x="459.6" y="496.8" width="103.9" height="103.7" fill="none" stroke="#444" stroke-width=".9"/>
<path d="M459.6 600.5v2M467.4 600.5v1.2M472 600.5v1.2M475.2 600.5v1.2M477.8 600.5v1.2M479.8 600.5v1.2M481.6 600.5v1.2M483.1 600.5v1.2M484.4 600.5v1.2M485.6 600.5v2M493.4 600.5v1.2M498 600.5v1.2M501.2 600.5v1.2M503.7 600.5v1.2M505.8 600.5v1.2M507.5 600.5v1.2M509 600.5v1.2M510.4 600.5v1.2M511.6 600.5v2M519.4 600.5v1.2M523.9 600.5v1.2M527.2 600.5v1.2M529.7 600.5v1.2M531.8 600.5v1.2M533.5 600.5v1.2M535 600.5v1.2M536.3 600.5v1.2M537.5 600.5v2M545.3 600.5v1.2M549.9 600.5v1.2M553.2 600.5v1.2M555.7 600.5v1.2M557.7 600.5v1.2M559.5 600.5v1.2M561 600.5v1.2M562.3 600.5v1.2M459.6 600.5h-2M459.6 595.3h-1.1M459.6 590.1h-1.1M459.6 584.9h-1.1M459.6 579.8h-2M459.6 574.6h-1.1M459.6 569.4h-1.1M459.6 564.2h-1.1M459.6 559h-2M459.6 553.8h-1.1M459.6 548.6h-1.1M459.6 543.5h-1.1M459.6 538.3h-2M459.6 533.1h-1.1M459.6 527.9h-1.1M459.6 522.7h-1.1M459.6 517.5h-2M459.6 512.4h-1.1M459.6 507.2h-1.1M459.6 502h-1.1M459.6 496.8h-2" stroke="#555" stroke-width=".5"/>
<text x="456.6" y="602.2" class="te" text-anchor="end">0</text>
<text x="456.6" y="581.5" class="te" text-anchor="end">20</text>
<text x="456.6" y="560.7" class="te" text-anchor="end">40</text>
<text x="456.6" y="540" class="te" text-anchor="end">60</text>
<text x="456.6" y="519.2" class="te" text-anchor="end">80</text>
<text x="456.6" y="498.5" class="te" text-anchor="end">100</text>
<text x="460.2" y="611.5" class="te" text-anchor="middle">10<tspan font-size="4" dy="-2.4">0</tspan></text>
<text x="486.2" y="611.5" class="te" text-anchor="middle">10<tspan font-size="4" dy="-2.4">1</tspan></text>
<text x="512.1" y="611.5" class="te" text-anchor="middle">10<tspan font-size="4" dy="-2.4">2</tspan></text>
<text x="538.1" y="611.5" class="te" text-anchor="middle">10<tspan font-size="4" dy="-2.4">3</tspan></text>
<text x="514.4" y="517.5" font-size="15.6">U251</text>
<path d="M62.2 636.8H282V631.8L304.8 639.1L282 646.4V641.4H62.2Z" fill="#000"/>
<text x="92.6" y="668" font-size="16">Aldefluor Fluorescence</text>
</g>
</g>
</svg>
</body></html>
